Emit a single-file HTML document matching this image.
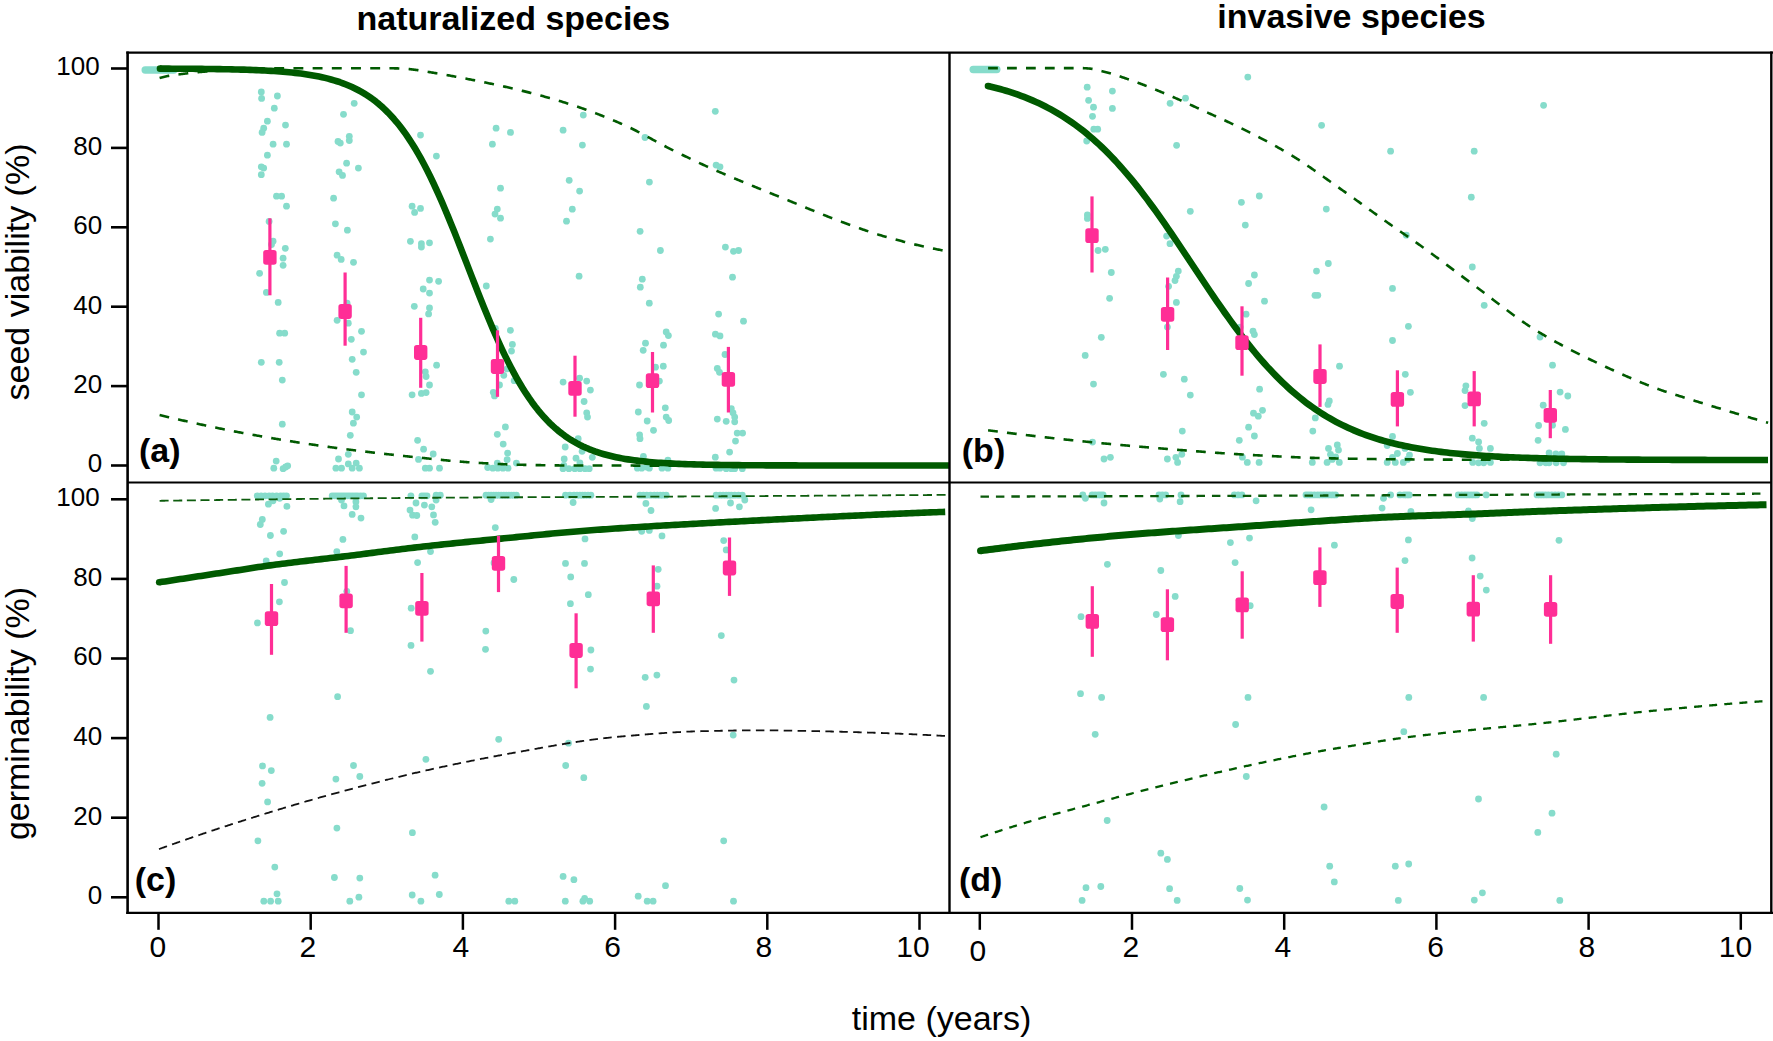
<!DOCTYPE html>
<html lang="en"><head><meta charset="utf-8"><title>Seed viability and germinability over time</title>
<style>
html,body{margin:0;padding:0;background:#fff;}
body{width:1773px;height:1041px;overflow:hidden;}
svg{display:block;}
text{font-family:"Liberation Sans",sans-serif;fill:#000;}
.tk{font-size:26px;}
.tx{font-size:30px;}
.ax{font-size:34px;}
.ti{font-size:34px;font-weight:bold;}
.pl{font-size:34px;font-weight:bold;}
</style></head><body>
<svg width="1773" height="1041" viewBox="0 0 1773 1041">
<rect width="1773" height="1041" fill="#fff"/>
<defs>
<clipPath id="ca"><rect x="127.6" y="52.6" width="821.9" height="429.8"/></clipPath>
<clipPath id="cb"><rect x="949.5" y="52.6" width="821.8" height="429.8"/></clipPath>
<clipPath id="cc"><rect x="127.6" y="482.4" width="821.9" height="430.4"/></clipPath>
<clipPath id="cd"><rect x="949.5" y="482.4" width="821.8" height="430.4"/></clipPath>
</defs>

<g fill="#86dccb">
<rect x="141.5" y="66.3" width="36" height="7.4" rx="3.7"/>
<rect x="969.5" y="65.8" width="31" height="7.4" rx="3.7"/>
<circle cx="261.3" cy="92.0" r="3.4"/>
<circle cx="261.6" cy="98.4" r="3.4"/>
<circle cx="277.4" cy="96.0" r="3.4"/>
<circle cx="274.3" cy="108.2" r="3.4"/>
<circle cx="267.4" cy="121.2" r="3.4"/>
<circle cx="285.5" cy="125.1" r="3.4"/>
<circle cx="263.7" cy="128.2" r="3.4"/>
<circle cx="262.1" cy="132.4" r="3.4"/>
<circle cx="273.1" cy="144.2" r="3.4"/>
<circle cx="286.5" cy="144.2" r="3.4"/>
<circle cx="267.4" cy="155.2" r="3.4"/>
<circle cx="261.3" cy="166.8" r="3.4"/>
<circle cx="263.7" cy="168.1" r="3.4"/>
<circle cx="261.3" cy="174.7" r="3.4"/>
<circle cx="276.5" cy="196.2" r="3.4"/>
<circle cx="281.6" cy="196.2" r="3.4"/>
<circle cx="286.5" cy="206.2" r="3.4"/>
<circle cx="269.1" cy="221.4" r="3.4"/>
<circle cx="354.2" cy="103.3" r="3.4"/>
<circle cx="343.5" cy="114.3" r="3.4"/>
<circle cx="349.3" cy="136.3" r="3.4"/>
<circle cx="349.3" cy="140.5" r="3.4"/>
<circle cx="338.0" cy="141.4" r="3.4"/>
<circle cx="340.3" cy="143.1" r="3.4"/>
<circle cx="346.6" cy="163.2" r="3.4"/>
<circle cx="358.4" cy="168.1" r="3.4"/>
<circle cx="339.1" cy="171.8" r="3.4"/>
<circle cx="342.5" cy="175.4" r="3.4"/>
<circle cx="333.6" cy="198.2" r="3.4"/>
<circle cx="335.4" cy="223.8" r="3.4"/>
<circle cx="420.5" cy="135.1" r="3.4"/>
<circle cx="412.1" cy="206.2" r="3.4"/>
<circle cx="420.5" cy="208.4" r="3.4"/>
<circle cx="414.6" cy="212.4" r="3.4"/>
<circle cx="273.1" cy="241.2" r="3.4"/>
<circle cx="271.5" cy="244.5" r="3.4"/>
<circle cx="285.3" cy="248.3" r="3.4"/>
<circle cx="283.1" cy="258.2" r="3.4"/>
<circle cx="283.1" cy="265.3" r="3.4"/>
<circle cx="259.6" cy="273.3" r="3.4"/>
<circle cx="266.4" cy="292.4" r="3.4"/>
<circle cx="278.2" cy="302.4" r="3.4"/>
<circle cx="279.6" cy="333.2" r="3.4"/>
<circle cx="284.7" cy="333.2" r="3.4"/>
<circle cx="261.3" cy="362.3" r="3.4"/>
<circle cx="279.2" cy="362.3" r="3.4"/>
<circle cx="282.3" cy="380.1" r="3.4"/>
<circle cx="347.4" cy="230.2" r="3.4"/>
<circle cx="337.1" cy="255.2" r="3.4"/>
<circle cx="341.2" cy="259.4" r="3.4"/>
<circle cx="353.5" cy="262.3" r="3.4"/>
<circle cx="347.1" cy="303.2" r="3.4"/>
<circle cx="337.1" cy="320.3" r="3.4"/>
<circle cx="348.3" cy="323.2" r="3.4"/>
<circle cx="361.5" cy="331.3" r="3.4"/>
<circle cx="351.3" cy="339.3" r="3.4"/>
<circle cx="363.5" cy="352.1" r="3.4"/>
<circle cx="352.2" cy="359.3" r="3.4"/>
<circle cx="356.2" cy="372.3" r="3.4"/>
<circle cx="361.5" cy="394.8" r="3.4"/>
<circle cx="410.4" cy="241.3" r="3.4"/>
<circle cx="421.4" cy="243.7" r="3.4"/>
<circle cx="421.4" cy="247.1" r="3.4"/>
<circle cx="429.5" cy="242.8" r="3.4"/>
<circle cx="423.2" cy="289.0" r="3.4"/>
<circle cx="429.5" cy="280.1" r="3.4"/>
<circle cx="429.5" cy="293.1" r="3.4"/>
<circle cx="414.3" cy="306.3" r="3.4"/>
<circle cx="429.5" cy="308.0" r="3.4"/>
<circle cx="428.6" cy="313.9" r="3.4"/>
<circle cx="425.3" cy="371.8" r="3.4"/>
<circle cx="426.1" cy="376.5" r="3.4"/>
<circle cx="429.5" cy="385.0" r="3.4"/>
<circle cx="412.1" cy="394.8" r="3.4"/>
<circle cx="421.4" cy="393.4" r="3.4"/>
<circle cx="426.1" cy="392.6" r="3.4"/>
<circle cx="282.3" cy="424.2" r="3.4"/>
<circle cx="276.2" cy="461.1" r="3.4"/>
<circle cx="273.8" cy="468.2" r="3.4"/>
<circle cx="283.1" cy="468.7" r="3.4"/>
<circle cx="285.7" cy="467.0" r="3.4"/>
<circle cx="287.7" cy="465.8" r="3.4"/>
<circle cx="352.2" cy="412.0" r="3.4"/>
<circle cx="356.7" cy="417.1" r="3.4"/>
<circle cx="353.4" cy="423.2" r="3.4"/>
<circle cx="350.3" cy="435.3" r="3.4"/>
<circle cx="348.3" cy="454.3" r="3.4"/>
<circle cx="338.5" cy="459.0" r="3.4"/>
<circle cx="348.3" cy="463.9" r="3.4"/>
<circle cx="356.2" cy="463.1" r="3.4"/>
<circle cx="335.9" cy="468.2" r="3.4"/>
<circle cx="341.5" cy="468.2" r="3.4"/>
<circle cx="352.2" cy="468.2" r="3.4"/>
<circle cx="359.4" cy="468.2" r="3.4"/>
<circle cx="417.6" cy="440.3" r="3.4"/>
<circle cx="423.6" cy="449.2" r="3.4"/>
<circle cx="418.5" cy="459.4" r="3.4"/>
<circle cx="425.3" cy="468.2" r="3.4"/>
<circle cx="429.5" cy="468.2" r="3.4"/>
<circle cx="257.2" cy="495.8" r="3.4"/>
<circle cx="261.1" cy="495.8" r="3.4"/>
<circle cx="265.0" cy="495.8" r="3.4"/>
<circle cx="269.1" cy="495.8" r="3.4"/>
<circle cx="272.5" cy="495.8" r="3.4"/>
<circle cx="280.6" cy="495.8" r="3.4"/>
<circle cx="286.5" cy="495.8" r="3.4"/>
<circle cx="279.7" cy="498.3" r="3.4"/>
<circle cx="268.4" cy="504.2" r="3.4"/>
<circle cx="273.0" cy="500.8" r="3.4"/>
<circle cx="286.9" cy="506.4" r="3.4"/>
<circle cx="262.3" cy="519.4" r="3.4"/>
<circle cx="260.3" cy="524.5" r="3.4"/>
<circle cx="283.6" cy="531.3" r="3.4"/>
<circle cx="270.4" cy="535.5" r="3.4"/>
<circle cx="279.7" cy="553.8" r="3.4"/>
<circle cx="266.2" cy="560.9" r="3.4"/>
<circle cx="332.2" cy="495.8" r="3.4"/>
<circle cx="337.3" cy="495.8" r="3.4"/>
<circle cx="342.4" cy="495.8" r="3.4"/>
<circle cx="347.4" cy="495.8" r="3.4"/>
<circle cx="352.5" cy="495.8" r="3.4"/>
<circle cx="357.6" cy="495.8" r="3.4"/>
<circle cx="363.5" cy="495.8" r="3.4"/>
<circle cx="341.5" cy="500.0" r="3.4"/>
<circle cx="344.0" cy="505.9" r="3.4"/>
<circle cx="355.9" cy="501.7" r="3.4"/>
<circle cx="355.9" cy="506.8" r="3.4"/>
<circle cx="352.2" cy="514.4" r="3.4"/>
<circle cx="361.0" cy="518.1" r="3.4"/>
<circle cx="342.9" cy="539.4" r="3.4"/>
<circle cx="336.8" cy="551.6" r="3.4"/>
<circle cx="410.9" cy="495.8" r="3.4"/>
<circle cx="421.9" cy="495.8" r="3.4"/>
<circle cx="427.0" cy="495.8" r="3.4"/>
<circle cx="416.0" cy="503.0" r="3.4"/>
<circle cx="424.4" cy="505.1" r="3.4"/>
<circle cx="410.0" cy="510.1" r="3.4"/>
<circle cx="412.6" cy="515.2" r="3.4"/>
<circle cx="416.8" cy="515.5" r="3.4"/>
<circle cx="414.8" cy="536.9" r="3.4"/>
<circle cx="417.6" cy="562.6" r="3.4"/>
<circle cx="436.4" cy="156.1" r="3.4"/>
<circle cx="496.1" cy="128.2" r="3.4"/>
<circle cx="510.5" cy="132.4" r="3.4"/>
<circle cx="492.4" cy="144.2" r="3.4"/>
<circle cx="500.5" cy="188.2" r="3.4"/>
<circle cx="497.3" cy="209.1" r="3.4"/>
<circle cx="495.0" cy="214.1" r="3.4"/>
<circle cx="500.5" cy="218.2" r="3.4"/>
<circle cx="583.3" cy="115.1" r="3.4"/>
<circle cx="563.1" cy="130.2" r="3.4"/>
<circle cx="582.4" cy="145.1" r="3.4"/>
<circle cx="569.2" cy="180.3" r="3.4"/>
<circle cx="579.6" cy="191.1" r="3.4"/>
<circle cx="572.3" cy="209.2" r="3.4"/>
<circle cx="566.5" cy="221.2" r="3.4"/>
<circle cx="645.0" cy="137.5" r="3.4"/>
<circle cx="649.4" cy="182.1" r="3.4"/>
<circle cx="715.3" cy="111.3" r="3.4"/>
<circle cx="716.1" cy="165.1" r="3.4"/>
<circle cx="720.0" cy="166.8" r="3.4"/>
<circle cx="438.6" cy="281.3" r="3.4"/>
<circle cx="436.6" cy="365.2" r="3.4"/>
<circle cx="490.4" cy="239.1" r="3.4"/>
<circle cx="486.3" cy="286.0" r="3.4"/>
<circle cx="495.3" cy="328.3" r="3.4"/>
<circle cx="510.4" cy="330.3" r="3.4"/>
<circle cx="512.4" cy="344.4" r="3.4"/>
<circle cx="511.5" cy="351.1" r="3.4"/>
<circle cx="507.1" cy="368.9" r="3.4"/>
<circle cx="503.8" cy="375.3" r="3.4"/>
<circle cx="514.2" cy="380.7" r="3.4"/>
<circle cx="499.5" cy="385.0" r="3.4"/>
<circle cx="493.3" cy="392.3" r="3.4"/>
<circle cx="579.1" cy="276.2" r="3.4"/>
<circle cx="579.6" cy="378.2" r="3.4"/>
<circle cx="586.7" cy="381.1" r="3.4"/>
<circle cx="563.1" cy="382.1" r="3.4"/>
<circle cx="590.4" cy="390.1" r="3.4"/>
<circle cx="640.1" cy="231.3" r="3.4"/>
<circle cx="660.4" cy="250.5" r="3.4"/>
<circle cx="642.3" cy="279.2" r="3.4"/>
<circle cx="640.3" cy="287.2" r="3.4"/>
<circle cx="649.3" cy="303.2" r="3.4"/>
<circle cx="666.2" cy="332.0" r="3.4"/>
<circle cx="668.4" cy="335.6" r="3.4"/>
<circle cx="645.5" cy="343.2" r="3.4"/>
<circle cx="663.5" cy="345.2" r="3.4"/>
<circle cx="643.2" cy="350.3" r="3.4"/>
<circle cx="663.3" cy="366.2" r="3.4"/>
<circle cx="655.5" cy="367.2" r="3.4"/>
<circle cx="659.4" cy="381.1" r="3.4"/>
<circle cx="639.5" cy="385.0" r="3.4"/>
<circle cx="718.6" cy="314.1" r="3.4"/>
<circle cx="715.4" cy="334.2" r="3.4"/>
<circle cx="720.0" cy="335.9" r="3.4"/>
<circle cx="717.3" cy="368.4" r="3.4"/>
<circle cx="719.5" cy="372.3" r="3.4"/>
<circle cx="433.2" cy="454.0" r="3.4"/>
<circle cx="439.5" cy="468.2" r="3.4"/>
<circle cx="494.5" cy="395.9" r="3.4"/>
<circle cx="505.4" cy="426.9" r="3.4"/>
<circle cx="497.3" cy="434.3" r="3.4"/>
<circle cx="503.2" cy="444.1" r="3.4"/>
<circle cx="507.6" cy="453.1" r="3.4"/>
<circle cx="507.1" cy="459.7" r="3.4"/>
<circle cx="497.3" cy="463.1" r="3.4"/>
<circle cx="516.4" cy="463.1" r="3.4"/>
<circle cx="487.7" cy="467.5" r="3.4"/>
<circle cx="492.8" cy="468.2" r="3.4"/>
<circle cx="497.8" cy="468.2" r="3.4"/>
<circle cx="502.9" cy="468.2" r="3.4"/>
<circle cx="508.0" cy="468.2" r="3.4"/>
<circle cx="584.1" cy="401.5" r="3.4"/>
<circle cx="586.7" cy="412.8" r="3.4"/>
<circle cx="587.5" cy="417.1" r="3.4"/>
<circle cx="578.2" cy="438.7" r="3.4"/>
<circle cx="565.2" cy="447.0" r="3.4"/>
<circle cx="582.1" cy="451.3" r="3.4"/>
<circle cx="564.2" cy="458.9" r="3.4"/>
<circle cx="576.0" cy="458.2" r="3.4"/>
<circle cx="592.3" cy="457.3" r="3.4"/>
<circle cx="579.9" cy="462.8" r="3.4"/>
<circle cx="563.8" cy="465.3" r="3.4"/>
<circle cx="563.0" cy="468.7" r="3.4"/>
<circle cx="568.9" cy="468.7" r="3.4"/>
<circle cx="574.8" cy="468.7" r="3.4"/>
<circle cx="579.9" cy="468.7" r="3.4"/>
<circle cx="585.0" cy="468.7" r="3.4"/>
<circle cx="589.2" cy="468.7" r="3.4"/>
<circle cx="638.3" cy="412.0" r="3.4"/>
<circle cx="665.3" cy="407.8" r="3.4"/>
<circle cx="666.2" cy="417.1" r="3.4"/>
<circle cx="668.7" cy="420.5" r="3.4"/>
<circle cx="647.2" cy="421.0" r="3.4"/>
<circle cx="653.5" cy="430.3" r="3.4"/>
<circle cx="639.6" cy="434.8" r="3.4"/>
<circle cx="640.0" cy="438.7" r="3.4"/>
<circle cx="643.4" cy="456.3" r="3.4"/>
<circle cx="667.9" cy="460.2" r="3.4"/>
<circle cx="637.4" cy="468.2" r="3.4"/>
<circle cx="641.7" cy="468.2" r="3.4"/>
<circle cx="646.7" cy="467.0" r="3.4"/>
<circle cx="649.3" cy="468.2" r="3.4"/>
<circle cx="662.0" cy="468.2" r="3.4"/>
<circle cx="667.9" cy="468.2" r="3.4"/>
<circle cx="717.3" cy="419.1" r="3.4"/>
<circle cx="715.3" cy="457.2" r="3.4"/>
<circle cx="716.1" cy="468.2" r="3.4"/>
<circle cx="720.0" cy="468.2" r="3.4"/>
<circle cx="436.1" cy="495.2" r="3.4"/>
<circle cx="440.3" cy="495.2" r="3.4"/>
<circle cx="436.1" cy="500.0" r="3.4"/>
<circle cx="431.8" cy="506.8" r="3.4"/>
<circle cx="433.5" cy="514.9" r="3.4"/>
<circle cx="435.2" cy="522.3" r="3.4"/>
<circle cx="430.5" cy="551.6" r="3.4"/>
<circle cx="486.0" cy="495.2" r="3.4"/>
<circle cx="491.1" cy="495.2" r="3.4"/>
<circle cx="496.1" cy="495.2" r="3.4"/>
<circle cx="501.2" cy="495.2" r="3.4"/>
<circle cx="506.3" cy="495.2" r="3.4"/>
<circle cx="511.4" cy="495.2" r="3.4"/>
<circle cx="516.4" cy="495.2" r="3.4"/>
<circle cx="491.1" cy="499.6" r="3.4"/>
<circle cx="495.3" cy="527.6" r="3.4"/>
<circle cx="565.5" cy="495.2" r="3.4"/>
<circle cx="574.0" cy="495.2" r="3.4"/>
<circle cx="579.9" cy="495.2" r="3.4"/>
<circle cx="585.0" cy="495.2" r="3.4"/>
<circle cx="590.9" cy="495.2" r="3.4"/>
<circle cx="573.1" cy="502.5" r="3.4"/>
<circle cx="585.0" cy="538.9" r="3.4"/>
<circle cx="565.5" cy="563.4" r="3.4"/>
<circle cx="584.5" cy="563.4" r="3.4"/>
<circle cx="640.0" cy="495.2" r="3.4"/>
<circle cx="646.7" cy="495.2" r="3.4"/>
<circle cx="654.3" cy="495.2" r="3.4"/>
<circle cx="660.3" cy="495.2" r="3.4"/>
<circle cx="666.2" cy="495.2" r="3.4"/>
<circle cx="645.9" cy="503.4" r="3.4"/>
<circle cx="651.0" cy="510.5" r="3.4"/>
<circle cx="641.7" cy="531.3" r="3.4"/>
<circle cx="649.3" cy="530.4" r="3.4"/>
<circle cx="662.0" cy="535.9" r="3.4"/>
<circle cx="716.1" cy="495.2" r="3.4"/>
<circle cx="720.0" cy="495.2" r="3.4"/>
<circle cx="715.6" cy="508.4" r="3.4"/>
<circle cx="725.4" cy="247.1" r="3.4"/>
<circle cx="733.5" cy="251.3" r="3.4"/>
<circle cx="738.6" cy="250.5" r="3.4"/>
<circle cx="732.5" cy="277.2" r="3.4"/>
<circle cx="743.5" cy="321.2" r="3.4"/>
<circle cx="725.0" cy="354.5" r="3.4"/>
<circle cx="731.3" cy="408.6" r="3.4"/>
<circle cx="733.0" cy="412.8" r="3.4"/>
<circle cx="734.7" cy="417.1" r="3.4"/>
<circle cx="726.2" cy="421.3" r="3.4"/>
<circle cx="734.7" cy="421.8" r="3.4"/>
<circle cx="737.2" cy="433.1" r="3.4"/>
<circle cx="742.6" cy="433.1" r="3.4"/>
<circle cx="735.5" cy="441.1" r="3.4"/>
<circle cx="729.6" cy="452.1" r="3.4"/>
<circle cx="726.2" cy="468.7" r="3.4"/>
<circle cx="731.3" cy="468.7" r="3.4"/>
<circle cx="734.7" cy="468.7" r="3.4"/>
<circle cx="742.3" cy="468.7" r="3.4"/>
<circle cx="726.2" cy="495.2" r="3.4"/>
<circle cx="731.3" cy="495.2" r="3.4"/>
<circle cx="734.7" cy="495.2" r="3.4"/>
<circle cx="742.3" cy="495.2" r="3.4"/>
<circle cx="744.8" cy="500.0" r="3.4"/>
<circle cx="730.5" cy="503.0" r="3.4"/>
<circle cx="739.4" cy="506.8" r="3.4"/>
<circle cx="723.7" cy="540.6" r="3.4"/>
<circle cx="726.2" cy="549.9" r="3.4"/>
<circle cx="1087.2" cy="87.2" r="3.4"/>
<circle cx="1112.4" cy="91.1" r="3.4"/>
<circle cx="1088.6" cy="100.3" r="3.4"/>
<circle cx="1093.5" cy="107.2" r="3.4"/>
<circle cx="1112.4" cy="108.4" r="3.4"/>
<circle cx="1092.5" cy="116.3" r="3.4"/>
<circle cx="1093.8" cy="129.2" r="3.4"/>
<circle cx="1097.7" cy="129.2" r="3.4"/>
<circle cx="1086.7" cy="141.0" r="3.4"/>
<circle cx="1087.4" cy="215.0" r="3.4"/>
<circle cx="1087.4" cy="218.4" r="3.4"/>
<circle cx="1185.5" cy="98.2" r="3.4"/>
<circle cx="1170.1" cy="103.3" r="3.4"/>
<circle cx="1176.6" cy="145.3" r="3.4"/>
<circle cx="1190.3" cy="211.3" r="3.4"/>
<circle cx="1247.8" cy="77.1" r="3.4"/>
<circle cx="1241.4" cy="202.3" r="3.4"/>
<circle cx="1245.3" cy="225.1" r="3.4"/>
<circle cx="1098.1" cy="250.5" r="3.4"/>
<circle cx="1105.3" cy="249.3" r="3.4"/>
<circle cx="1111.3" cy="272.5" r="3.4"/>
<circle cx="1109.6" cy="298.3" r="3.4"/>
<circle cx="1101.3" cy="337.3" r="3.4"/>
<circle cx="1085.2" cy="355.4" r="3.4"/>
<circle cx="1093.5" cy="384.1" r="3.4"/>
<circle cx="1166.6" cy="236.1" r="3.4"/>
<circle cx="1170.0" cy="243.7" r="3.4"/>
<circle cx="1178.3" cy="271.1" r="3.4"/>
<circle cx="1176.4" cy="276.3" r="3.4"/>
<circle cx="1175.0" cy="280.6" r="3.4"/>
<circle cx="1168.6" cy="286.3" r="3.4"/>
<circle cx="1176.4" cy="302.4" r="3.4"/>
<circle cx="1167.4" cy="327.1" r="3.4"/>
<circle cx="1163.4" cy="374.3" r="3.4"/>
<circle cx="1184.3" cy="379.2" r="3.4"/>
<circle cx="1190.3" cy="395.1" r="3.4"/>
<circle cx="1248.6" cy="283.5" r="3.4"/>
<circle cx="1246.1" cy="314.2" r="3.4"/>
<circle cx="1240.2" cy="327.1" r="3.4"/>
<circle cx="1092.5" cy="442.1" r="3.4"/>
<circle cx="1104.0" cy="459.0" r="3.4"/>
<circle cx="1110.4" cy="457.3" r="3.4"/>
<circle cx="1182.3" cy="431.1" r="3.4"/>
<circle cx="1181.8" cy="454.3" r="3.4"/>
<circle cx="1175.9" cy="457.3" r="3.4"/>
<circle cx="1167.4" cy="459.0" r="3.4"/>
<circle cx="1177.6" cy="462.4" r="3.4"/>
<circle cx="1248.6" cy="427.2" r="3.4"/>
<circle cx="1239.3" cy="440.3" r="3.4"/>
<circle cx="1242.4" cy="457.2" r="3.4"/>
<circle cx="1247.3" cy="462.4" r="3.4"/>
<circle cx="1082.8" cy="494.9" r="3.4"/>
<circle cx="1092.1" cy="494.9" r="3.4"/>
<circle cx="1098.1" cy="494.9" r="3.4"/>
<circle cx="1103.1" cy="494.9" r="3.4"/>
<circle cx="1085.4" cy="498.3" r="3.4"/>
<circle cx="1104.0" cy="503.0" r="3.4"/>
<circle cx="1107.4" cy="564.3" r="3.4"/>
<circle cx="1159.0" cy="494.9" r="3.4"/>
<circle cx="1165.7" cy="494.9" r="3.4"/>
<circle cx="1181.0" cy="494.9" r="3.4"/>
<circle cx="1159.8" cy="499.1" r="3.4"/>
<circle cx="1180.1" cy="501.7" r="3.4"/>
<circle cx="1178.4" cy="535.5" r="3.4"/>
<circle cx="1234.3" cy="494.9" r="3.4"/>
<circle cx="1241.9" cy="494.9" r="3.4"/>
<circle cx="1230.4" cy="542.6" r="3.4"/>
<circle cx="1249.5" cy="538.1" r="3.4"/>
<circle cx="1235.1" cy="562.6" r="3.4"/>
<circle cx="1321.6" cy="125.3" r="3.4"/>
<circle cx="1390.6" cy="151.2" r="3.4"/>
<circle cx="1474.2" cy="151.2" r="3.4"/>
<circle cx="1259.3" cy="196.0" r="3.4"/>
<circle cx="1326.3" cy="209.1" r="3.4"/>
<circle cx="1471.3" cy="197.2" r="3.4"/>
<circle cx="1254.4" cy="275.0" r="3.4"/>
<circle cx="1264.5" cy="301.2" r="3.4"/>
<circle cx="1253.0" cy="331.2" r="3.4"/>
<circle cx="1254.4" cy="334.6" r="3.4"/>
<circle cx="1259.6" cy="389.2" r="3.4"/>
<circle cx="1328.3" cy="263.5" r="3.4"/>
<circle cx="1316.5" cy="271.1" r="3.4"/>
<circle cx="1315.0" cy="295.3" r="3.4"/>
<circle cx="1317.8" cy="295.3" r="3.4"/>
<circle cx="1339.5" cy="366.2" r="3.4"/>
<circle cx="1406.3" cy="235.2" r="3.4"/>
<circle cx="1392.5" cy="288.4" r="3.4"/>
<circle cx="1408.4" cy="326.3" r="3.4"/>
<circle cx="1392.5" cy="340.5" r="3.4"/>
<circle cx="1405.3" cy="374.3" r="3.4"/>
<circle cx="1410.4" cy="392.3" r="3.4"/>
<circle cx="1472.3" cy="267.0" r="3.4"/>
<circle cx="1484.2" cy="305.3" r="3.4"/>
<circle cx="1465.9" cy="385.8" r="3.4"/>
<circle cx="1465.0" cy="390.6" r="3.4"/>
<circle cx="1540.0" cy="337.1" r="3.4"/>
<circle cx="1262.5" cy="410.3" r="3.4"/>
<circle cx="1253.5" cy="413.2" r="3.4"/>
<circle cx="1258.3" cy="416.2" r="3.4"/>
<circle cx="1254.4" cy="436.0" r="3.4"/>
<circle cx="1259.1" cy="462.4" r="3.4"/>
<circle cx="1329.3" cy="401.0" r="3.4"/>
<circle cx="1328.0" cy="404.4" r="3.4"/>
<circle cx="1315.3" cy="417.9" r="3.4"/>
<circle cx="1312.8" cy="431.1" r="3.4"/>
<circle cx="1337.3" cy="445.0" r="3.4"/>
<circle cx="1328.5" cy="448.4" r="3.4"/>
<circle cx="1338.5" cy="450.1" r="3.4"/>
<circle cx="1330.5" cy="454.3" r="3.4"/>
<circle cx="1335.6" cy="456.8" r="3.4"/>
<circle cx="1332.2" cy="459.4" r="3.4"/>
<circle cx="1312.3" cy="462.4" r="3.4"/>
<circle cx="1327.1" cy="462.4" r="3.4"/>
<circle cx="1339.3" cy="462.4" r="3.4"/>
<circle cx="1392.5" cy="436.5" r="3.4"/>
<circle cx="1387.2" cy="445.5" r="3.4"/>
<circle cx="1405.0" cy="448.4" r="3.4"/>
<circle cx="1397.4" cy="453.5" r="3.4"/>
<circle cx="1409.5" cy="455.1" r="3.4"/>
<circle cx="1392.5" cy="457.3" r="3.4"/>
<circle cx="1407.5" cy="459.4" r="3.4"/>
<circle cx="1387.2" cy="462.4" r="3.4"/>
<circle cx="1395.3" cy="462.4" r="3.4"/>
<circle cx="1403.3" cy="462.4" r="3.4"/>
<circle cx="1465.0" cy="405.6" r="3.4"/>
<circle cx="1484.2" cy="423.3" r="3.4"/>
<circle cx="1472.3" cy="438.2" r="3.4"/>
<circle cx="1478.6" cy="441.9" r="3.4"/>
<circle cx="1479.4" cy="448.4" r="3.4"/>
<circle cx="1490.4" cy="448.4" r="3.4"/>
<circle cx="1472.7" cy="462.4" r="3.4"/>
<circle cx="1478.6" cy="462.8" r="3.4"/>
<circle cx="1483.7" cy="462.8" r="3.4"/>
<circle cx="1490.4" cy="462.4" r="3.4"/>
<circle cx="1538.6" cy="425.5" r="3.4"/>
<circle cx="1538.1" cy="440.3" r="3.4"/>
<circle cx="1540.0" cy="462.8" r="3.4"/>
<circle cx="1256.1" cy="500.8" r="3.4"/>
<circle cx="1306.0" cy="494.9" r="3.4"/>
<circle cx="1311.1" cy="494.9" r="3.4"/>
<circle cx="1317.8" cy="494.9" r="3.4"/>
<circle cx="1323.8" cy="494.9" r="3.4"/>
<circle cx="1329.7" cy="494.9" r="3.4"/>
<circle cx="1335.6" cy="494.9" r="3.4"/>
<circle cx="1311.1" cy="509.8" r="3.4"/>
<circle cx="1390.6" cy="494.9" r="3.4"/>
<circle cx="1399.9" cy="494.9" r="3.4"/>
<circle cx="1404.1" cy="494.9" r="3.4"/>
<circle cx="1409.2" cy="494.9" r="3.4"/>
<circle cx="1383.5" cy="498.3" r="3.4"/>
<circle cx="1382.1" cy="508.1" r="3.4"/>
<circle cx="1410.9" cy="511.5" r="3.4"/>
<circle cx="1458.3" cy="494.9" r="3.4"/>
<circle cx="1465.0" cy="494.9" r="3.4"/>
<circle cx="1471.0" cy="494.9" r="3.4"/>
<circle cx="1476.9" cy="494.9" r="3.4"/>
<circle cx="1486.2" cy="494.9" r="3.4"/>
<circle cx="1468.4" cy="511.0" r="3.4"/>
<circle cx="1472.3" cy="518.6" r="3.4"/>
<circle cx="1537.0" cy="494.9" r="3.4"/>
<circle cx="1334.4" cy="545.2" r="3.4"/>
<circle cx="1408.4" cy="539.9" r="3.4"/>
<circle cx="1405.0" cy="560.6" r="3.4"/>
<circle cx="1472.1" cy="558.0" r="3.4"/>
<circle cx="1543.6" cy="105.3" r="3.4"/>
<circle cx="1552.5" cy="365.2" r="3.4"/>
<circle cx="1560.1" cy="392.1" r="3.4"/>
<circle cx="1567.8" cy="396.0" r="3.4"/>
<circle cx="1543.2" cy="405.2" r="3.4"/>
<circle cx="1552.5" cy="425.2" r="3.4"/>
<circle cx="1565.4" cy="429.4" r="3.4"/>
<circle cx="1549.1" cy="452.9" r="3.4"/>
<circle cx="1555.9" cy="454.0" r="3.4"/>
<circle cx="1561.8" cy="454.0" r="3.4"/>
<circle cx="1545.8" cy="462.8" r="3.4"/>
<circle cx="1549.1" cy="462.8" r="3.4"/>
<circle cx="1556.2" cy="462.8" r="3.4"/>
<circle cx="1563.5" cy="462.8" r="3.4"/>
<circle cx="1542.4" cy="494.9" r="3.4"/>
<circle cx="1548.3" cy="494.9" r="3.4"/>
<circle cx="1555.1" cy="494.9" r="3.4"/>
<circle cx="1561.8" cy="494.9" r="3.4"/>
<circle cx="1559.0" cy="540.3" r="3.4"/>
<circle cx="284.5" cy="582.5" r="3.4"/>
<circle cx="279.4" cy="601.8" r="3.4"/>
<circle cx="257.4" cy="622.9" r="3.4"/>
<circle cx="270.1" cy="717.4" r="3.4"/>
<circle cx="346.8" cy="591.3" r="3.4"/>
<circle cx="350.5" cy="630.7" r="3.4"/>
<circle cx="337.6" cy="696.7" r="3.4"/>
<circle cx="411.2" cy="608.2" r="3.4"/>
<circle cx="411.0" cy="645.4" r="3.4"/>
<circle cx="430.5" cy="671.3" r="3.4"/>
<circle cx="513.8" cy="579.5" r="3.4"/>
<circle cx="485.8" cy="631.1" r="3.4"/>
<circle cx="485.5" cy="649.3" r="3.4"/>
<circle cx="494.0" cy="563.0" r="3.4"/>
<circle cx="262.5" cy="765.9" r="3.4"/>
<circle cx="271.3" cy="770.6" r="3.4"/>
<circle cx="262.1" cy="783.3" r="3.4"/>
<circle cx="267.6" cy="801.9" r="3.4"/>
<circle cx="257.9" cy="840.8" r="3.4"/>
<circle cx="274.8" cy="867.1" r="3.4"/>
<circle cx="277.0" cy="893.8" r="3.4"/>
<circle cx="263.8" cy="901.2" r="3.4"/>
<circle cx="270.6" cy="901.2" r="3.4"/>
<circle cx="278.2" cy="901.2" r="3.4"/>
<circle cx="353.5" cy="765.5" r="3.4"/>
<circle cx="335.9" cy="779.1" r="3.4"/>
<circle cx="359.8" cy="776.5" r="3.4"/>
<circle cx="336.9" cy="828.1" r="3.4"/>
<circle cx="334.4" cy="877.5" r="3.4"/>
<circle cx="359.8" cy="878.1" r="3.4"/>
<circle cx="358.9" cy="897.2" r="3.4"/>
<circle cx="349.8" cy="901.2" r="3.4"/>
<circle cx="425.9" cy="759.3" r="3.4"/>
<circle cx="412.4" cy="832.7" r="3.4"/>
<circle cx="435.1" cy="875.2" r="3.4"/>
<circle cx="412.2" cy="895.0" r="3.4"/>
<circle cx="439.3" cy="894.5" r="3.4"/>
<circle cx="420.9" cy="901.2" r="3.4"/>
<circle cx="498.7" cy="739.3" r="3.4"/>
<circle cx="508.8" cy="901.2" r="3.4"/>
<circle cx="514.8" cy="901.2" r="3.4"/>
<circle cx="570.7" cy="576.9" r="3.4"/>
<circle cx="588.3" cy="594.7" r="3.4"/>
<circle cx="570.4" cy="603.7" r="3.4"/>
<circle cx="590.9" cy="650.0" r="3.4"/>
<circle cx="590.5" cy="669.1" r="3.4"/>
<circle cx="658.2" cy="569.3" r="3.4"/>
<circle cx="657.0" cy="586.2" r="3.4"/>
<circle cx="645.2" cy="677.3" r="3.4"/>
<circle cx="656.9" cy="675.1" r="3.4"/>
<circle cx="646.4" cy="706.4" r="3.4"/>
<circle cx="721.3" cy="635.6" r="3.4"/>
<circle cx="734.0" cy="680.1" r="3.4"/>
<circle cx="733.2" cy="735.1" r="3.4"/>
<circle cx="568.5" cy="743.2" r="3.4"/>
<circle cx="565.7" cy="765.5" r="3.4"/>
<circle cx="583.8" cy="777.7" r="3.4"/>
<circle cx="563.1" cy="876.4" r="3.4"/>
<circle cx="573.9" cy="879.7" r="3.4"/>
<circle cx="565.3" cy="901.2" r="3.4"/>
<circle cx="584.6" cy="898.4" r="3.4"/>
<circle cx="582.9" cy="901.2" r="3.4"/>
<circle cx="589.7" cy="901.2" r="3.4"/>
<circle cx="638.2" cy="896.2" r="3.4"/>
<circle cx="647.2" cy="901.2" r="3.4"/>
<circle cx="653.1" cy="901.2" r="3.4"/>
<circle cx="665.5" cy="885.7" r="3.4"/>
<circle cx="723.7" cy="840.8" r="3.4"/>
<circle cx="733.5" cy="901.2" r="3.4"/>
<circle cx="1081.0" cy="616.7" r="3.4"/>
<circle cx="1080.5" cy="693.7" r="3.4"/>
<circle cx="1101.6" cy="697.4" r="3.4"/>
<circle cx="1095.2" cy="734.3" r="3.4"/>
<circle cx="1160.8" cy="570.5" r="3.4"/>
<circle cx="1175.2" cy="596.4" r="3.4"/>
<circle cx="1156.3" cy="614.5" r="3.4"/>
<circle cx="1250.2" cy="605.7" r="3.4"/>
<circle cx="1248.0" cy="697.4" r="3.4"/>
<circle cx="1235.6" cy="724.5" r="3.4"/>
<circle cx="1107.2" cy="820.5" r="3.4"/>
<circle cx="1086.0" cy="887.7" r="3.4"/>
<circle cx="1100.8" cy="886.5" r="3.4"/>
<circle cx="1082.1" cy="900.4" r="3.4"/>
<circle cx="1160.8" cy="853.2" r="3.4"/>
<circle cx="1167.4" cy="859.4" r="3.4"/>
<circle cx="1169.6" cy="888.7" r="3.4"/>
<circle cx="1177.2" cy="900.4" r="3.4"/>
<circle cx="1246.3" cy="776.5" r="3.4"/>
<circle cx="1239.8" cy="888.5" r="3.4"/>
<circle cx="1247.5" cy="900.1" r="3.4"/>
<circle cx="1324.1" cy="807.0" r="3.4"/>
<circle cx="1329.7" cy="866.2" r="3.4"/>
<circle cx="1334.3" cy="881.9" r="3.4"/>
<circle cx="1480.2" cy="576.1" r="3.4"/>
<circle cx="1486.3" cy="590.1" r="3.4"/>
<circle cx="1408.8" cy="697.4" r="3.4"/>
<circle cx="1483.6" cy="697.4" r="3.4"/>
<circle cx="1403.8" cy="731.7" r="3.4"/>
<circle cx="1395.3" cy="866.2" r="3.4"/>
<circle cx="1408.7" cy="864.0" r="3.4"/>
<circle cx="1398.3" cy="900.4" r="3.4"/>
<circle cx="1478.5" cy="799.0" r="3.4"/>
<circle cx="1482.4" cy="892.8" r="3.4"/>
<circle cx="1474.3" cy="900.1" r="3.4"/>
<circle cx="1556.2" cy="754.2" r="3.4"/>
<circle cx="1552.0" cy="813.2" r="3.4"/>
<circle cx="1537.8" cy="832.4" r="3.4"/>
<circle cx="1559.8" cy="900.4" r="3.4"/>
<circle cx="276.6" cy="495.8" r="3.4"/>
<circle cx="283.6" cy="495.8" r="3.4"/>
<circle cx="334.8" cy="495.8" r="3.4"/>
<circle cx="339.9" cy="495.8" r="3.4"/>
<circle cx="344.9" cy="495.8" r="3.4"/>
<circle cx="349.9" cy="495.8" r="3.4"/>
<circle cx="355.1" cy="495.8" r="3.4"/>
<circle cx="360.6" cy="495.8" r="3.4"/>
<circle cx="424.4" cy="495.8" r="3.4"/>
<circle cx="488.6" cy="495.2" r="3.4"/>
<circle cx="493.6" cy="495.2" r="3.4"/>
<circle cx="498.6" cy="495.2" r="3.4"/>
<circle cx="503.8" cy="495.2" r="3.4"/>
<circle cx="508.9" cy="495.2" r="3.4"/>
<circle cx="513.9" cy="495.2" r="3.4"/>
<circle cx="569.8" cy="495.2" r="3.4"/>
<circle cx="577.0" cy="495.2" r="3.4"/>
<circle cx="582.5" cy="495.2" r="3.4"/>
<circle cx="588.0" cy="495.2" r="3.4"/>
<circle cx="643.4" cy="495.2" r="3.4"/>
<circle cx="650.5" cy="495.2" r="3.4"/>
<circle cx="657.3" cy="495.2" r="3.4"/>
<circle cx="663.2" cy="495.2" r="3.4"/>
<circle cx="723.1" cy="495.2" r="3.4"/>
<circle cx="728.8" cy="495.2" r="3.4"/>
<circle cx="738.5" cy="495.2" r="3.4"/>
<circle cx="1095.1" cy="494.9" r="3.4"/>
<circle cx="1100.6" cy="494.9" r="3.4"/>
<circle cx="1162.3" cy="494.9" r="3.4"/>
<circle cx="1238.1" cy="494.9" r="3.4"/>
<circle cx="1308.5" cy="494.9" r="3.4"/>
<circle cx="1314.4" cy="494.9" r="3.4"/>
<circle cx="1320.8" cy="494.9" r="3.4"/>
<circle cx="1326.8" cy="494.9" r="3.4"/>
<circle cx="1332.7" cy="494.9" r="3.4"/>
<circle cx="1406.7" cy="494.9" r="3.4"/>
<circle cx="1461.7" cy="494.9" r="3.4"/>
<circle cx="1468.0" cy="494.9" r="3.4"/>
<circle cx="1474.0" cy="494.9" r="3.4"/>
<circle cx="1539.7" cy="494.9" r="3.4"/>
<circle cx="1545.3" cy="494.9" r="3.4"/>
<circle cx="1551.7" cy="494.9" r="3.4"/>
<circle cx="1558.4" cy="494.9" r="3.4"/>
</g>
<path d="M159.6,78.00 L160.6,77.73 L161.6,77.46 L162.6,77.20 L163.6,76.95 L164.6,76.71 L165.6,76.49 L166.6,76.27 L167.6,76.07 L168.6,75.89 L169.6,75.72 L170.6,75.55 L171.6,75.40 L172.6,75.24 L173.6,75.10 L174.6,74.96 L175.6,74.82 L176.6,74.69 L177.6,74.56 L178.6,74.43 L179.6,74.30 L180.6,74.18 L181.6,74.05 L182.6,73.92 L183.6,73.80 L184.6,73.68 L185.6,73.55 L186.6,73.43 L187.6,73.31 L188.6,73.19 L189.6,73.07 L190.6,72.95 L191.6,72.84 L192.6,72.73 L193.6,72.62 L194.6,72.51 L195.6,72.41 L196.6,72.31 L197.6,72.22 L198.6,72.12 L199.6,72.03 L200.6,71.95 L201.6,71.87 L202.6,71.78 L203.6,71.70 L204.6,71.62 L205.6,71.54 L206.6,71.47 L207.6,71.39 L208.6,71.32 L209.6,71.24 L210.6,71.17 L211.6,71.10 L212.6,71.03 L213.6,70.96 L214.6,70.90 L215.6,70.83 L216.6,70.77 L217.6,70.70 L218.6,70.64 L219.6,70.58 L220.6,70.52 L221.6,70.46 L222.6,70.40 L223.6,70.34 L224.6,70.29 L225.6,70.23 L226.6,70.18 L227.6,70.12 L228.6,70.07 L229.6,70.02 L230.6,69.97 L231.6,69.92 L232.6,69.87 L233.6,69.82 L234.6,69.77 L235.6,69.72 L236.6,69.67 L237.6,69.62 L238.6,69.58 L239.6,69.53 L240.6,69.48 L241.6,69.43 L242.6,69.39 L243.6,69.34 L244.6,69.30 L245.6,69.25 L246.6,69.21 L247.6,69.17 L248.6,69.13 L249.6,69.08 L250.6,69.04 L251.6,69.01 L252.6,68.97 L253.6,68.93 L254.6,68.90 L255.6,68.86 L256.6,68.83 L257.6,68.80 L258.6,68.76 L259.6,68.74 L260.6,68.71 L261.6,68.68 L262.6,68.65 L263.6,68.63 L264.6,68.61 L265.6,68.59 L266.6,68.57 L267.6,68.54 L268.6,68.52 L269.6,68.50 L270.6,68.48 L271.6,68.46 L272.6,68.44 L273.6,68.42 L274.6,68.40 L275.6,68.39 L276.6,68.37 L277.6,68.36 L278.6,68.34 L279.6,68.33 L280.6,68.32 L281.6,68.31 L282.6,68.31 L283.6,68.30 L284.6,68.30 L285.6,68.30 L286.6,68.30 L287.6,68.30 L288.6,68.30 L289.6,68.30 L290.6,68.30 L291.6,68.30 L292.6,68.30 L293.6,68.30 L294.6,68.30 L295.6,68.30 L296.6,68.30 L297.6,68.30 L298.6,68.30 L299.6,68.30 L300.6,68.30 L301.6,68.30 L302.6,68.30 L303.6,68.30 L304.6,68.30 L305.6,68.30 L306.6,68.30 L307.6,68.30 L308.6,68.30 L309.6,68.30 L310.6,68.30 L311.6,68.30 L312.6,68.30 L313.6,68.30 L314.6,68.30 L315.6,68.30 L316.6,68.30 L317.6,68.30 L318.6,68.30 L319.6,68.30 L320.6,68.30 L321.6,68.30 L322.6,68.30 L323.6,68.30 L324.6,68.30 L325.6,68.30 L326.6,68.30 L327.6,68.30 L328.6,68.30 L329.6,68.30 L330.6,68.30 L331.6,68.30 L332.6,68.30 L333.6,68.30 L334.6,68.30 L335.6,68.30 L336.6,68.30 L337.6,68.30 L338.6,68.30 L339.6,68.30 L340.6,68.30 L341.6,68.30 L342.6,68.30 L343.6,68.30 L344.6,68.30 L345.6,68.30 L346.6,68.30 L347.6,68.30 L348.6,68.30 L349.6,68.30 L350.6,68.30 L351.6,68.30 L352.6,68.30 L353.6,68.30 L354.6,68.30 L355.6,68.30 L356.6,68.30 L357.6,68.30 L358.6,68.30 L359.6,68.30 L360.6,68.30 L361.6,68.30 L362.6,68.30 L363.6,68.30 L364.6,68.30 L365.6,68.30 L366.6,68.30 L367.6,68.30 L368.6,68.30 L369.6,68.30 L370.6,68.30 L371.6,68.30 L372.6,68.30 L373.6,68.30 L374.6,68.30 L375.6,68.30 L376.6,68.30 L377.6,68.30 L378.6,68.30 L379.6,68.30 L380.6,68.30 L381.6,68.30 L382.6,68.30 L383.6,68.30 L384.6,68.30 L385.6,68.30 L386.6,68.30 L387.6,68.30 L388.6,68.30 L389.6,68.30 L390.6,68.30 L391.6,68.30 L392.6,68.30 L393.6,68.31 L394.6,68.33 L395.6,68.35 L396.6,68.38 L397.6,68.41 L398.6,68.45 L399.6,68.49 L400.6,68.53 L401.6,68.58 L402.6,68.63 L403.6,68.68 L404.6,68.73 L405.6,68.80 L406.6,68.87 L407.6,68.96 L408.6,69.06 L409.6,69.16 L410.6,69.27 L411.6,69.39 L412.6,69.51 L413.6,69.63 L414.6,69.75 L415.6,69.87 L416.6,70.01 L417.6,70.14 L418.6,70.29 L419.6,70.44 L420.6,70.60 L421.6,70.76 L422.6,70.93 L423.6,71.09 L424.6,71.26 L425.6,71.43 L426.6,71.60 L427.6,71.77 L428.6,71.93 L429.6,72.10 L430.6,72.27 L431.6,72.43 L432.6,72.60 L433.6,72.77 L434.6,72.94 L435.6,73.11 L436.6,73.29 L437.6,73.46 L438.6,73.63 L439.6,73.81 L440.6,73.98 L441.6,74.16 L442.6,74.33 L443.6,74.51 L444.6,74.69 L445.6,74.86 L446.6,75.04 L447.6,75.22 L448.6,75.40 L449.6,75.59 L450.6,75.77 L451.6,75.95 L452.6,76.13 L453.6,76.32 L454.6,76.50 L455.6,76.69 L456.6,76.87 L457.6,77.06 L458.6,77.25 L459.6,77.44 L460.6,77.63 L461.6,77.82 L462.6,78.01 L463.6,78.20 L464.6,78.39 L465.6,78.58 L466.6,78.78 L467.6,78.97 L468.6,79.17 L469.6,79.36 L470.6,79.56 L471.6,79.76 L472.6,79.96 L473.6,80.15 L474.6,80.35 L475.6,80.55 L476.6,80.75 L477.6,80.95 L478.6,81.15 L479.6,81.35 L480.6,81.56 L481.6,81.76 L482.6,81.96 L483.6,82.17 L484.6,82.37 L485.6,82.58 L486.6,82.78 L487.6,82.99 L488.6,83.20 L489.6,83.40 L490.6,83.61 L491.6,83.82 L492.6,84.04 L493.6,84.25 L494.6,84.46 L495.6,84.67 L496.6,84.89 L497.6,85.10 L498.6,85.32 L499.6,85.54 L500.6,85.76 L501.6,85.98 L502.6,86.20 L503.6,86.42 L504.6,86.64 L505.6,86.87 L506.6,87.09 L507.6,87.32 L508.6,87.55 L509.6,87.77 L510.6,88.00 L511.6,88.24 L512.6,88.47 L513.6,88.70 L514.6,88.94 L515.6,89.18 L516.6,89.41 L517.6,89.65 L518.6,89.89 L519.6,90.14 L520.6,90.38 L521.6,90.62 L522.6,90.87 L523.6,91.12 L524.6,91.37 L525.6,91.62 L526.6,91.87 L527.6,92.12 L528.6,92.38 L529.6,92.63 L530.6,92.89 L531.6,93.15 L532.6,93.41 L533.6,93.67 L534.6,93.93 L535.6,94.20 L536.6,94.46 L537.6,94.73 L538.6,95.00 L539.6,95.27 L540.6,95.54 L541.6,95.81 L542.6,96.09 L543.6,96.37 L544.6,96.64 L545.6,96.92 L546.6,97.20 L547.6,97.49 L548.6,97.77 L549.6,98.06 L550.6,98.34 L551.6,98.63 L552.6,98.92 L553.6,99.21 L554.6,99.51 L555.6,99.80 L556.6,100.10 L557.6,100.40 L558.6,100.70 L559.6,101.00 L560.6,101.31 L561.6,101.61 L562.6,101.92 L563.6,102.23 L564.6,102.54 L565.6,102.86 L566.6,103.17 L567.6,103.49 L568.6,103.81 L569.6,104.13 L570.6,104.45 L571.6,104.77 L572.6,105.10 L573.6,105.43 L574.6,105.76 L575.6,106.09 L576.6,106.43 L577.6,106.76 L578.6,107.10 L579.6,107.45 L580.6,107.79 L581.6,108.14 L582.6,108.49 L583.6,108.84 L584.6,109.19 L585.6,109.55 L586.6,109.91 L587.6,110.27 L588.6,110.63 L589.6,111.00 L590.6,111.37 L591.6,111.74 L592.6,112.11 L593.6,112.48 L594.6,112.86 L595.6,113.24 L596.6,113.62 L597.6,114.01 L598.6,114.39 L599.6,114.78 L600.6,115.17 L601.6,115.57 L602.6,115.96 L603.6,116.36 L604.6,116.76 L605.6,117.16 L606.6,117.56 L607.6,117.97 L608.6,118.38 L609.6,118.79 L610.6,119.20 L611.6,119.62 L612.6,120.03 L613.6,120.45 L614.6,120.87 L615.6,121.30 L616.6,121.72 L617.6,122.15 L618.6,122.58 L619.6,123.01 L620.6,123.45 L621.6,123.89 L622.6,124.32 L623.6,124.77 L624.6,125.21 L625.6,125.67 L626.6,126.13 L627.6,126.60 L628.6,127.07 L629.6,127.55 L630.6,128.03 L631.6,128.52 L632.6,129.01 L633.6,129.51 L634.6,130.01 L635.6,130.52 L636.6,131.03 L637.6,131.54 L638.6,132.06 L639.6,132.58 L640.6,133.10 L641.6,133.63 L642.6,134.16 L643.6,134.69 L644.6,135.22 L645.6,135.76 L646.6,136.30 L647.6,136.84 L648.6,137.38 L649.6,137.92 L650.6,138.46 L651.6,139.00 L652.6,139.54 L653.6,140.09 L654.6,140.63 L655.6,141.17 L656.6,141.71 L657.6,142.25 L658.6,142.79 L659.6,143.33 L660.6,143.87 L661.6,144.40 L662.6,144.93 L663.6,145.46 L664.6,145.99 L665.6,146.52 L666.6,147.04 L667.6,147.56 L668.6,148.08 L669.6,148.59 L670.6,149.10 L671.6,149.60 L672.6,150.11 L673.6,150.60 L674.6,151.09 L675.6,151.59 L676.6,152.08 L677.6,152.57 L678.6,153.06 L679.6,153.55 L680.6,154.04 L681.6,154.52 L682.6,155.01 L683.6,155.50 L684.6,155.98 L685.6,156.47 L686.6,156.95 L687.6,157.43 L688.6,157.91 L689.6,158.39 L690.6,158.87 L691.6,159.35 L692.6,159.82 L693.6,160.30 L694.6,160.77 L695.6,161.24 L696.6,161.71 L697.6,162.18 L698.6,162.65 L699.6,163.11 L700.6,163.58 L701.6,164.04 L702.6,164.50 L703.6,164.96 L704.6,165.41 L705.6,165.87 L706.6,166.32 L707.6,166.77 L708.6,167.22 L709.6,167.67 L710.6,168.11 L711.6,168.56 L712.6,169.00 L713.6,169.44 L714.6,169.88 L715.6,170.32 L716.6,170.76 L717.6,171.20 L718.6,171.63 L719.6,172.07 L720.6,172.50 L721.6,172.93 L722.6,173.36 L723.6,173.79 L724.6,174.22 L725.6,174.65 L726.6,175.08 L727.6,175.50 L728.6,175.93 L729.6,176.35 L730.6,176.78 L731.6,177.20 L732.6,177.62 L733.6,178.04 L734.6,178.46 L735.6,178.88 L736.6,179.30 L737.6,179.72 L738.6,180.13 L739.6,180.55 L740.6,180.96 L741.6,181.38 L742.6,181.79 L743.6,182.21 L744.6,182.62 L745.6,183.03 L746.6,183.44 L747.6,183.85 L748.6,184.27 L749.6,184.68 L750.6,185.09 L751.6,185.49 L752.6,185.90 L753.6,186.31 L754.6,186.72 L755.6,187.13 L756.6,187.54 L757.6,187.94 L758.6,188.35 L759.6,188.76 L760.6,189.16 L761.6,189.57 L762.6,189.97 L763.6,190.38 L764.6,190.79 L765.6,191.19 L766.6,191.60 L767.6,192.00 L768.6,192.41 L769.6,192.81 L770.6,193.22 L771.6,193.62 L772.6,194.03 L773.6,194.43 L774.6,194.84 L775.6,195.24 L776.6,195.65 L777.6,196.05 L778.6,196.46 L779.6,196.87 L780.6,197.27 L781.6,197.68 L782.6,198.09 L783.6,198.49 L784.6,198.90 L785.6,199.31 L786.6,199.72 L787.6,200.13 L788.6,200.53 L789.6,200.94 L790.6,201.36 L791.6,201.77 L792.6,202.18 L793.6,202.59 L794.6,203.00 L795.6,203.41 L796.6,203.83 L797.6,204.24 L798.6,204.65 L799.6,205.06 L800.6,205.48 L801.6,205.89 L802.6,206.30 L803.6,206.71 L804.6,207.13 L805.6,207.54 L806.6,207.95 L807.6,208.36 L808.6,208.77 L809.6,209.18 L810.6,209.59 L811.6,210.00 L812.6,210.41 L813.6,210.82 L814.6,211.23 L815.6,211.64 L816.6,212.04 L817.6,212.45 L818.6,212.85 L819.6,213.26 L820.6,213.66 L821.6,214.06 L822.6,214.47 L823.6,214.87 L824.6,215.27 L825.6,215.66 L826.6,216.06 L827.6,216.46 L828.6,216.85 L829.6,217.25 L830.6,217.64 L831.6,218.03 L832.6,218.42 L833.6,218.81 L834.6,219.19 L835.6,219.58 L836.6,219.96 L837.6,220.34 L838.6,220.72 L839.6,221.10 L840.6,221.48 L841.6,221.85 L842.6,222.22 L843.6,222.59 L844.6,222.96 L845.6,223.33 L846.6,223.69 L847.6,224.06 L848.6,224.42 L849.6,224.78 L850.6,225.14 L851.6,225.50 L852.6,225.86 L853.6,226.21 L854.6,226.57 L855.6,226.93 L856.6,227.29 L857.6,227.64 L858.6,228.00 L859.6,228.35 L860.6,228.70 L861.6,229.05 L862.6,229.40 L863.6,229.75 L864.6,230.09 L865.6,230.44 L866.6,230.78 L867.6,231.12 L868.6,231.45 L869.6,231.79 L870.6,232.12 L871.6,232.45 L872.6,232.78 L873.6,233.11 L874.6,233.43 L875.6,233.75 L876.6,234.06 L877.6,234.38 L878.6,234.69 L879.6,234.99 L880.6,235.30 L881.6,235.60 L882.6,235.89 L883.6,236.19 L884.6,236.47 L885.6,236.76 L886.6,237.04 L887.6,237.32 L888.6,237.60 L889.6,237.88 L890.6,238.15 L891.6,238.43 L892.6,238.70 L893.6,238.98 L894.6,239.25 L895.6,239.52 L896.6,239.79 L897.6,240.06 L898.6,240.32 L899.6,240.59 L900.6,240.85 L901.6,241.11 L902.6,241.38 L903.6,241.64 L904.6,241.89 L905.6,242.15 L906.6,242.41 L907.6,242.66 L908.6,242.91 L909.6,243.16 L910.6,243.41 L911.6,243.66 L912.6,243.91 L913.6,244.15 L914.6,244.39 L915.6,244.63 L916.6,244.87 L917.6,245.11 L918.6,245.34 L919.6,245.58 L920.6,245.81 L921.6,246.04 L922.6,246.27 L923.6,246.49 L924.6,246.72 L925.6,246.94 L926.6,247.16 L927.6,247.38 L928.6,247.59 L929.6,247.80 L930.6,248.02 L931.6,248.22 L932.6,248.43 L933.6,248.64 L934.6,248.84 L935.6,249.04 L936.6,249.24 L937.6,249.43 L938.6,249.62 L939.6,249.82 L940.6,250.00 L941.6,250.19 L942.6,250.37" fill="none" stroke="#005a00" stroke-width="2.6" stroke-dasharray="9.905 9.298" stroke-dashoffset="0" clip-path="url(#ca)"/>
<path d="M159.6,415.00 L160.6,415.24 L161.6,415.48 L162.6,415.72 L163.6,415.96 L164.6,416.20 L165.6,416.44 L166.6,416.68 L167.6,416.92 L168.6,417.15 L169.6,417.39 L170.6,417.63 L171.6,417.86 L172.6,418.10 L173.6,418.33 L174.6,418.56 L175.6,418.80 L176.6,419.03 L177.6,419.26 L178.6,419.49 L179.6,419.72 L180.6,419.95 L181.6,420.18 L182.6,420.41 L183.6,420.64 L184.6,420.87 L185.6,421.09 L186.6,421.32 L187.6,421.55 L188.6,421.77 L189.6,422.00 L190.6,422.22 L191.6,422.44 L192.6,422.67 L193.6,422.89 L194.6,423.11 L195.6,423.33 L196.6,423.55 L197.6,423.77 L198.6,423.99 L199.6,424.21 L200.6,424.42 L201.6,424.64 L202.6,424.86 L203.6,425.07 L204.6,425.29 L205.6,425.50 L206.6,425.71 L207.6,425.93 L208.6,426.14 L209.6,426.35 L210.6,426.56 L211.6,426.77 L212.6,426.98 L213.6,427.19 L214.6,427.40 L215.6,427.60 L216.6,427.81 L217.6,428.02 L218.6,428.22 L219.6,428.43 L220.6,428.63 L221.6,428.83 L222.6,429.04 L223.6,429.24 L224.6,429.44 L225.6,429.64 L226.6,429.84 L227.6,430.04 L228.6,430.23 L229.6,430.43 L230.6,430.63 L231.6,430.82 L232.6,431.02 L233.6,431.21 L234.6,431.41 L235.6,431.60 L236.6,431.79 L237.6,431.98 L238.6,432.17 L239.6,432.36 L240.6,432.55 L241.6,432.74 L242.6,432.93 L243.6,433.11 L244.6,433.30 L245.6,433.49 L246.6,433.67 L247.6,433.85 L248.6,434.04 L249.6,434.22 L250.6,434.40 L251.6,434.58 L252.6,434.76 L253.6,434.94 L254.6,435.12 L255.6,435.30 L256.6,435.48 L257.6,435.66 L258.6,435.84 L259.6,436.01 L260.6,436.19 L261.6,436.37 L262.6,436.54 L263.6,436.72 L264.6,436.89 L265.6,437.06 L266.6,437.24 L267.6,437.41 L268.6,437.58 L269.6,437.76 L270.6,437.93 L271.6,438.10 L272.6,438.27 L273.6,438.44 L274.6,438.61 L275.6,438.77 L276.6,438.94 L277.6,439.11 L278.6,439.28 L279.6,439.44 L280.6,439.61 L281.6,439.78 L282.6,439.94 L283.6,440.10 L284.6,440.27 L285.6,440.43 L286.6,440.59 L287.6,440.76 L288.6,440.92 L289.6,441.08 L290.6,441.24 L291.6,441.40 L292.6,441.56 L293.6,441.72 L294.6,441.87 L295.6,442.03 L296.6,442.19 L297.6,442.34 L298.6,442.50 L299.6,442.66 L300.6,442.81 L301.6,442.96 L302.6,443.12 L303.6,443.27 L304.6,443.42 L305.6,443.57 L306.6,443.73 L307.6,443.88 L308.6,444.03 L309.6,444.18 L310.6,444.32 L311.6,444.47 L312.6,444.62 L313.6,444.77 L314.6,444.91 L315.6,445.06 L316.6,445.20 L317.6,445.35 L318.6,445.49 L319.6,445.64 L320.6,445.78 L321.6,445.92 L322.6,446.06 L323.6,446.20 L324.6,446.34 L325.6,446.48 L326.6,446.62 L327.6,446.76 L328.6,446.90 L329.6,447.04 L330.6,447.17 L331.6,447.31 L332.6,447.45 L333.6,447.58 L334.6,447.72 L335.6,447.85 L336.6,447.98 L337.6,448.12 L338.6,448.25 L339.6,448.38 L340.6,448.51 L341.6,448.64 L342.6,448.77 L343.6,448.90 L344.6,449.03 L345.6,449.16 L346.6,449.29 L347.6,449.42 L348.6,449.55 L349.6,449.68 L350.6,449.80 L351.6,449.93 L352.6,450.06 L353.6,450.18 L354.6,450.31 L355.6,450.43 L356.6,450.56 L357.6,450.68 L358.6,450.80 L359.6,450.93 L360.6,451.05 L361.6,451.17 L362.6,451.29 L363.6,451.42 L364.6,451.54 L365.6,451.66 L366.6,451.78 L367.6,451.90 L368.6,452.02 L369.6,452.14 L370.6,452.26 L371.6,452.37 L372.6,452.49 L373.6,452.61 L374.6,452.73 L375.6,452.84 L376.6,452.96 L377.6,453.08 L378.6,453.19 L379.6,453.31 L380.6,453.42 L381.6,453.54 L382.6,453.65 L383.6,453.77 L384.6,453.88 L385.6,453.99 L386.6,454.11 L387.6,454.22 L388.6,454.33 L389.6,454.44 L390.6,454.55 L391.6,454.66 L392.6,454.78 L393.6,454.89 L394.6,455.00 L395.6,455.11 L396.6,455.22 L397.6,455.33 L398.6,455.43 L399.6,455.54 L400.6,455.65 L401.6,455.76 L402.6,455.87 L403.6,455.97 L404.6,456.08 L405.6,456.19 L406.6,456.29 L407.6,456.40 L408.6,456.51 L409.6,456.61 L410.6,456.72 L411.6,456.82 L412.6,456.93 L413.6,457.03 L414.6,457.13 L415.6,457.24 L416.6,457.34 L417.6,457.45 L418.6,457.55 L419.6,457.65 L420.6,457.75 L421.6,457.86 L422.6,457.96 L423.6,458.06 L424.6,458.16 L425.6,458.26 L426.6,458.37 L427.6,458.47 L428.6,458.57 L429.6,458.67 L430.6,458.78 L431.6,458.88 L432.6,458.98 L433.6,459.09 L434.6,459.19 L435.6,459.29 L436.6,459.39 L437.6,459.50 L438.6,459.60 L439.6,459.70 L440.6,459.80 L441.6,459.90 L442.6,460.00 L443.6,460.10 L444.6,460.20 L445.6,460.30 L446.6,460.40 L447.6,460.50 L448.6,460.59 L449.6,460.69 L450.6,460.78 L451.6,460.87 L452.6,460.97 L453.6,461.06 L454.6,461.15 L455.6,461.24 L456.6,461.32 L457.6,461.41 L458.6,461.50 L459.6,461.58 L460.6,461.66 L461.6,461.74 L462.6,461.82 L463.6,461.90 L464.6,461.97 L465.6,462.05 L466.6,462.12 L467.6,462.19 L468.6,462.26 L469.6,462.32 L470.6,462.39 L471.6,462.45 L472.6,462.51 L473.6,462.57 L474.6,462.64 L475.6,462.70 L476.6,462.76 L477.6,462.82 L478.6,462.88 L479.6,462.94 L480.6,463.00 L481.6,463.06 L482.6,463.12 L483.6,463.18 L484.6,463.24 L485.6,463.29 L486.6,463.35 L487.6,463.41 L488.6,463.46 L489.6,463.52 L490.6,463.57 L491.6,463.63 L492.6,463.68 L493.6,463.73 L494.6,463.78 L495.6,463.83 L496.6,463.88 L497.6,463.93 L498.6,463.98 L499.6,464.03 L500.6,464.08 L501.6,464.12 L502.6,464.17 L503.6,464.21 L504.6,464.25 L505.6,464.29 L506.6,464.34 L507.6,464.37 L508.6,464.41 L509.6,464.45 L510.6,464.49 L511.6,464.52 L512.6,464.56 L513.6,464.59 L514.6,464.62 L515.6,464.65 L516.6,464.68 L517.6,464.71 L518.6,464.73 L519.6,464.76 L520.6,464.78 L521.6,464.80 L522.6,464.82 L523.6,464.84 L524.6,464.87 L525.6,464.89 L526.6,464.91 L527.6,464.93 L528.6,464.95 L529.6,464.97 L530.6,464.99 L531.6,465.01 L532.6,465.03 L533.6,465.05 L534.6,465.07 L535.6,465.08 L536.6,465.10 L537.6,465.12 L538.6,465.14 L539.6,465.16 L540.6,465.17 L541.6,465.19 L542.6,465.21 L543.6,465.22 L544.6,465.24 L545.6,465.26 L546.6,465.27 L547.6,465.29 L548.6,465.30 L549.6,465.31 L550.6,465.33 L551.6,465.34 L552.6,465.35 L553.6,465.37 L554.6,465.38 L555.6,465.39 L556.6,465.40 L557.6,465.41 L558.6,465.42 L559.6,465.43 L560.6,465.44 L561.6,465.45 L562.6,465.45 L563.6,465.46 L564.6,465.47 L565.6,465.47 L566.6,465.48 L567.6,465.48 L568.6,465.49 L569.6,465.49 L570.6,465.50 L571.6,465.50 L572.6,465.50 L573.6,465.50 L574.6,465.50 L575.6,465.51 L576.6,465.51 L577.6,465.51 L578.6,465.51 L579.6,465.51 L580.6,465.51 L581.6,465.52 L582.6,465.52 L583.6,465.52 L584.6,465.52 L585.6,465.52 L586.6,465.52 L587.6,465.52 L588.6,465.53 L589.6,465.53 L590.6,465.53 L591.6,465.53 L592.6,465.53 L593.6,465.53 L594.6,465.53 L595.6,465.54 L596.6,465.54 L597.6,465.54 L598.6,465.54 L599.6,465.54 L600.6,465.54 L601.6,465.54 L602.6,465.54 L603.6,465.55 L604.6,465.55 L605.6,465.55 L606.6,465.55 L607.6,465.55 L608.6,465.55 L609.6,465.55 L610.6,465.55 L611.6,465.55 L612.6,465.56 L613.6,465.56 L614.6,465.56 L615.6,465.56 L616.6,465.56 L617.6,465.56 L618.6,465.56 L619.6,465.56 L620.6,465.56 L621.6,465.56 L622.6,465.57 L623.6,465.57 L624.6,465.57 L625.6,465.57 L626.6,465.57 L627.6,465.57 L628.6,465.57 L629.6,465.57 L630.6,465.57 L631.6,465.57 L632.6,465.57 L633.6,465.58 L634.6,465.58 L635.6,465.58 L636.6,465.58 L637.6,465.58 L638.6,465.58 L639.6,465.58 L640.6,465.58 L641.6,465.58 L642.6,465.58 L643.6,465.58 L644.6,465.58 L645.6,465.58 L646.6,465.58 L647.6,465.58 L648.6,465.59 L649.6,465.59 L650.6,465.59 L651.6,465.59 L652.6,465.59 L653.6,465.59 L654.6,465.59 L655.6,465.59 L656.6,465.59 L657.6,465.59 L658.6,465.59 L659.6,465.59 L660.6,465.59 L661.6,465.59 L662.6,465.59 L663.6,465.59 L664.6,465.59 L665.6,465.59 L666.6,465.59 L667.6,465.59 L668.6,465.59 L669.6,465.60 L670.6,465.60 L671.6,465.60 L672.6,465.60 L673.6,465.60 L674.6,465.60 L675.6,465.60 L676.6,465.60 L677.6,465.60 L678.6,465.60 L679.6,465.60 L680.6,465.60 L681.6,465.60 L682.6,465.60 L683.6,465.60 L684.6,465.60 L685.6,465.60 L686.6,465.60 L687.6,465.60 L688.6,465.60 L689.6,465.60 L690.6,465.60 L691.6,465.60 L692.6,465.60 L693.6,465.60 L694.6,465.60 L695.6,465.60 L696.6,465.60 L697.6,465.60 L698.6,465.60 L699.6,465.60 L700.6,465.60 L701.6,465.60 L702.6,465.60 L703.6,465.60 L704.6,465.60 L705.6,465.60 L706.6,465.60 L707.6,465.60 L708.6,465.60 L709.6,465.60 L710.6,465.60 L711.6,465.60 L712.6,465.60 L713.6,465.60 L714.6,465.60 L715.6,465.60 L716.6,465.60 L717.6,465.60 L718.6,465.60 L719.6,465.60 L720.6,465.60 L721.6,465.60 L722.6,465.60 L723.6,465.60 L724.6,465.60 L725.6,465.60 L726.6,465.60 L727.6,465.60 L728.6,465.60 L729.6,465.60 L730.6,465.60 L731.6,465.60 L732.6,465.60 L733.6,465.60 L734.6,465.60 L735.6,465.60 L736.6,465.60 L737.6,465.60 L738.6,465.60 L739.6,465.60 L740.6,465.60 L741.6,465.60 L742.6,465.60 L743.6,465.60 L744.6,465.60 L745.6,465.60 L746.6,465.60 L747.6,465.60 L748.6,465.60 L749.6,465.60 L750.6,465.60 L751.6,465.60 L752.6,465.60 L753.6,465.60 L754.6,465.60 L755.6,465.60 L756.6,465.60 L757.6,465.60 L758.6,465.60 L759.6,465.60 L760.6,465.60 L761.6,465.60 L762.6,465.60 L763.6,465.60 L764.6,465.60 L765.6,465.60 L766.6,465.60 L767.6,465.60 L768.6,465.60 L769.6,465.60 L770.6,465.60 L771.6,465.60 L772.6,465.60 L773.6,465.60 L774.6,465.60 L775.6,465.60 L776.6,465.60 L777.6,465.60 L778.6,465.60 L779.6,465.60 L780.6,465.60 L781.6,465.60 L782.6,465.60 L783.6,465.60 L784.6,465.60 L785.6,465.60 L786.6,465.60 L787.6,465.60 L788.6,465.60 L789.6,465.60 L790.6,465.60 L791.6,465.60 L792.6,465.60 L793.6,465.60 L794.6,465.60 L795.6,465.60 L796.6,465.60 L797.6,465.60 L798.6,465.60 L799.6,465.60 L800.6,465.60 L801.6,465.60 L802.6,465.60 L803.6,465.60 L804.6,465.60 L805.6,465.60 L806.6,465.60 L807.6,465.60 L808.6,465.60 L809.6,465.60 L810.6,465.60 L811.6,465.60 L812.6,465.60 L813.6,465.60 L814.6,465.60 L815.6,465.60 L816.6,465.60 L817.6,465.60 L818.6,465.60 L819.6,465.60 L820.6,465.60 L821.6,465.60 L822.6,465.60 L823.6,465.60 L824.6,465.60 L825.6,465.60 L826.6,465.60 L827.6,465.60 L828.6,465.60 L829.6,465.60 L830.6,465.60 L831.6,465.60 L832.6,465.60 L833.6,465.60 L834.6,465.60 L835.6,465.60 L836.6,465.60 L837.6,465.60 L838.6,465.60 L839.6,465.60 L840.6,465.60 L841.6,465.60 L842.6,465.60 L843.6,465.60 L844.6,465.60 L845.6,465.60 L846.6,465.60 L847.6,465.60 L848.6,465.60 L849.6,465.60 L850.6,465.60 L851.6,465.60 L852.6,465.60 L853.6,465.60 L854.6,465.60 L855.6,465.60 L856.6,465.60 L857.6,465.60 L858.6,465.60 L859.6,465.60 L860.6,465.60 L861.6,465.60 L862.6,465.60 L863.6,465.60 L864.6,465.60 L865.6,465.60 L866.6,465.60 L867.6,465.60 L868.6,465.60 L869.6,465.60 L870.6,465.60 L871.6,465.60 L872.6,465.60 L873.6,465.60 L874.6,465.60 L875.6,465.60 L876.6,465.60 L877.6,465.60 L878.6,465.60 L879.6,465.60 L880.6,465.60 L881.6,465.60 L882.6,465.60 L883.6,465.60 L884.6,465.60 L885.6,465.60 L886.6,465.60 L887.6,465.60 L888.6,465.60 L889.6,465.60 L890.6,465.60 L891.6,465.60 L892.6,465.60 L893.6,465.60 L894.6,465.60 L895.6,465.60 L896.6,465.60 L897.6,465.60 L898.6,465.60 L899.6,465.60 L900.6,465.60 L901.6,465.60 L902.6,465.60 L903.6,465.60 L904.6,465.60 L905.6,465.60 L906.6,465.60 L907.6,465.60 L908.6,465.60 L909.6,465.60 L910.6,465.60 L911.6,465.60 L912.6,465.60 L913.6,465.60 L914.6,465.60 L915.6,465.60 L916.6,465.60 L917.6,465.60 L918.6,465.60 L919.6,465.60 L920.6,465.60 L921.6,465.60 L922.6,465.60 L923.6,465.60 L924.6,465.60 L925.6,465.60 L926.6,465.60 L927.6,465.60 L928.6,465.60 L929.6,465.60 L930.6,465.60 L931.6,465.60 L932.6,465.60 L933.6,465.60 L934.6,465.60 L935.6,465.60 L936.6,465.60 L937.6,465.60 L938.6,465.60 L939.6,465.60 L940.6,465.60 L941.6,465.60 L942.6,465.60 L943.6,465.60 L944.6,465.60 L945.6,465.60" fill="none" stroke="#005a00" stroke-width="2.6" stroke-dasharray="9.8 9.2" stroke-dashoffset="0" clip-path="url(#ca)"/>
<path d="M988.1,68.10 L989.1,68.10 L990.1,68.10 L991.1,68.10 L992.1,68.10 L993.1,68.10 L994.1,68.10 L995.1,68.10 L996.1,68.10 L997.1,68.10 L998.1,68.10 L999.1,68.10 L1000.1,68.10 L1001.1,68.10 L1002.1,68.10 L1003.1,68.10 L1004.1,68.10 L1005.1,68.10 L1006.1,68.10 L1007.1,68.10 L1008.1,68.10 L1009.1,68.10 L1010.1,68.10 L1011.1,68.10 L1012.1,68.10 L1013.1,68.10 L1014.1,68.10 L1015.1,68.10 L1016.1,68.10 L1017.1,68.10 L1018.1,68.10 L1019.1,68.10 L1020.1,68.10 L1021.1,68.10 L1022.1,68.10 L1023.1,68.10 L1024.1,68.10 L1025.1,68.10 L1026.1,68.10 L1027.1,68.10 L1028.1,68.10 L1029.1,68.10 L1030.1,68.10 L1031.1,68.10 L1032.1,68.10 L1033.1,68.10 L1034.1,68.10 L1035.1,68.10 L1036.1,68.10 L1037.1,68.10 L1038.1,68.10 L1039.1,68.10 L1040.1,68.10 L1041.1,68.10 L1042.1,68.10 L1043.1,68.10 L1044.1,68.10 L1045.1,68.10 L1046.1,68.10 L1047.1,68.10 L1048.1,68.10 L1049.1,68.10 L1050.1,68.10 L1051.1,68.10 L1052.1,68.10 L1053.1,68.10 L1054.1,68.10 L1055.1,68.10 L1056.1,68.10 L1057.1,68.10 L1058.1,68.10 L1059.1,68.10 L1060.1,68.10 L1061.1,68.10 L1062.1,68.10 L1063.1,68.10 L1064.1,68.10 L1065.1,68.10 L1066.1,68.10 L1067.1,68.10 L1068.1,68.10 L1069.1,68.10 L1070.1,68.10 L1071.1,68.10 L1072.1,68.10 L1073.1,68.10 L1074.1,68.10 L1075.1,68.10 L1076.1,68.10 L1077.1,68.10 L1078.1,68.10 L1079.1,68.10 L1080.1,68.10 L1081.1,68.11 L1082.1,68.13 L1083.1,68.16 L1084.1,68.20 L1085.1,68.26 L1086.1,68.32 L1087.1,68.38 L1088.1,68.45 L1089.1,68.53 L1090.1,68.61 L1091.1,68.71 L1092.1,68.84 L1093.1,69.00 L1094.1,69.19 L1095.1,69.40 L1096.1,69.63 L1097.1,69.87 L1098.1,70.12 L1099.1,70.38 L1100.1,70.64 L1101.1,70.90 L1102.1,71.15 L1103.1,71.40 L1104.1,71.66 L1105.1,71.92 L1106.1,72.19 L1107.1,72.46 L1108.1,72.74 L1109.1,73.03 L1110.1,73.32 L1111.1,73.62 L1112.1,73.92 L1113.1,74.22 L1114.1,74.54 L1115.1,74.85 L1116.1,75.17 L1117.1,75.49 L1118.1,75.82 L1119.1,76.15 L1120.1,76.49 L1121.1,76.82 L1122.1,77.16 L1123.1,77.50 L1124.1,77.85 L1125.1,78.20 L1126.1,78.54 L1127.1,78.90 L1128.1,79.25 L1129.1,79.60 L1130.1,79.96 L1131.1,80.31 L1132.1,80.67 L1133.1,81.03 L1134.1,81.38 L1135.1,81.74 L1136.1,82.10 L1137.1,82.46 L1138.1,82.82 L1139.1,83.19 L1140.1,83.56 L1141.1,83.93 L1142.1,84.31 L1143.1,84.69 L1144.1,85.07 L1145.1,85.46 L1146.1,85.85 L1147.1,86.24 L1148.1,86.63 L1149.1,87.03 L1150.1,87.43 L1151.1,87.83 L1152.1,88.23 L1153.1,88.64 L1154.1,89.05 L1155.1,89.46 L1156.1,89.87 L1157.1,90.28 L1158.1,90.69 L1159.1,91.11 L1160.1,91.53 L1161.1,91.94 L1162.1,92.36 L1163.1,92.78 L1164.1,93.20 L1165.1,93.63 L1166.1,94.05 L1167.1,94.47 L1168.1,94.89 L1169.1,95.32 L1170.1,95.74 L1171.1,96.17 L1172.1,96.60 L1173.1,97.03 L1174.1,97.46 L1175.1,97.89 L1176.1,98.33 L1177.1,98.77 L1178.1,99.21 L1179.1,99.66 L1180.1,100.10 L1181.1,100.55 L1182.1,101.00 L1183.1,101.44 L1184.1,101.90 L1185.1,102.35 L1186.1,102.80 L1187.1,103.25 L1188.1,103.71 L1189.1,104.17 L1190.1,104.62 L1191.1,105.08 L1192.1,105.54 L1193.1,106.00 L1194.1,106.45 L1195.1,106.91 L1196.1,107.37 L1197.1,107.83 L1198.1,108.29 L1199.1,108.75 L1200.1,109.21 L1201.1,109.67 L1202.1,110.12 L1203.1,110.58 L1204.1,111.04 L1205.1,111.49 L1206.1,111.95 L1207.1,112.40 L1208.1,112.85 L1209.1,113.31 L1210.1,113.76 L1211.1,114.21 L1212.1,114.66 L1213.1,115.11 L1214.1,115.57 L1215.1,116.02 L1216.1,116.47 L1217.1,116.92 L1218.1,117.37 L1219.1,117.83 L1220.1,118.28 L1221.1,118.74 L1222.1,119.19 L1223.1,119.65 L1224.1,120.11 L1225.1,120.56 L1226.1,121.02 L1227.1,121.49 L1228.1,121.95 L1229.1,122.41 L1230.1,122.88 L1231.1,123.35 L1232.1,123.82 L1233.1,124.29 L1234.1,124.76 L1235.1,125.24 L1236.1,125.72 L1237.1,126.20 L1238.1,126.69 L1239.1,127.17 L1240.1,127.66 L1241.1,128.15 L1242.1,128.65 L1243.1,129.15 L1244.1,129.65 L1245.1,130.14 L1246.1,130.64 L1247.1,131.15 L1248.1,131.65 L1249.1,132.15 L1250.1,132.66 L1251.1,133.16 L1252.1,133.67 L1253.1,134.18 L1254.1,134.69 L1255.1,135.20 L1256.1,135.71 L1257.1,136.23 L1258.1,136.75 L1259.1,137.26 L1260.1,137.78 L1261.1,138.31 L1262.1,138.83 L1263.1,139.36 L1264.1,139.88 L1265.1,140.41 L1266.1,140.94 L1267.1,141.48 L1268.1,142.01 L1269.1,142.55 L1270.1,143.09 L1271.1,143.64 L1272.1,144.18 L1273.1,144.73 L1274.1,145.28 L1275.1,145.83 L1276.1,146.39 L1277.1,146.95 L1278.1,147.51 L1279.1,148.07 L1280.1,148.64 L1281.1,149.21 L1282.1,149.78 L1283.1,150.36 L1284.1,150.94 L1285.1,151.52 L1286.1,152.11 L1287.1,152.69 L1288.1,153.29 L1289.1,153.88 L1290.1,154.48 L1291.1,155.08 L1292.1,155.69 L1293.1,156.30 L1294.1,156.92 L1295.1,157.54 L1296.1,158.17 L1297.1,158.81 L1298.1,159.44 L1299.1,160.09 L1300.1,160.74 L1301.1,161.39 L1302.1,162.04 L1303.1,162.70 L1304.1,163.37 L1305.1,164.04 L1306.1,164.71 L1307.1,165.38 L1308.1,166.06 L1309.1,166.75 L1310.1,167.43 L1311.1,168.12 L1312.1,168.81 L1313.1,169.50 L1314.1,170.20 L1315.1,170.90 L1316.1,171.59 L1317.1,172.30 L1318.1,173.00 L1319.1,173.71 L1320.1,174.41 L1321.1,175.12 L1322.1,175.83 L1323.1,176.54 L1324.1,177.25 L1325.1,177.96 L1326.1,178.67 L1327.1,179.39 L1328.1,180.10 L1329.1,180.81 L1330.1,181.53 L1331.1,182.24 L1332.1,182.95 L1333.1,183.66 L1334.1,184.37 L1335.1,185.08 L1336.1,185.79 L1337.1,186.50 L1338.1,187.21 L1339.1,187.91 L1340.1,188.62 L1341.1,189.32 L1342.1,190.02 L1343.1,190.72 L1344.1,191.43 L1345.1,192.13 L1346.1,192.84 L1347.1,193.55 L1348.1,194.26 L1349.1,194.97 L1350.1,195.68 L1351.1,196.40 L1352.1,197.11 L1353.1,197.83 L1354.1,198.54 L1355.1,199.26 L1356.1,199.98 L1357.1,200.70 L1358.1,201.42 L1359.1,202.14 L1360.1,202.86 L1361.1,203.58 L1362.1,204.30 L1363.1,205.03 L1364.1,205.75 L1365.1,206.47 L1366.1,207.19 L1367.1,207.92 L1368.1,208.64 L1369.1,209.36 L1370.1,210.08 L1371.1,210.80 L1372.1,211.52 L1373.1,212.24 L1374.1,212.96 L1375.1,213.68 L1376.1,214.40 L1377.1,215.12 L1378.1,215.84 L1379.1,216.55 L1380.1,217.27 L1381.1,217.98 L1382.1,218.69 L1383.1,219.41 L1384.1,220.12 L1385.1,220.83 L1386.1,221.53 L1387.1,222.24 L1388.1,222.94 L1389.1,223.65 L1390.1,224.35 L1391.1,225.05 L1392.1,225.75 L1393.1,226.45 L1394.1,227.14 L1395.1,227.84 L1396.1,228.54 L1397.1,229.23 L1398.1,229.93 L1399.1,230.62 L1400.1,231.32 L1401.1,232.01 L1402.1,232.71 L1403.1,233.40 L1404.1,234.10 L1405.1,234.79 L1406.1,235.49 L1407.1,236.18 L1408.1,236.88 L1409.1,237.58 L1410.1,238.27 L1411.1,238.97 L1412.1,239.67 L1413.1,240.37 L1414.1,241.07 L1415.1,241.77 L1416.1,242.48 L1417.1,243.18 L1418.1,243.89 L1419.1,244.60 L1420.1,245.31 L1421.1,246.02 L1422.1,246.73 L1423.1,247.44 L1424.1,248.16 L1425.1,248.88 L1426.1,249.60 L1427.1,250.32 L1428.1,251.05 L1429.1,251.78 L1430.1,252.50 L1431.1,253.24 L1432.1,253.97 L1433.1,254.70 L1434.1,255.44 L1435.1,256.18 L1436.1,256.92 L1437.1,257.66 L1438.1,258.40 L1439.1,259.14 L1440.1,259.89 L1441.1,260.63 L1442.1,261.38 L1443.1,262.13 L1444.1,262.88 L1445.1,263.62 L1446.1,264.37 L1447.1,265.13 L1448.1,265.88 L1449.1,266.63 L1450.1,267.38 L1451.1,268.13 L1452.1,268.88 L1453.1,269.64 L1454.1,270.39 L1455.1,271.14 L1456.1,271.90 L1457.1,272.65 L1458.1,273.40 L1459.1,274.15 L1460.1,274.90 L1461.1,275.65 L1462.1,276.40 L1463.1,277.15 L1464.1,277.90 L1465.1,278.65 L1466.1,279.40 L1467.1,280.15 L1468.1,280.89 L1469.1,281.64 L1470.1,282.38 L1471.1,283.12 L1472.1,283.86 L1473.1,284.60 L1474.1,285.34 L1475.1,286.07 L1476.1,286.81 L1477.1,287.55 L1478.1,288.29 L1479.1,289.04 L1480.1,289.79 L1481.1,290.54 L1482.1,291.29 L1483.1,292.05 L1484.1,292.80 L1485.1,293.56 L1486.1,294.32 L1487.1,295.08 L1488.1,295.84 L1489.1,296.61 L1490.1,297.37 L1491.1,298.13 L1492.1,298.90 L1493.1,299.66 L1494.1,300.43 L1495.1,301.20 L1496.1,301.96 L1497.1,302.72 L1498.1,303.49 L1499.1,304.25 L1500.1,305.01 L1501.1,305.78 L1502.1,306.54 L1503.1,307.30 L1504.1,308.05 L1505.1,308.81 L1506.1,309.56 L1507.1,310.31 L1508.1,311.06 L1509.1,311.81 L1510.1,312.55 L1511.1,313.30 L1512.1,314.03 L1513.1,314.77 L1514.1,315.50 L1515.1,316.23 L1516.1,316.96 L1517.1,317.68 L1518.1,318.40 L1519.1,319.11 L1520.1,319.82 L1521.1,320.52 L1522.1,321.22 L1523.1,321.92 L1524.1,322.61 L1525.1,323.30 L1526.1,323.98 L1527.1,324.65 L1528.1,325.32 L1529.1,325.98 L1530.1,326.64 L1531.1,327.29 L1532.1,327.94 L1533.1,328.58 L1534.1,329.21 L1535.1,329.83 L1536.1,330.45 L1537.1,331.06 L1538.1,331.67 L1539.1,332.27 L1540.1,332.87 L1541.1,333.47 L1542.1,334.06 L1543.1,334.65 L1544.1,335.24 L1545.1,335.82 L1546.1,336.40 L1547.1,336.98 L1548.1,337.55 L1549.1,338.13 L1550.1,338.69 L1551.1,339.26 L1552.1,339.82 L1553.1,340.39 L1554.1,340.94 L1555.1,341.50 L1556.1,342.05 L1557.1,342.60 L1558.1,343.15 L1559.1,343.69 L1560.1,344.24 L1561.1,344.77 L1562.1,345.31 L1563.1,345.85 L1564.1,346.38 L1565.1,346.91 L1566.1,347.44 L1567.1,347.96 L1568.1,348.49 L1569.1,349.01 L1570.1,349.53 L1571.1,350.04 L1572.1,350.56 L1573.1,351.07 L1574.1,351.58 L1575.1,352.09 L1576.1,352.59 L1577.1,353.10 L1578.1,353.60 L1579.1,354.10 L1580.1,354.60 L1581.1,355.10 L1582.1,355.59 L1583.1,356.09 L1584.1,356.58 L1585.1,357.07 L1586.1,357.56 L1587.1,358.04 L1588.1,358.53 L1589.1,359.01 L1590.1,359.50 L1591.1,359.98 L1592.1,360.46 L1593.1,360.93 L1594.1,361.41 L1595.1,361.89 L1596.1,362.36 L1597.1,362.83 L1598.1,363.30 L1599.1,363.78 L1600.1,364.24 L1601.1,364.71 L1602.1,365.18 L1603.1,365.65 L1604.1,366.11 L1605.1,366.57 L1606.1,367.04 L1607.1,367.50 L1608.1,367.96 L1609.1,368.42 L1610.1,368.88 L1611.1,369.34 L1612.1,369.80 L1613.1,370.25 L1614.1,370.71 L1615.1,371.16 L1616.1,371.62 L1617.1,372.07 L1618.1,372.52 L1619.1,372.97 L1620.1,373.42 L1621.1,373.86 L1622.1,374.31 L1623.1,374.75 L1624.1,375.19 L1625.1,375.63 L1626.1,376.07 L1627.1,376.51 L1628.1,376.94 L1629.1,377.38 L1630.1,377.81 L1631.1,378.24 L1632.1,378.67 L1633.1,379.09 L1634.1,379.52 L1635.1,379.94 L1636.1,380.36 L1637.1,380.78 L1638.1,381.20 L1639.1,381.61 L1640.1,382.02 L1641.1,382.43 L1642.1,382.84 L1643.1,383.25 L1644.1,383.65 L1645.1,384.05 L1646.1,384.45 L1647.1,384.84 L1648.1,385.24 L1649.1,385.63 L1650.1,386.02 L1651.1,386.40 L1652.1,386.79 L1653.1,387.17 L1654.1,387.54 L1655.1,387.92 L1656.1,388.29 L1657.1,388.66 L1658.1,389.03 L1659.1,389.39 L1660.1,389.75 L1661.1,390.11 L1662.1,390.46 L1663.1,390.80 L1664.1,391.15 L1665.1,391.48 L1666.1,391.81 L1667.1,392.14 L1668.1,392.46 L1669.1,392.78 L1670.1,393.10 L1671.1,393.41 L1672.1,393.73 L1673.1,394.04 L1674.1,394.35 L1675.1,394.66 L1676.1,394.97 L1677.1,395.28 L1678.1,395.59 L1679.1,395.91 L1680.1,396.22 L1681.1,396.53 L1682.1,396.85 L1683.1,397.16 L1684.1,397.47 L1685.1,397.79 L1686.1,398.10 L1687.1,398.41 L1688.1,398.73 L1689.1,399.04 L1690.1,399.35 L1691.1,399.66 L1692.1,399.98 L1693.1,400.29 L1694.1,400.60 L1695.1,400.91 L1696.1,401.22 L1697.1,401.53 L1698.1,401.84 L1699.1,402.15 L1700.1,402.46 L1701.1,402.77 L1702.1,403.08 L1703.1,403.39 L1704.1,403.70 L1705.1,404.01 L1706.1,404.32 L1707.1,404.63 L1708.1,404.94 L1709.1,405.24 L1710.1,405.55 L1711.1,405.86 L1712.1,406.17 L1713.1,406.47 L1714.1,406.78 L1715.1,407.08 L1716.1,407.39 L1717.1,407.70 L1718.1,408.00 L1719.1,408.31 L1720.1,408.61 L1721.1,408.92 L1722.1,409.22 L1723.1,409.52 L1724.1,409.83 L1725.1,410.13 L1726.1,410.43 L1727.1,410.73 L1728.1,411.04 L1729.1,411.34 L1730.1,411.64 L1731.1,411.94 L1732.1,412.24 L1733.1,412.54 L1734.1,412.84 L1735.1,413.14 L1736.1,413.44 L1737.1,413.74 L1738.1,414.04 L1739.1,414.34 L1740.1,414.63 L1741.1,414.93 L1742.1,415.23 L1743.1,415.52 L1744.1,415.82 L1745.1,416.12 L1746.1,416.41 L1747.1,416.71 L1748.1,417.00 L1749.1,417.30 L1750.1,417.59 L1751.1,417.88 L1752.1,418.18 L1753.1,418.47 L1754.1,418.76 L1755.1,419.05 L1756.1,419.34 L1757.1,419.63 L1758.1,419.92 L1759.1,420.21 L1760.1,420.50 L1761.1,420.79 L1762.1,421.08 L1763.1,421.37 L1764.1,421.66 L1765.1,421.94 L1766.1,422.23 L1767.1,422.51 L1768.1,422.80" fill="none" stroke="#005a00" stroke-width="2.6" stroke-dasharray="9.770 9.171" stroke-dashoffset="0" clip-path="url(#cb)"/>
<path d="M988.1,430.30 L989.1,430.43 L990.1,430.56 L991.1,430.69 L992.1,430.82 L993.1,430.95 L994.1,431.08 L995.1,431.20 L996.1,431.33 L997.1,431.46 L998.1,431.59 L999.1,431.72 L1000.1,431.84 L1001.1,431.97 L1002.1,432.10 L1003.1,432.22 L1004.1,432.35 L1005.1,432.47 L1006.1,432.60 L1007.1,432.72 L1008.1,432.85 L1009.1,432.97 L1010.1,433.10 L1011.1,433.22 L1012.1,433.35 L1013.1,433.47 L1014.1,433.59 L1015.1,433.72 L1016.1,433.84 L1017.1,433.96 L1018.1,434.08 L1019.1,434.20 L1020.1,434.33 L1021.1,434.45 L1022.1,434.57 L1023.1,434.69 L1024.1,434.81 L1025.1,434.93 L1026.1,435.05 L1027.1,435.17 L1028.1,435.29 L1029.1,435.41 L1030.1,435.52 L1031.1,435.64 L1032.1,435.76 L1033.1,435.88 L1034.1,436.00 L1035.1,436.11 L1036.1,436.23 L1037.1,436.35 L1038.1,436.46 L1039.1,436.58 L1040.1,436.69 L1041.1,436.81 L1042.1,436.92 L1043.1,437.04 L1044.1,437.15 L1045.1,437.27 L1046.1,437.38 L1047.1,437.49 L1048.1,437.61 L1049.1,437.72 L1050.1,437.83 L1051.1,437.94 L1052.1,438.06 L1053.1,438.17 L1054.1,438.28 L1055.1,438.39 L1056.1,438.50 L1057.1,438.61 L1058.1,438.72 L1059.1,438.83 L1060.1,438.94 L1061.1,439.05 L1062.1,439.16 L1063.1,439.27 L1064.1,439.37 L1065.1,439.48 L1066.1,439.59 L1067.1,439.70 L1068.1,439.80 L1069.1,439.91 L1070.1,440.02 L1071.1,440.12 L1072.1,440.23 L1073.1,440.33 L1074.1,440.44 L1075.1,440.54 L1076.1,440.65 L1077.1,440.75 L1078.1,440.85 L1079.1,440.96 L1080.1,441.06 L1081.1,441.16 L1082.1,441.26 L1083.1,441.37 L1084.1,441.47 L1085.1,441.57 L1086.1,441.67 L1087.1,441.77 L1088.1,441.87 L1089.1,441.97 L1090.1,442.07 L1091.1,442.17 L1092.1,442.27 L1093.1,442.37 L1094.1,442.47 L1095.1,442.57 L1096.1,442.66 L1097.1,442.76 L1098.1,442.86 L1099.1,442.96 L1100.1,443.05 L1101.1,443.15 L1102.1,443.25 L1103.1,443.34 L1104.1,443.44 L1105.1,443.53 L1106.1,443.63 L1107.1,443.73 L1108.1,443.82 L1109.1,443.91 L1110.1,444.01 L1111.1,444.10 L1112.1,444.20 L1113.1,444.29 L1114.1,444.38 L1115.1,444.48 L1116.1,444.57 L1117.1,444.66 L1118.1,444.75 L1119.1,444.85 L1120.1,444.94 L1121.1,445.03 L1122.1,445.12 L1123.1,445.21 L1124.1,445.30 L1125.1,445.39 L1126.1,445.48 L1127.1,445.57 L1128.1,445.66 L1129.1,445.75 L1130.1,445.84 L1131.1,445.93 L1132.1,446.02 L1133.1,446.11 L1134.1,446.19 L1135.1,446.28 L1136.1,446.37 L1137.1,446.46 L1138.1,446.54 L1139.1,446.63 L1140.1,446.72 L1141.1,446.80 L1142.1,446.89 L1143.1,446.98 L1144.1,447.06 L1145.1,447.15 L1146.1,447.23 L1147.1,447.32 L1148.1,447.40 L1149.1,447.49 L1150.1,447.57 L1151.1,447.65 L1152.1,447.74 L1153.1,447.82 L1154.1,447.91 L1155.1,447.99 L1156.1,448.07 L1157.1,448.15 L1158.1,448.24 L1159.1,448.32 L1160.1,448.40 L1161.1,448.48 L1162.1,448.56 L1163.1,448.64 L1164.1,448.73 L1165.1,448.81 L1166.1,448.89 L1167.1,448.97 L1168.1,449.05 L1169.1,449.13 L1170.1,449.21 L1171.1,449.29 L1172.1,449.37 L1173.1,449.45 L1174.1,449.53 L1175.1,449.61 L1176.1,449.69 L1177.1,449.77 L1178.1,449.85 L1179.1,449.93 L1180.1,450.00 L1181.1,450.08 L1182.1,450.16 L1183.1,450.24 L1184.1,450.32 L1185.1,450.40 L1186.1,450.48 L1187.1,450.56 L1188.1,450.64 L1189.1,450.72 L1190.1,450.80 L1191.1,450.87 L1192.1,450.95 L1193.1,451.03 L1194.1,451.11 L1195.1,451.19 L1196.1,451.26 L1197.1,451.34 L1198.1,451.42 L1199.1,451.50 L1200.1,451.57 L1201.1,451.65 L1202.1,451.72 L1203.1,451.80 L1204.1,451.88 L1205.1,451.95 L1206.1,452.03 L1207.1,452.10 L1208.1,452.18 L1209.1,452.25 L1210.1,452.32 L1211.1,452.40 L1212.1,452.47 L1213.1,452.54 L1214.1,452.62 L1215.1,452.69 L1216.1,452.76 L1217.1,452.83 L1218.1,452.90 L1219.1,452.97 L1220.1,453.04 L1221.1,453.11 L1222.1,453.18 L1223.1,453.25 L1224.1,453.32 L1225.1,453.39 L1226.1,453.45 L1227.1,453.52 L1228.1,453.59 L1229.1,453.65 L1230.1,453.72 L1231.1,453.79 L1232.1,453.85 L1233.1,453.91 L1234.1,453.98 L1235.1,454.04 L1236.1,454.10 L1237.1,454.16 L1238.1,454.23 L1239.1,454.29 L1240.1,454.35 L1241.1,454.41 L1242.1,454.47 L1243.1,454.52 L1244.1,454.58 L1245.1,454.64 L1246.1,454.69 L1247.1,454.75 L1248.1,454.81 L1249.1,454.86 L1250.1,454.92 L1251.1,454.97 L1252.1,455.03 L1253.1,455.08 L1254.1,455.13 L1255.1,455.19 L1256.1,455.24 L1257.1,455.30 L1258.1,455.35 L1259.1,455.41 L1260.1,455.46 L1261.1,455.52 L1262.1,455.57 L1263.1,455.63 L1264.1,455.68 L1265.1,455.73 L1266.1,455.79 L1267.1,455.84 L1268.1,455.89 L1269.1,455.95 L1270.1,456.00 L1271.1,456.05 L1272.1,456.11 L1273.1,456.16 L1274.1,456.21 L1275.1,456.26 L1276.1,456.31 L1277.1,456.36 L1278.1,456.41 L1279.1,456.47 L1280.1,456.52 L1281.1,456.56 L1282.1,456.61 L1283.1,456.66 L1284.1,456.71 L1285.1,456.76 L1286.1,456.81 L1287.1,456.86 L1288.1,456.90 L1289.1,456.95 L1290.1,456.99 L1291.1,457.04 L1292.1,457.08 L1293.1,457.13 L1294.1,457.17 L1295.1,457.22 L1296.1,457.26 L1297.1,457.30 L1298.1,457.34 L1299.1,457.38 L1300.1,457.43 L1301.1,457.47 L1302.1,457.50 L1303.1,457.54 L1304.1,457.58 L1305.1,457.62 L1306.1,457.66 L1307.1,457.69 L1308.1,457.73 L1309.1,457.76 L1310.1,457.80 L1311.1,457.83 L1312.1,457.86 L1313.1,457.89 L1314.1,457.92 L1315.1,457.95 L1316.1,457.98 L1317.1,458.01 L1318.1,458.04 L1319.1,458.07 L1320.1,458.09 L1321.1,458.12 L1322.1,458.14 L1323.1,458.17 L1324.1,458.19 L1325.1,458.21 L1326.1,458.23 L1327.1,458.25 L1328.1,458.27 L1329.1,458.30 L1330.1,458.32 L1331.1,458.34 L1332.1,458.36 L1333.1,458.38 L1334.1,458.40 L1335.1,458.42 L1336.1,458.44 L1337.1,458.46 L1338.1,458.48 L1339.1,458.50 L1340.1,458.51 L1341.1,458.53 L1342.1,458.55 L1343.1,458.57 L1344.1,458.59 L1345.1,458.61 L1346.1,458.62 L1347.1,458.64 L1348.1,458.66 L1349.1,458.68 L1350.1,458.69 L1351.1,458.71 L1352.1,458.73 L1353.1,458.75 L1354.1,458.76 L1355.1,458.78 L1356.1,458.79 L1357.1,458.81 L1358.1,458.83 L1359.1,458.84 L1360.1,458.86 L1361.1,458.87 L1362.1,458.89 L1363.1,458.90 L1364.1,458.92 L1365.1,458.93 L1366.1,458.95 L1367.1,458.96 L1368.1,458.97 L1369.1,458.99 L1370.1,459.00 L1371.1,459.02 L1372.1,459.03 L1373.1,459.04 L1374.1,459.06 L1375.1,459.07 L1376.1,459.08 L1377.1,459.09 L1378.1,459.11 L1379.1,459.12 L1380.1,459.13 L1381.1,459.14 L1382.1,459.15 L1383.1,459.16 L1384.1,459.18 L1385.1,459.19 L1386.1,459.20 L1387.1,459.21 L1388.1,459.22 L1389.1,459.23 L1390.1,459.24 L1391.1,459.25 L1392.1,459.26 L1393.1,459.27 L1394.1,459.28 L1395.1,459.29 L1396.1,459.30 L1397.1,459.31 L1398.1,459.31 L1399.1,459.32 L1400.1,459.33 L1401.1,459.34 L1402.1,459.35 L1403.1,459.36 L1404.1,459.36 L1405.1,459.37 L1406.1,459.38 L1407.1,459.39 L1408.1,459.39 L1409.1,459.40 L1410.1,459.41 L1411.1,459.41 L1412.1,459.42 L1413.1,459.43 L1414.1,459.43 L1415.1,459.44 L1416.1,459.45 L1417.1,459.45 L1418.1,459.46 L1419.1,459.47 L1420.1,459.47 L1421.1,459.48 L1422.1,459.48 L1423.1,459.49 L1424.1,459.50 L1425.1,459.50 L1426.1,459.51 L1427.1,459.52 L1428.1,459.52 L1429.1,459.53 L1430.1,459.53 L1431.1,459.54 L1432.1,459.55 L1433.1,459.55 L1434.1,459.56 L1435.1,459.56 L1436.1,459.57 L1437.1,459.58 L1438.1,459.58 L1439.1,459.59 L1440.1,459.59 L1441.1,459.60 L1442.1,459.60 L1443.1,459.61 L1444.1,459.61 L1445.1,459.62 L1446.1,459.63 L1447.1,459.63 L1448.1,459.64 L1449.1,459.64 L1450.1,459.65 L1451.1,459.65 L1452.1,459.66 L1453.1,459.66 L1454.1,459.67 L1455.1,459.67 L1456.1,459.67 L1457.1,459.68 L1458.1,459.68 L1459.1,459.69 L1460.1,459.69 L1461.1,459.70 L1462.1,459.70 L1463.1,459.71 L1464.1,459.71 L1465.1,459.71 L1466.1,459.72 L1467.1,459.72 L1468.1,459.73 L1469.1,459.73 L1470.1,459.73 L1471.1,459.74 L1472.1,459.74 L1473.1,459.74 L1474.1,459.75 L1475.1,459.75 L1476.1,459.75 L1477.1,459.76 L1478.1,459.76 L1479.1,459.76 L1480.1,459.76 L1481.1,459.77 L1482.1,459.77 L1483.1,459.77 L1484.1,459.77 L1485.1,459.78 L1486.1,459.78 L1487.1,459.78 L1488.1,459.78 L1489.1,459.79 L1490.1,459.79 L1491.1,459.79 L1492.1,459.79 L1493.1,459.79 L1494.1,459.79 L1495.1,459.79 L1496.1,459.80 L1497.1,459.80 L1498.1,459.80 L1499.1,459.80 L1500.1,459.80 L1501.1,459.80 L1502.1,459.80 L1503.1,459.80 L1504.1,459.80 L1505.1,459.80 L1506.1,459.80 L1507.1,459.81 L1508.1,459.81 L1509.1,459.81 L1510.1,459.81 L1511.1,459.81 L1512.1,459.81 L1513.1,459.81 L1514.1,459.81 L1515.1,459.81 L1516.1,459.81 L1517.1,459.81 L1518.1,459.81 L1519.1,459.81 L1520.1,459.82 L1521.1,459.82 L1522.1,459.82 L1523.1,459.82 L1524.1,459.82 L1525.1,459.82 L1526.1,459.82 L1527.1,459.82 L1528.1,459.82 L1529.1,459.82 L1530.1,459.82 L1531.1,459.82 L1532.1,459.82 L1533.1,459.82 L1534.1,459.83 L1535.1,459.83 L1536.1,459.83 L1537.1,459.83 L1538.1,459.83 L1539.1,459.83 L1540.1,459.83 L1541.1,459.83 L1542.1,459.83 L1543.1,459.83 L1544.1,459.83 L1545.1,459.83 L1546.1,459.83 L1547.1,459.83 L1548.1,459.83 L1549.1,459.84 L1550.1,459.84 L1551.1,459.84 L1552.1,459.84 L1553.1,459.84 L1554.1,459.84 L1555.1,459.84 L1556.1,459.84 L1557.1,459.84 L1558.1,459.84 L1559.1,459.84 L1560.1,459.84 L1561.1,459.84 L1562.1,459.84 L1563.1,459.84 L1564.1,459.84 L1565.1,459.84 L1566.1,459.85 L1567.1,459.85 L1568.1,459.85 L1569.1,459.85 L1570.1,459.85 L1571.1,459.85 L1572.1,459.85 L1573.1,459.85 L1574.1,459.85 L1575.1,459.85 L1576.1,459.85 L1577.1,459.85 L1578.1,459.85 L1579.1,459.85 L1580.1,459.85 L1581.1,459.85 L1582.1,459.85 L1583.1,459.85 L1584.1,459.86 L1585.1,459.86 L1586.1,459.86 L1587.1,459.86 L1588.1,459.86 L1589.1,459.86 L1590.1,459.86 L1591.1,459.86 L1592.1,459.86 L1593.1,459.86 L1594.1,459.86 L1595.1,459.86 L1596.1,459.86 L1597.1,459.86 L1598.1,459.86 L1599.1,459.86 L1600.1,459.86 L1601.1,459.86 L1602.1,459.86 L1603.1,459.86 L1604.1,459.86 L1605.1,459.87 L1606.1,459.87 L1607.1,459.87 L1608.1,459.87 L1609.1,459.87 L1610.1,459.87 L1611.1,459.87 L1612.1,459.87 L1613.1,459.87 L1614.1,459.87 L1615.1,459.87 L1616.1,459.87 L1617.1,459.87 L1618.1,459.87 L1619.1,459.87 L1620.1,459.87 L1621.1,459.87 L1622.1,459.87 L1623.1,459.87 L1624.1,459.87 L1625.1,459.87 L1626.1,459.87 L1627.1,459.87 L1628.1,459.87 L1629.1,459.87 L1630.1,459.88 L1631.1,459.88 L1632.1,459.88 L1633.1,459.88 L1634.1,459.88 L1635.1,459.88 L1636.1,459.88 L1637.1,459.88 L1638.1,459.88 L1639.1,459.88 L1640.1,459.88 L1641.1,459.88 L1642.1,459.88 L1643.1,459.88 L1644.1,459.88 L1645.1,459.88 L1646.1,459.88 L1647.1,459.88 L1648.1,459.88 L1649.1,459.88 L1650.1,459.88 L1651.1,459.88 L1652.1,459.88 L1653.1,459.88 L1654.1,459.88 L1655.1,459.88 L1656.1,459.88 L1657.1,459.88 L1658.1,459.88 L1659.1,459.88 L1660.1,459.89 L1661.1,459.89 L1662.1,459.89 L1663.1,459.89 L1664.1,459.89 L1665.1,459.89 L1666.1,459.89 L1667.1,459.89 L1668.1,459.89 L1669.1,459.89 L1670.1,459.89 L1671.1,459.89 L1672.1,459.89 L1673.1,459.89 L1674.1,459.89 L1675.1,459.89 L1676.1,459.89 L1677.1,459.89 L1678.1,459.89 L1679.1,459.89 L1680.1,459.89 L1681.1,459.89 L1682.1,459.89 L1683.1,459.89 L1684.1,459.89 L1685.1,459.89 L1686.1,459.89 L1687.1,459.89 L1688.1,459.89 L1689.1,459.89 L1690.1,459.89 L1691.1,459.89 L1692.1,459.89 L1693.1,459.89 L1694.1,459.89 L1695.1,459.89 L1696.1,459.89 L1697.1,459.89 L1698.1,459.89 L1699.1,459.89 L1700.1,459.89 L1701.1,459.89 L1702.1,459.89 L1703.1,459.89 L1704.1,459.89 L1705.1,459.90 L1706.1,459.90 L1707.1,459.90 L1708.1,459.90 L1709.1,459.90 L1710.1,459.90 L1711.1,459.90 L1712.1,459.90 L1713.1,459.90 L1714.1,459.90 L1715.1,459.90 L1716.1,459.90 L1717.1,459.90 L1718.1,459.90 L1719.1,459.90 L1720.1,459.90 L1721.1,459.90 L1722.1,459.90 L1723.1,459.90 L1724.1,459.90 L1725.1,459.90 L1726.1,459.90 L1727.1,459.90 L1728.1,459.90 L1729.1,459.90 L1730.1,459.90 L1731.1,459.90 L1732.1,459.90 L1733.1,459.90 L1734.1,459.90 L1735.1,459.90 L1736.1,459.90 L1737.1,459.90 L1738.1,459.90 L1739.1,459.90 L1740.1,459.90 L1741.1,459.90 L1742.1,459.90 L1743.1,459.90 L1744.1,459.90 L1745.1,459.90 L1746.1,459.90 L1747.1,459.90 L1748.1,459.90 L1749.1,459.90 L1750.1,459.90 L1751.1,459.90 L1752.1,459.90 L1753.1,459.90 L1754.1,459.90 L1755.1,459.90 L1756.1,459.90 L1757.1,459.90 L1758.1,459.90 L1759.1,459.90 L1760.1,459.90 L1761.1,459.90 L1762.1,459.90 L1763.1,459.90 L1764.1,459.90 L1765.1,459.90 L1766.1,459.90 L1767.1,459.90" fill="none" stroke="#005a00" stroke-width="2.6" stroke-dasharray="9.8 9.2" stroke-dashoffset="0" clip-path="url(#cb)"/>
<path d="M159.6,500.80 L160.6,500.79 L161.6,500.77 L162.6,500.76 L163.6,500.74 L164.6,500.73 L165.6,500.72 L166.6,500.70 L167.6,500.69 L168.6,500.67 L169.6,500.66 L170.6,500.65 L171.6,500.63 L172.6,500.62 L173.6,500.60 L174.6,500.59 L175.6,500.58 L176.6,500.56 L177.6,500.55 L178.6,500.54 L179.6,500.52 L180.6,500.51 L181.6,500.49 L182.6,500.48 L183.6,500.47 L184.6,500.45 L185.6,500.44 L186.6,500.43 L187.6,500.41 L188.6,500.40 L189.6,500.38 L190.6,500.37 L191.6,500.36 L192.6,500.34 L193.6,500.33 L194.6,500.32 L195.6,500.30 L196.6,500.29 L197.6,500.28 L198.6,500.26 L199.6,500.25 L200.6,500.23 L201.6,500.22 L202.6,500.21 L203.6,500.19 L204.6,500.18 L205.6,500.17 L206.6,500.15 L207.6,500.14 L208.6,500.13 L209.6,500.11 L210.6,500.10 L211.6,500.09 L212.6,500.07 L213.6,500.06 L214.6,500.05 L215.6,500.03 L216.6,500.02 L217.6,500.01 L218.6,500.00 L219.6,499.98 L220.6,499.97 L221.6,499.96 L222.6,499.94 L223.6,499.93 L224.6,499.92 L225.6,499.90 L226.6,499.89 L227.6,499.88 L228.6,499.86 L229.6,499.85 L230.6,499.84 L231.6,499.83 L232.6,499.81 L233.6,499.80 L234.6,499.79 L235.6,499.77 L236.6,499.76 L237.6,499.75 L238.6,499.74 L239.6,499.72 L240.6,499.71 L241.6,499.70 L242.6,499.69 L243.6,499.67 L244.6,499.66 L245.6,499.65 L246.6,499.63 L247.6,499.62 L248.6,499.61 L249.6,499.60 L250.6,499.58 L251.6,499.57 L252.6,499.56 L253.6,499.55 L254.6,499.53 L255.6,499.52 L256.6,499.51 L257.6,499.50 L258.6,499.49 L259.6,499.47 L260.6,499.46 L261.6,499.45 L262.6,499.44 L263.6,499.42 L264.6,499.41 L265.6,499.40 L266.6,499.39 L267.6,499.38 L268.6,499.36 L269.6,499.35 L270.6,499.34 L271.6,499.33 L272.6,499.31 L273.6,499.30 L274.6,499.29 L275.6,499.28 L276.6,499.27 L277.6,499.26 L278.6,499.24 L279.6,499.23 L280.6,499.22 L281.6,499.21 L282.6,499.20 L283.6,499.18 L284.6,499.17 L285.6,499.16 L286.6,499.15 L287.6,499.14 L288.6,499.13 L289.6,499.11 L290.6,499.10 L291.6,499.09 L292.6,499.08 L293.6,499.07 L294.6,499.06 L295.6,499.05 L296.6,499.03 L297.6,499.02 L298.6,499.01 L299.6,499.00 L300.6,498.99 L301.6,498.98 L302.6,498.97 L303.6,498.95 L304.6,498.94 L305.6,498.93 L306.6,498.92 L307.6,498.91 L308.6,498.90 L309.6,498.89 L310.6,498.88 L311.6,498.87 L312.6,498.85 L313.6,498.84 L314.6,498.83 L315.6,498.82 L316.6,498.81 L317.6,498.80 L318.6,498.79 L319.6,498.78 L320.6,498.77 L321.6,498.76 L322.6,498.75 L323.6,498.74 L324.6,498.73 L325.6,498.71 L326.6,498.70 L327.6,498.69 L328.6,498.68 L329.6,498.67 L330.6,498.66 L331.6,498.65 L332.6,498.64 L333.6,498.63 L334.6,498.62 L335.6,498.61 L336.6,498.60 L337.6,498.59 L338.6,498.58 L339.6,498.57 L340.6,498.56 L341.6,498.55 L342.6,498.54 L343.6,498.53 L344.6,498.52 L345.6,498.51 L346.6,498.50 L347.6,498.49 L348.6,498.48 L349.6,498.47 L350.6,498.46 L351.6,498.45 L352.6,498.44 L353.6,498.43 L354.6,498.42 L355.6,498.41 L356.6,498.40 L357.6,498.39 L358.6,498.38 L359.6,498.37 L360.6,498.36 L361.6,498.35 L362.6,498.34 L363.6,498.33 L364.6,498.32 L365.6,498.31 L366.6,498.31 L367.6,498.30 L368.6,498.29 L369.6,498.28 L370.6,498.27 L371.6,498.26 L372.6,498.25 L373.6,498.24 L374.6,498.23 L375.6,498.22 L376.6,498.21 L377.6,498.20 L378.6,498.20 L379.6,498.19 L380.6,498.18 L381.6,498.17 L382.6,498.16 L383.6,498.15 L384.6,498.14 L385.6,498.13 L386.6,498.13 L387.6,498.12 L388.6,498.11 L389.6,498.10 L390.6,498.09 L391.6,498.08 L392.6,498.07 L393.6,498.07 L394.6,498.06 L395.6,498.05 L396.6,498.04 L397.6,498.03 L398.6,498.02 L399.6,498.02 L400.6,498.01 L401.6,498.00 L402.6,497.99 L403.6,497.98 L404.6,497.98 L405.6,497.97 L406.6,497.96 L407.6,497.95 L408.6,497.94 L409.6,497.94 L410.6,497.93 L411.6,497.92 L412.6,497.91 L413.6,497.90 L414.6,497.90 L415.6,497.89 L416.6,497.88 L417.6,497.87 L418.6,497.87 L419.6,497.86 L420.6,497.85 L421.6,497.84 L422.6,497.84 L423.6,497.83 L424.6,497.82 L425.6,497.82 L426.6,497.81 L427.6,497.80 L428.6,497.79 L429.6,497.79 L430.6,497.78 L431.6,497.77 L432.6,497.77 L433.6,497.76 L434.6,497.75 L435.6,497.75 L436.6,497.74 L437.6,497.73 L438.6,497.72 L439.6,497.72 L440.6,497.71 L441.6,497.70 L442.6,497.70 L443.6,497.69 L444.6,497.68 L445.6,497.68 L446.6,497.67 L447.6,497.66 L448.6,497.66 L449.6,497.65 L450.6,497.65 L451.6,497.64 L452.6,497.63 L453.6,497.63 L454.6,497.62 L455.6,497.61 L456.6,497.61 L457.6,497.60 L458.6,497.59 L459.6,497.59 L460.6,497.58 L461.6,497.58 L462.6,497.57 L463.6,497.56 L464.6,497.56 L465.6,497.55 L466.6,497.54 L467.6,497.54 L468.6,497.53 L469.6,497.53 L470.6,497.52 L471.6,497.51 L472.6,497.51 L473.6,497.50 L474.6,497.50 L475.6,497.49 L476.6,497.48 L477.6,497.48 L478.6,497.47 L479.6,497.47 L480.6,497.46 L481.6,497.46 L482.6,497.45 L483.6,497.44 L484.6,497.44 L485.6,497.43 L486.6,497.43 L487.6,497.42 L488.6,497.42 L489.6,497.41 L490.6,497.40 L491.6,497.40 L492.6,497.39 L493.6,497.39 L494.6,497.38 L495.6,497.38 L496.6,497.37 L497.6,497.37 L498.6,497.36 L499.6,497.36 L500.6,497.35 L501.6,497.34 L502.6,497.34 L503.6,497.33 L504.6,497.33 L505.6,497.32 L506.6,497.32 L507.6,497.31 L508.6,497.31 L509.6,497.30 L510.6,497.30 L511.6,497.29 L512.6,497.29 L513.6,497.28 L514.6,497.28 L515.6,497.27 L516.6,497.27 L517.6,497.26 L518.6,497.26 L519.6,497.25 L520.6,497.24 L521.6,497.24 L522.6,497.23 L523.6,497.23 L524.6,497.22 L525.6,497.22 L526.6,497.21 L527.6,497.21 L528.6,497.20 L529.6,497.20 L530.6,497.19 L531.6,497.19 L532.6,497.18 L533.6,497.18 L534.6,497.17 L535.6,497.17 L536.6,497.17 L537.6,497.16 L538.6,497.16 L539.6,497.15 L540.6,497.15 L541.6,497.14 L542.6,497.14 L543.6,497.13 L544.6,497.13 L545.6,497.12 L546.6,497.12 L547.6,497.11 L548.6,497.11 L549.6,497.10 L550.6,497.10 L551.6,497.09 L552.6,497.09 L553.6,497.08 L554.6,497.08 L555.6,497.07 L556.6,497.07 L557.6,497.06 L558.6,497.06 L559.6,497.06 L560.6,497.05 L561.6,497.05 L562.6,497.04 L563.6,497.04 L564.6,497.03 L565.6,497.03 L566.6,497.02 L567.6,497.02 L568.6,497.01 L569.6,497.01 L570.6,497.00 L571.6,497.00 L572.6,497.00 L573.6,496.99 L574.6,496.99 L575.6,496.98 L576.6,496.98 L577.6,496.97 L578.6,496.97 L579.6,496.96 L580.6,496.96 L581.6,496.95 L582.6,496.95 L583.6,496.94 L584.6,496.94 L585.6,496.94 L586.6,496.93 L587.6,496.93 L588.6,496.92 L589.6,496.92 L590.6,496.91 L591.6,496.91 L592.6,496.90 L593.6,496.90 L594.6,496.90 L595.6,496.89 L596.6,496.89 L597.6,496.88 L598.6,496.88 L599.6,496.87 L600.6,496.87 L601.6,496.86 L602.6,496.86 L603.6,496.85 L604.6,496.85 L605.6,496.85 L606.6,496.84 L607.6,496.84 L608.6,496.83 L609.6,496.83 L610.6,496.82 L611.6,496.82 L612.6,496.81 L613.6,496.81 L614.6,496.80 L615.6,496.80 L616.6,496.80 L617.6,496.79 L618.6,496.79 L619.6,496.78 L620.6,496.78 L621.6,496.77 L622.6,496.77 L623.6,496.76 L624.6,496.76 L625.6,496.75 L626.6,496.75 L627.6,496.75 L628.6,496.74 L629.6,496.74 L630.6,496.73 L631.6,496.73 L632.6,496.72 L633.6,496.72 L634.6,496.71 L635.6,496.71 L636.6,496.70 L637.6,496.70 L638.6,496.70 L639.6,496.69 L640.6,496.69 L641.6,496.68 L642.6,496.68 L643.6,496.67 L644.6,496.67 L645.6,496.66 L646.6,496.66 L647.6,496.65 L648.6,496.65 L649.6,496.64 L650.6,496.64 L651.6,496.63 L652.6,496.63 L653.6,496.62 L654.6,496.62 L655.6,496.62 L656.6,496.61 L657.6,496.61 L658.6,496.60 L659.6,496.60 L660.6,496.59 L661.6,496.59 L662.6,496.58 L663.6,496.58 L664.6,496.57 L665.6,496.57 L666.6,496.56 L667.6,496.56 L668.6,496.55 L669.6,496.55 L670.6,496.54 L671.6,496.54 L672.6,496.53 L673.6,496.53 L674.6,496.52 L675.6,496.52 L676.6,496.51 L677.6,496.51 L678.6,496.50 L679.6,496.50 L680.6,496.49 L681.6,496.49 L682.6,496.48 L683.6,496.48 L684.6,496.47 L685.6,496.47 L686.6,496.46 L687.6,496.46 L688.6,496.45 L689.6,496.45 L690.6,496.44 L691.6,496.44 L692.6,496.43 L693.6,496.43 L694.6,496.42 L695.6,496.42 L696.6,496.41 L697.6,496.41 L698.6,496.40 L699.6,496.40 L700.6,496.39 L701.6,496.38 L702.6,496.38 L703.6,496.37 L704.6,496.37 L705.6,496.36 L706.6,496.36 L707.6,496.35 L708.6,496.35 L709.6,496.34 L710.6,496.34 L711.6,496.33 L712.6,496.32 L713.6,496.32 L714.6,496.31 L715.6,496.31 L716.6,496.30 L717.6,496.30 L718.6,496.29 L719.6,496.29 L720.6,496.28 L721.6,496.27 L722.6,496.27 L723.6,496.26 L724.6,496.26 L725.6,496.25 L726.6,496.25 L727.6,496.24 L728.6,496.23 L729.6,496.23 L730.6,496.22 L731.6,496.22 L732.6,496.21 L733.6,496.21 L734.6,496.20 L735.6,496.19 L736.6,496.19 L737.6,496.18 L738.6,496.18 L739.6,496.17 L740.6,496.17 L741.6,496.16 L742.6,496.15 L743.6,496.15 L744.6,496.14 L745.6,496.14 L746.6,496.13 L747.6,496.13 L748.6,496.12 L749.6,496.11 L750.6,496.11 L751.6,496.10 L752.6,496.10 L753.6,496.09 L754.6,496.09 L755.6,496.08 L756.6,496.07 L757.6,496.07 L758.6,496.06 L759.6,496.06 L760.6,496.05 L761.6,496.04 L762.6,496.04 L763.6,496.03 L764.6,496.03 L765.6,496.02 L766.6,496.02 L767.6,496.01 L768.6,496.00 L769.6,496.00 L770.6,495.99 L771.6,495.99 L772.6,495.98 L773.6,495.97 L774.6,495.97 L775.6,495.96 L776.6,495.96 L777.6,495.95 L778.6,495.94 L779.6,495.94 L780.6,495.93 L781.6,495.93 L782.6,495.92 L783.6,495.91 L784.6,495.91 L785.6,495.90 L786.6,495.90 L787.6,495.89 L788.6,495.89 L789.6,495.88 L790.6,495.87 L791.6,495.87 L792.6,495.86 L793.6,495.86 L794.6,495.85 L795.6,495.84 L796.6,495.84 L797.6,495.83 L798.6,495.83 L799.6,495.82 L800.6,495.81 L801.6,495.81 L802.6,495.80 L803.6,495.80 L804.6,495.79 L805.6,495.78 L806.6,495.78 L807.6,495.77 L808.6,495.77 L809.6,495.76 L810.6,495.75 L811.6,495.75 L812.6,495.74 L813.6,495.74 L814.6,495.73 L815.6,495.72 L816.6,495.72 L817.6,495.71 L818.6,495.70 L819.6,495.70 L820.6,495.69 L821.6,495.69 L822.6,495.68 L823.6,495.67 L824.6,495.67 L825.6,495.66 L826.6,495.66 L827.6,495.65 L828.6,495.64 L829.6,495.64 L830.6,495.63 L831.6,495.63 L832.6,495.62 L833.6,495.61 L834.6,495.61 L835.6,495.60 L836.6,495.59 L837.6,495.59 L838.6,495.58 L839.6,495.58 L840.6,495.57 L841.6,495.56 L842.6,495.56 L843.6,495.55 L844.6,495.55 L845.6,495.54 L846.6,495.53 L847.6,495.53 L848.6,495.52 L849.6,495.51 L850.6,495.51 L851.6,495.50 L852.6,495.50 L853.6,495.49 L854.6,495.48 L855.6,495.48 L856.6,495.47 L857.6,495.46 L858.6,495.46 L859.6,495.45 L860.6,495.45 L861.6,495.44 L862.6,495.43 L863.6,495.43 L864.6,495.42 L865.6,495.41 L866.6,495.41 L867.6,495.40 L868.6,495.40 L869.6,495.39 L870.6,495.38 L871.6,495.38 L872.6,495.37 L873.6,495.36 L874.6,495.36 L875.6,495.35 L876.6,495.35 L877.6,495.34 L878.6,495.33 L879.6,495.33 L880.6,495.32 L881.6,495.31 L882.6,495.31 L883.6,495.30 L884.6,495.30 L885.6,495.29 L886.6,495.28 L887.6,495.28 L888.6,495.27 L889.6,495.26 L890.6,495.26 L891.6,495.25 L892.6,495.24 L893.6,495.24 L894.6,495.23 L895.6,495.23 L896.6,495.22 L897.6,495.21 L898.6,495.21 L899.6,495.20 L900.6,495.19 L901.6,495.19 L902.6,495.18 L903.6,495.17 L904.6,495.17 L905.6,495.16 L906.6,495.16 L907.6,495.15 L908.6,495.14 L909.6,495.14 L910.6,495.13 L911.6,495.12 L912.6,495.12 L913.6,495.11 L914.6,495.10 L915.6,495.10 L916.6,495.09 L917.6,495.09 L918.6,495.08 L919.6,495.07 L920.6,495.07 L921.6,495.06 L922.6,495.05 L923.6,495.05 L924.6,495.04 L925.6,495.03 L926.6,495.03 L927.6,495.02 L928.6,495.01 L929.6,495.01 L930.6,495.00 L931.6,494.99 L932.6,494.99 L933.6,494.98 L934.6,494.98 L935.6,494.97 L936.6,494.96 L937.6,494.96 L938.6,494.95 L939.6,494.94 L940.6,494.94 L941.6,494.93 L942.6,494.92 L943.6,494.92 L944.6,494.91 L945.6,494.90" fill="none" stroke="#0d5c0d" stroke-width="1.8" stroke-dasharray="9.021 4.611" stroke-dashoffset="0" clip-path="url(#cc)"/>
<path d="M159.0,849.10 L160.0,848.74 L161.0,848.38 L162.0,848.02 L163.0,847.67 L164.0,847.31 L165.0,846.95 L166.0,846.59 L167.0,846.24 L168.0,845.88 L169.0,845.53 L170.0,845.17 L171.0,844.82 L172.0,844.46 L173.0,844.11 L174.0,843.75 L175.0,843.40 L176.0,843.05 L177.0,842.70 L178.0,842.34 L179.0,841.99 L180.0,841.64 L181.0,841.29 L182.0,840.94 L183.0,840.59 L184.0,840.24 L185.0,839.90 L186.0,839.55 L187.0,839.20 L188.0,838.85 L189.0,838.51 L190.0,838.16 L191.0,837.82 L192.0,837.47 L193.0,837.13 L194.0,836.78 L195.0,836.44 L196.0,836.10 L197.0,835.75 L198.0,835.41 L199.0,835.07 L200.0,834.73 L201.0,834.39 L202.0,834.05 L203.0,833.71 L204.0,833.38 L205.0,833.04 L206.0,832.70 L207.0,832.36 L208.0,832.03 L209.0,831.69 L210.0,831.36 L211.0,831.02 L212.0,830.69 L213.0,830.36 L214.0,830.03 L215.0,829.69 L216.0,829.36 L217.0,829.03 L218.0,828.70 L219.0,828.38 L220.0,828.05 L221.0,827.72 L222.0,827.39 L223.0,827.07 L224.0,826.74 L225.0,826.41 L226.0,826.09 L227.0,825.77 L228.0,825.44 L229.0,825.12 L230.0,824.80 L231.0,824.48 L232.0,824.16 L233.0,823.84 L234.0,823.52 L235.0,823.20 L236.0,822.88 L237.0,822.56 L238.0,822.24 L239.0,821.92 L240.0,821.60 L241.0,821.28 L242.0,820.97 L243.0,820.65 L244.0,820.33 L245.0,820.01 L246.0,819.70 L247.0,819.38 L248.0,819.07 L249.0,818.75 L250.0,818.44 L251.0,818.12 L252.0,817.81 L253.0,817.49 L254.0,817.18 L255.0,816.87 L256.0,816.55 L257.0,816.24 L258.0,815.93 L259.0,815.62 L260.0,815.31 L261.0,814.99 L262.0,814.68 L263.0,814.37 L264.0,814.06 L265.0,813.75 L266.0,813.45 L267.0,813.14 L268.0,812.83 L269.0,812.52 L270.0,812.21 L271.0,811.91 L272.0,811.60 L273.0,811.29 L274.0,810.99 L275.0,810.68 L276.0,810.38 L277.0,810.08 L278.0,809.77 L279.0,809.47 L280.0,809.17 L281.0,808.86 L282.0,808.56 L283.0,808.26 L284.0,807.96 L285.0,807.66 L286.0,807.36 L287.0,807.06 L288.0,806.76 L289.0,806.46 L290.0,806.16 L291.0,805.87 L292.0,805.57 L293.0,805.27 L294.0,804.98 L295.0,804.68 L296.0,804.39 L297.0,804.09 L298.0,803.80 L299.0,803.51 L300.0,803.21 L301.0,802.92 L302.0,802.63 L303.0,802.34 L304.0,802.05 L305.0,801.76 L306.0,801.47 L307.0,801.18 L308.0,800.89 L309.0,800.61 L310.0,800.32 L311.0,800.03 L312.0,799.75 L313.0,799.46 L314.0,799.18 L315.0,798.89 L316.0,798.61 L317.0,798.33 L318.0,798.05 L319.0,797.76 L320.0,797.48 L321.0,797.20 L322.0,796.92 L323.0,796.65 L324.0,796.37 L325.0,796.09 L326.0,795.81 L327.0,795.54 L328.0,795.26 L329.0,794.98 L330.0,794.71 L331.0,794.44 L332.0,794.16 L333.0,793.89 L334.0,793.62 L335.0,793.35 L336.0,793.07 L337.0,792.80 L338.0,792.53 L339.0,792.26 L340.0,791.99 L341.0,791.72 L342.0,791.45 L343.0,791.18 L344.0,790.91 L345.0,790.64 L346.0,790.38 L347.0,790.11 L348.0,789.84 L349.0,789.57 L350.0,789.31 L351.0,789.04 L352.0,788.77 L353.0,788.51 L354.0,788.24 L355.0,787.98 L356.0,787.71 L357.0,787.45 L358.0,787.19 L359.0,786.92 L360.0,786.66 L361.0,786.40 L362.0,786.14 L363.0,785.88 L364.0,785.62 L365.0,785.35 L366.0,785.09 L367.0,784.84 L368.0,784.58 L369.0,784.32 L370.0,784.06 L371.0,783.80 L372.0,783.54 L373.0,783.29 L374.0,783.03 L375.0,782.78 L376.0,782.52 L377.0,782.27 L378.0,782.01 L379.0,781.76 L380.0,781.50 L381.0,781.25 L382.0,781.00 L383.0,780.75 L384.0,780.50 L385.0,780.25 L386.0,779.99 L387.0,779.75 L388.0,779.50 L389.0,779.25 L390.0,779.00 L391.0,778.75 L392.0,778.50 L393.0,778.26 L394.0,778.01 L395.0,777.77 L396.0,777.52 L397.0,777.28 L398.0,777.03 L399.0,776.79 L400.0,776.55 L401.0,776.31 L402.0,776.07 L403.0,775.83 L404.0,775.59 L405.0,775.35 L406.0,775.11 L407.0,774.87 L408.0,774.63 L409.0,774.39 L410.0,774.16 L411.0,773.92 L412.0,773.69 L413.0,773.45 L414.0,773.22 L415.0,772.98 L416.0,772.75 L417.0,772.52 L418.0,772.29 L419.0,772.06 L420.0,771.83 L421.0,771.60 L422.0,771.37 L423.0,771.14 L424.0,770.91 L425.0,770.69 L426.0,770.46 L427.0,770.24 L428.0,770.01 L429.0,769.79 L430.0,769.57 L431.0,769.34 L432.0,769.12 L433.0,768.90 L434.0,768.68 L435.0,768.46 L436.0,768.24 L437.0,768.02 L438.0,767.80 L439.0,767.59 L440.0,767.37 L441.0,767.15 L442.0,766.94 L443.0,766.72 L444.0,766.51 L445.0,766.29 L446.0,766.08 L447.0,765.87 L448.0,765.65 L449.0,765.44 L450.0,765.23 L451.0,765.02 L452.0,764.81 L453.0,764.60 L454.0,764.39 L455.0,764.18 L456.0,763.97 L457.0,763.77 L458.0,763.56 L459.0,763.35 L460.0,763.15 L461.0,762.94 L462.0,762.73 L463.0,762.53 L464.0,762.33 L465.0,762.12 L466.0,761.92 L467.0,761.72 L468.0,761.52 L469.0,761.31 L470.0,761.11 L471.0,760.91 L472.0,760.71 L473.0,760.51 L474.0,760.32 L475.0,760.12 L476.0,759.92 L477.0,759.72 L478.0,759.53 L479.0,759.33 L480.0,759.13 L481.0,758.94 L482.0,758.74 L483.0,758.55 L484.0,758.36 L485.0,758.16 L486.0,757.97 L487.0,757.78 L488.0,757.59 L489.0,757.39 L490.0,757.20 L491.0,757.01 L492.0,756.82 L493.0,756.63 L494.0,756.44 L495.0,756.26 L496.0,756.07 L497.0,755.88 L498.0,755.69 L499.0,755.51 L500.0,755.32 L501.0,755.13 L502.0,754.95 L503.0,754.76 L504.0,754.58 L505.0,754.39 L506.0,754.21 L507.0,754.03 L508.0,753.85 L509.0,753.66 L510.0,753.48 L511.0,753.30 L512.0,753.12 L513.0,752.94 L514.0,752.76 L515.0,752.58 L516.0,752.40 L517.0,752.22 L518.0,752.04 L519.0,751.86 L520.0,751.68 L521.0,751.50 L522.0,751.32 L523.0,751.14 L524.0,750.96 L525.0,750.78 L526.0,750.60 L527.0,750.42 L528.0,750.24 L529.0,750.06 L530.0,749.88 L531.0,749.70 L532.0,749.52 L533.0,749.34 L534.0,749.15 L535.0,748.97 L536.0,748.79 L537.0,748.61 L538.0,748.43 L539.0,748.26 L540.0,748.08 L541.0,747.90 L542.0,747.72 L543.0,747.54 L544.0,747.36 L545.0,747.18 L546.0,747.01 L547.0,746.83 L548.0,746.65 L549.0,746.48 L550.0,746.30 L551.0,746.13 L552.0,745.95 L553.0,745.78 L554.0,745.61 L555.0,745.43 L556.0,745.26 L557.0,745.09 L558.0,744.92 L559.0,744.75 L560.0,744.58 L561.0,744.41 L562.0,744.24 L563.0,744.08 L564.0,743.91 L565.0,743.75 L566.0,743.58 L567.0,743.42 L568.0,743.26 L569.0,743.09 L570.0,742.93 L571.0,742.77 L572.0,742.62 L573.0,742.46 L574.0,742.30 L575.0,742.15 L576.0,741.99 L577.0,741.84 L578.0,741.69 L579.0,741.53 L580.0,741.38 L581.0,741.24 L582.0,741.09 L583.0,740.94 L584.0,740.80 L585.0,740.65 L586.0,740.51 L587.0,740.37 L588.0,740.23 L589.0,740.10 L590.0,739.96 L591.0,739.82 L592.0,739.69 L593.0,739.56 L594.0,739.43 L595.0,739.30 L596.0,739.17 L597.0,739.05 L598.0,738.92 L599.0,738.80 L600.0,738.68 L601.0,738.56 L602.0,738.44 L603.0,738.33 L604.0,738.21 L605.0,738.10 L606.0,737.99 L607.0,737.88 L608.0,737.77 L609.0,737.66 L610.0,737.56 L611.0,737.46 L612.0,737.36 L613.0,737.25 L614.0,737.16 L615.0,737.06 L616.0,736.96 L617.0,736.87 L618.0,736.77 L619.0,736.68 L620.0,736.59 L621.0,736.50 L622.0,736.41 L623.0,736.33 L624.0,736.24 L625.0,736.16 L626.0,736.07 L627.0,735.99 L628.0,735.91 L629.0,735.83 L630.0,735.75 L631.0,735.66 L632.0,735.58 L633.0,735.50 L634.0,735.42 L635.0,735.33 L636.0,735.25 L637.0,735.17 L638.0,735.08 L639.0,735.00 L640.0,734.92 L641.0,734.84 L642.0,734.75 L643.0,734.67 L644.0,734.59 L645.0,734.51 L646.0,734.43 L647.0,734.35 L648.0,734.26 L649.0,734.18 L650.0,734.10 L651.0,734.02 L652.0,733.95 L653.0,733.87 L654.0,733.79 L655.0,733.71 L656.0,733.63 L657.0,733.56 L658.0,733.48 L659.0,733.41 L660.0,733.33 L661.0,733.26 L662.0,733.18 L663.0,733.11 L664.0,733.04 L665.0,732.97 L666.0,732.90 L667.0,732.83 L668.0,732.76 L669.0,732.70 L670.0,732.63 L671.0,732.57 L672.0,732.50 L673.0,732.44 L674.0,732.38 L675.0,732.32 L676.0,732.26 L677.0,732.20 L678.0,732.14 L679.0,732.08 L680.0,732.03 L681.0,731.98 L682.0,731.92 L683.0,731.87 L684.0,731.83 L685.0,731.78 L686.0,731.73 L687.0,731.69 L688.0,731.64 L689.0,731.60 L690.0,731.56 L691.0,731.52 L692.0,731.49 L693.0,731.45 L694.0,731.42 L695.0,731.38 L696.0,731.35 L697.0,731.33 L698.0,731.30 L699.0,731.27 L700.0,731.25 L701.0,731.22 L702.0,731.20 L703.0,731.17 L704.0,731.15 L705.0,731.12 L706.0,731.10 L707.0,731.07 L708.0,731.05 L709.0,731.03 L710.0,731.00 L711.0,730.98 L712.0,730.96 L713.0,730.93 L714.0,730.91 L715.0,730.89 L716.0,730.86 L717.0,730.84 L718.0,730.82 L719.0,730.80 L720.0,730.78 L721.0,730.76 L722.0,730.74 L723.0,730.72 L724.0,730.70 L725.0,730.68 L726.0,730.66 L727.0,730.64 L728.0,730.62 L729.0,730.60 L730.0,730.58 L731.0,730.57 L732.0,730.55 L733.0,730.53 L734.0,730.52 L735.0,730.50 L736.0,730.49 L737.0,730.47 L738.0,730.46 L739.0,730.45 L740.0,730.43 L741.0,730.42 L742.0,730.41 L743.0,730.40 L744.0,730.39 L745.0,730.38 L746.0,730.37 L747.0,730.36 L748.0,730.35 L749.0,730.34 L750.0,730.34 L751.0,730.33 L752.0,730.32 L753.0,730.32 L754.0,730.31 L755.0,730.31 L756.0,730.31 L757.0,730.30 L758.0,730.30 L759.0,730.30 L760.0,730.30 L761.0,730.30 L762.0,730.30 L763.0,730.31 L764.0,730.31 L765.0,730.31 L766.0,730.32 L767.0,730.33 L768.0,730.34 L769.0,730.34 L770.0,730.35 L771.0,730.36 L772.0,730.38 L773.0,730.39 L774.0,730.40 L775.0,730.41 L776.0,730.43 L777.0,730.44 L778.0,730.46 L779.0,730.47 L780.0,730.49 L781.0,730.50 L782.0,730.52 L783.0,730.54 L784.0,730.56 L785.0,730.57 L786.0,730.59 L787.0,730.61 L788.0,730.63 L789.0,730.64 L790.0,730.66 L791.0,730.68 L792.0,730.70 L793.0,730.72 L794.0,730.73 L795.0,730.75 L796.0,730.77 L797.0,730.79 L798.0,730.80 L799.0,730.82 L800.0,730.84 L801.0,730.85 L802.0,730.87 L803.0,730.89 L804.0,730.91 L805.0,730.93 L806.0,730.95 L807.0,730.96 L808.0,730.98 L809.0,731.00 L810.0,731.02 L811.0,731.04 L812.0,731.06 L813.0,731.08 L814.0,731.10 L815.0,731.13 L816.0,731.15 L817.0,731.17 L818.0,731.19 L819.0,731.21 L820.0,731.23 L821.0,731.26 L822.0,731.28 L823.0,731.30 L824.0,731.32 L825.0,731.35 L826.0,731.37 L827.0,731.39 L828.0,731.42 L829.0,731.44 L830.0,731.47 L831.0,731.49 L832.0,731.52 L833.0,731.54 L834.0,731.57 L835.0,731.59 L836.0,731.62 L837.0,731.64 L838.0,731.67 L839.0,731.69 L840.0,731.72 L841.0,731.75 L842.0,731.77 L843.0,731.80 L844.0,731.83 L845.0,731.86 L846.0,731.88 L847.0,731.91 L848.0,731.94 L849.0,731.97 L850.0,731.99 L851.0,732.02 L852.0,732.05 L853.0,732.08 L854.0,732.11 L855.0,732.14 L856.0,732.17 L857.0,732.20 L858.0,732.23 L859.0,732.26 L860.0,732.29 L861.0,732.32 L862.0,732.35 L863.0,732.38 L864.0,732.41 L865.0,732.44 L866.0,732.47 L867.0,732.50 L868.0,732.54 L869.0,732.57 L870.0,732.60 L871.0,732.63 L872.0,732.66 L873.0,732.70 L874.0,732.73 L875.0,732.76 L876.0,732.80 L877.0,732.83 L878.0,732.87 L879.0,732.90 L880.0,732.94 L881.0,732.98 L882.0,733.01 L883.0,733.05 L884.0,733.09 L885.0,733.12 L886.0,733.16 L887.0,733.20 L888.0,733.24 L889.0,733.28 L890.0,733.32 L891.0,733.36 L892.0,733.40 L893.0,733.44 L894.0,733.48 L895.0,733.52 L896.0,733.56 L897.0,733.60 L898.0,733.65 L899.0,733.69 L900.0,733.73 L901.0,733.77 L902.0,733.82 L903.0,733.86 L904.0,733.91 L905.0,733.95 L906.0,734.00 L907.0,734.04 L908.0,734.09 L909.0,734.13 L910.0,734.18 L911.0,734.22 L912.0,734.27 L913.0,734.32 L914.0,734.36 L915.0,734.41 L916.0,734.46 L917.0,734.51 L918.0,734.56 L919.0,734.60 L920.0,734.65 L921.0,734.70 L922.0,734.75 L923.0,734.80 L924.0,734.85 L925.0,734.90 L926.0,734.95 L927.0,735.00 L928.0,735.05 L929.0,735.11 L930.0,735.16 L931.0,735.21 L932.0,735.26 L933.0,735.31 L934.0,735.36 L935.0,735.42 L936.0,735.47 L937.0,735.52 L938.0,735.58 L939.0,735.63 L940.0,735.68 L941.0,735.74 L942.0,735.79 L943.0,735.85 L944.0,735.90 L945.0,735.96" fill="none" stroke="#111" stroke-width="1.8" stroke-dasharray="8.501 5.400" stroke-dashoffset="0" clip-path="url(#cc)"/>
<path d="M980.5,496.60 L981.5,496.60 L982.5,496.60 L983.5,496.59 L984.5,496.59 L985.5,496.59 L986.5,496.59 L987.5,496.58 L988.5,496.58 L989.5,496.58 L990.5,496.58 L991.5,496.57 L992.5,496.57 L993.5,496.57 L994.5,496.57 L995.5,496.56 L996.5,496.56 L997.5,496.56 L998.5,496.56 L999.5,496.55 L1000.5,496.55 L1001.5,496.55 L1002.5,496.55 L1003.5,496.54 L1004.5,496.54 L1005.5,496.54 L1006.5,496.54 L1007.5,496.53 L1008.5,496.53 L1009.5,496.53 L1010.5,496.53 L1011.5,496.52 L1012.5,496.52 L1013.5,496.52 L1014.5,496.52 L1015.5,496.51 L1016.5,496.51 L1017.5,496.51 L1018.5,496.50 L1019.5,496.50 L1020.5,496.50 L1021.5,496.50 L1022.5,496.49 L1023.5,496.49 L1024.5,496.49 L1025.5,496.49 L1026.5,496.48 L1027.5,496.48 L1028.5,496.48 L1029.5,496.48 L1030.5,496.47 L1031.5,496.47 L1032.5,496.47 L1033.5,496.47 L1034.5,496.46 L1035.5,496.46 L1036.5,496.46 L1037.5,496.45 L1038.5,496.45 L1039.5,496.45 L1040.5,496.45 L1041.5,496.44 L1042.5,496.44 L1043.5,496.44 L1044.5,496.44 L1045.5,496.43 L1046.5,496.43 L1047.5,496.43 L1048.5,496.43 L1049.5,496.42 L1050.5,496.42 L1051.5,496.42 L1052.5,496.41 L1053.5,496.41 L1054.5,496.41 L1055.5,496.41 L1056.5,496.40 L1057.5,496.40 L1058.5,496.40 L1059.5,496.39 L1060.5,496.39 L1061.5,496.39 L1062.5,496.39 L1063.5,496.38 L1064.5,496.38 L1065.5,496.38 L1066.5,496.38 L1067.5,496.37 L1068.5,496.37 L1069.5,496.37 L1070.5,496.36 L1071.5,496.36 L1072.5,496.36 L1073.5,496.36 L1074.5,496.35 L1075.5,496.35 L1076.5,496.35 L1077.5,496.34 L1078.5,496.34 L1079.5,496.34 L1080.5,496.34 L1081.5,496.33 L1082.5,496.33 L1083.5,496.33 L1084.5,496.32 L1085.5,496.32 L1086.5,496.32 L1087.5,496.32 L1088.5,496.31 L1089.5,496.31 L1090.5,496.31 L1091.5,496.30 L1092.5,496.30 L1093.5,496.30 L1094.5,496.30 L1095.5,496.29 L1096.5,496.29 L1097.5,496.29 L1098.5,496.28 L1099.5,496.28 L1100.5,496.28 L1101.5,496.28 L1102.5,496.27 L1103.5,496.27 L1104.5,496.27 L1105.5,496.26 L1106.5,496.26 L1107.5,496.26 L1108.5,496.25 L1109.5,496.25 L1110.5,496.25 L1111.5,496.25 L1112.5,496.24 L1113.5,496.24 L1114.5,496.24 L1115.5,496.23 L1116.5,496.23 L1117.5,496.23 L1118.5,496.22 L1119.5,496.22 L1120.5,496.22 L1121.5,496.22 L1122.5,496.21 L1123.5,496.21 L1124.5,496.21 L1125.5,496.20 L1126.5,496.20 L1127.5,496.20 L1128.5,496.19 L1129.5,496.19 L1130.5,496.19 L1131.5,496.19 L1132.5,496.18 L1133.5,496.18 L1134.5,496.18 L1135.5,496.17 L1136.5,496.17 L1137.5,496.17 L1138.5,496.16 L1139.5,496.16 L1140.5,496.16 L1141.5,496.15 L1142.5,496.15 L1143.5,496.15 L1144.5,496.14 L1145.5,496.14 L1146.5,496.14 L1147.5,496.14 L1148.5,496.13 L1149.5,496.13 L1150.5,496.13 L1151.5,496.12 L1152.5,496.12 L1153.5,496.12 L1154.5,496.11 L1155.5,496.11 L1156.5,496.11 L1157.5,496.10 L1158.5,496.10 L1159.5,496.10 L1160.5,496.09 L1161.5,496.09 L1162.5,496.09 L1163.5,496.09 L1164.5,496.08 L1165.5,496.08 L1166.5,496.08 L1167.5,496.07 L1168.5,496.07 L1169.5,496.07 L1170.5,496.06 L1171.5,496.06 L1172.5,496.06 L1173.5,496.05 L1174.5,496.05 L1175.5,496.05 L1176.5,496.04 L1177.5,496.04 L1178.5,496.04 L1179.5,496.03 L1180.5,496.03 L1181.5,496.03 L1182.5,496.02 L1183.5,496.02 L1184.5,496.02 L1185.5,496.01 L1186.5,496.01 L1187.5,496.01 L1188.5,496.00 L1189.5,496.00 L1190.5,496.00 L1191.5,496.00 L1192.5,495.99 L1193.5,495.99 L1194.5,495.99 L1195.5,495.98 L1196.5,495.98 L1197.5,495.98 L1198.5,495.97 L1199.5,495.97 L1200.5,495.97 L1201.5,495.96 L1202.5,495.96 L1203.5,495.96 L1204.5,495.95 L1205.5,495.95 L1206.5,495.95 L1207.5,495.94 L1208.5,495.94 L1209.5,495.94 L1210.5,495.93 L1211.5,495.93 L1212.5,495.93 L1213.5,495.92 L1214.5,495.92 L1215.5,495.92 L1216.5,495.91 L1217.5,495.91 L1218.5,495.91 L1219.5,495.90 L1220.5,495.90 L1221.5,495.90 L1222.5,495.89 L1223.5,495.89 L1224.5,495.89 L1225.5,495.88 L1226.5,495.88 L1227.5,495.88 L1228.5,495.87 L1229.5,495.87 L1230.5,495.87 L1231.5,495.86 L1232.5,495.86 L1233.5,495.85 L1234.5,495.85 L1235.5,495.85 L1236.5,495.84 L1237.5,495.84 L1238.5,495.84 L1239.5,495.83 L1240.5,495.83 L1241.5,495.83 L1242.5,495.82 L1243.5,495.82 L1244.5,495.82 L1245.5,495.81 L1246.5,495.81 L1247.5,495.81 L1248.5,495.80 L1249.5,495.80 L1250.5,495.80 L1251.5,495.79 L1252.5,495.79 L1253.5,495.79 L1254.5,495.78 L1255.5,495.78 L1256.5,495.78 L1257.5,495.77 L1258.5,495.77 L1259.5,495.76 L1260.5,495.76 L1261.5,495.76 L1262.5,495.75 L1263.5,495.75 L1264.5,495.75 L1265.5,495.74 L1266.5,495.74 L1267.5,495.74 L1268.5,495.73 L1269.5,495.73 L1270.5,495.73 L1271.5,495.72 L1272.5,495.72 L1273.5,495.71 L1274.5,495.71 L1275.5,495.71 L1276.5,495.70 L1277.5,495.70 L1278.5,495.70 L1279.5,495.69 L1280.5,495.69 L1281.5,495.68 L1282.5,495.68 L1283.5,495.68 L1284.5,495.67 L1285.5,495.67 L1286.5,495.67 L1287.5,495.66 L1288.5,495.66 L1289.5,495.65 L1290.5,495.65 L1291.5,495.65 L1292.5,495.64 L1293.5,495.64 L1294.5,495.64 L1295.5,495.63 L1296.5,495.63 L1297.5,495.62 L1298.5,495.62 L1299.5,495.62 L1300.5,495.61 L1301.5,495.61 L1302.5,495.60 L1303.5,495.60 L1304.5,495.60 L1305.5,495.59 L1306.5,495.59 L1307.5,495.59 L1308.5,495.58 L1309.5,495.58 L1310.5,495.57 L1311.5,495.57 L1312.5,495.57 L1313.5,495.56 L1314.5,495.56 L1315.5,495.55 L1316.5,495.55 L1317.5,495.55 L1318.5,495.54 L1319.5,495.54 L1320.5,495.53 L1321.5,495.53 L1322.5,495.53 L1323.5,495.52 L1324.5,495.52 L1325.5,495.51 L1326.5,495.51 L1327.5,495.51 L1328.5,495.50 L1329.5,495.50 L1330.5,495.49 L1331.5,495.49 L1332.5,495.48 L1333.5,495.48 L1334.5,495.48 L1335.5,495.47 L1336.5,495.47 L1337.5,495.46 L1338.5,495.46 L1339.5,495.46 L1340.5,495.45 L1341.5,495.45 L1342.5,495.44 L1343.5,495.44 L1344.5,495.44 L1345.5,495.43 L1346.5,495.43 L1347.5,495.42 L1348.5,495.42 L1349.5,495.41 L1350.5,495.41 L1351.5,495.41 L1352.5,495.40 L1353.5,495.40 L1354.5,495.39 L1355.5,495.39 L1356.5,495.39 L1357.5,495.38 L1358.5,495.38 L1359.5,495.37 L1360.5,495.37 L1361.5,495.36 L1362.5,495.36 L1363.5,495.36 L1364.5,495.35 L1365.5,495.35 L1366.5,495.34 L1367.5,495.34 L1368.5,495.33 L1369.5,495.33 L1370.5,495.33 L1371.5,495.32 L1372.5,495.32 L1373.5,495.31 L1374.5,495.31 L1375.5,495.31 L1376.5,495.30 L1377.5,495.30 L1378.5,495.29 L1379.5,495.29 L1380.5,495.28 L1381.5,495.28 L1382.5,495.28 L1383.5,495.27 L1384.5,495.27 L1385.5,495.26 L1386.5,495.26 L1387.5,495.25 L1388.5,495.25 L1389.5,495.25 L1390.5,495.24 L1391.5,495.24 L1392.5,495.23 L1393.5,495.23 L1394.5,495.22 L1395.5,495.22 L1396.5,495.21 L1397.5,495.21 L1398.5,495.21 L1399.5,495.20 L1400.5,495.20 L1401.5,495.19 L1402.5,495.19 L1403.5,495.18 L1404.5,495.18 L1405.5,495.18 L1406.5,495.17 L1407.5,495.17 L1408.5,495.16 L1409.5,495.16 L1410.5,495.15 L1411.5,495.15 L1412.5,495.15 L1413.5,495.14 L1414.5,495.14 L1415.5,495.13 L1416.5,495.13 L1417.5,495.12 L1418.5,495.12 L1419.5,495.12 L1420.5,495.11 L1421.5,495.11 L1422.5,495.10 L1423.5,495.10 L1424.5,495.09 L1425.5,495.09 L1426.5,495.08 L1427.5,495.08 L1428.5,495.08 L1429.5,495.07 L1430.5,495.07 L1431.5,495.06 L1432.5,495.06 L1433.5,495.05 L1434.5,495.05 L1435.5,495.05 L1436.5,495.04 L1437.5,495.04 L1438.5,495.03 L1439.5,495.03 L1440.5,495.02 L1441.5,495.02 L1442.5,495.01 L1443.5,495.01 L1444.5,495.01 L1445.5,495.00 L1446.5,495.00 L1447.5,494.99 L1448.5,494.99 L1449.5,494.98 L1450.5,494.98 L1451.5,494.98 L1452.5,494.97 L1453.5,494.97 L1454.5,494.96 L1455.5,494.96 L1456.5,494.95 L1457.5,494.95 L1458.5,494.94 L1459.5,494.94 L1460.5,494.94 L1461.5,494.93 L1462.5,494.93 L1463.5,494.92 L1464.5,494.92 L1465.5,494.91 L1466.5,494.91 L1467.5,494.91 L1468.5,494.90 L1469.5,494.90 L1470.5,494.89 L1471.5,494.89 L1472.5,494.88 L1473.5,494.88 L1474.5,494.88 L1475.5,494.87 L1476.5,494.87 L1477.5,494.86 L1478.5,494.86 L1479.5,494.85 L1480.5,494.85 L1481.5,494.85 L1482.5,494.84 L1483.5,494.84 L1484.5,494.83 L1485.5,494.83 L1486.5,494.82 L1487.5,494.82 L1488.5,494.81 L1489.5,494.81 L1490.5,494.81 L1491.5,494.80 L1492.5,494.80 L1493.5,494.79 L1494.5,494.79 L1495.5,494.78 L1496.5,494.78 L1497.5,494.78 L1498.5,494.77 L1499.5,494.77 L1500.5,494.76 L1501.5,494.76 L1502.5,494.75 L1503.5,494.75 L1504.5,494.75 L1505.5,494.74 L1506.5,494.74 L1507.5,494.73 L1508.5,494.73 L1509.5,494.73 L1510.5,494.72 L1511.5,494.72 L1512.5,494.71 L1513.5,494.71 L1514.5,494.70 L1515.5,494.70 L1516.5,494.70 L1517.5,494.69 L1518.5,494.69 L1519.5,494.68 L1520.5,494.68 L1521.5,494.67 L1522.5,494.67 L1523.5,494.67 L1524.5,494.66 L1525.5,494.66 L1526.5,494.65 L1527.5,494.65 L1528.5,494.65 L1529.5,494.64 L1530.5,494.64 L1531.5,494.63 L1532.5,494.63 L1533.5,494.62 L1534.5,494.62 L1535.5,494.62 L1536.5,494.61 L1537.5,494.61 L1538.5,494.60 L1539.5,494.60 L1540.5,494.60 L1541.5,494.59 L1542.5,494.59 L1543.5,494.58 L1544.5,494.58 L1545.5,494.58 L1546.5,494.57 L1547.5,494.57 L1548.5,494.56 L1549.5,494.56 L1550.5,494.55 L1551.5,494.55 L1552.5,494.55 L1553.5,494.54 L1554.5,494.54 L1555.5,494.53 L1556.5,494.53 L1557.5,494.53 L1558.5,494.52 L1559.5,494.52 L1560.5,494.51 L1561.5,494.51 L1562.5,494.51 L1563.5,494.50 L1564.5,494.50 L1565.5,494.49 L1566.5,494.49 L1567.5,494.49 L1568.5,494.48 L1569.5,494.48 L1570.5,494.47 L1571.5,494.47 L1572.5,494.46 L1573.5,494.46 L1574.5,494.46 L1575.5,494.45 L1576.5,494.45 L1577.5,494.44 L1578.5,494.44 L1579.5,494.44 L1580.5,494.43 L1581.5,494.43 L1582.5,494.42 L1583.5,494.42 L1584.5,494.42 L1585.5,494.41 L1586.5,494.41 L1587.5,494.40 L1588.5,494.40 L1589.5,494.40 L1590.5,494.39 L1591.5,494.39 L1592.5,494.38 L1593.5,494.38 L1594.5,494.37 L1595.5,494.37 L1596.5,494.37 L1597.5,494.36 L1598.5,494.36 L1599.5,494.35 L1600.5,494.35 L1601.5,494.35 L1602.5,494.34 L1603.5,494.34 L1604.5,494.33 L1605.5,494.33 L1606.5,494.33 L1607.5,494.32 L1608.5,494.32 L1609.5,494.31 L1610.5,494.31 L1611.5,494.31 L1612.5,494.30 L1613.5,494.30 L1614.5,494.29 L1615.5,494.29 L1616.5,494.29 L1617.5,494.28 L1618.5,494.28 L1619.5,494.27 L1620.5,494.27 L1621.5,494.26 L1622.5,494.26 L1623.5,494.26 L1624.5,494.25 L1625.5,494.25 L1626.5,494.24 L1627.5,494.24 L1628.5,494.24 L1629.5,494.23 L1630.5,494.23 L1631.5,494.22 L1632.5,494.22 L1633.5,494.22 L1634.5,494.21 L1635.5,494.21 L1636.5,494.20 L1637.5,494.20 L1638.5,494.20 L1639.5,494.19 L1640.5,494.19 L1641.5,494.18 L1642.5,494.18 L1643.5,494.17 L1644.5,494.17 L1645.5,494.17 L1646.5,494.16 L1647.5,494.16 L1648.5,494.15 L1649.5,494.15 L1650.5,494.15 L1651.5,494.14 L1652.5,494.14 L1653.5,494.13 L1654.5,494.13 L1655.5,494.13 L1656.5,494.12 L1657.5,494.12 L1658.5,494.11 L1659.5,494.11 L1660.5,494.11 L1661.5,494.10 L1662.5,494.10 L1663.5,494.09 L1664.5,494.09 L1665.5,494.09 L1666.5,494.08 L1667.5,494.08 L1668.5,494.07 L1669.5,494.07 L1670.5,494.07 L1671.5,494.06 L1672.5,494.06 L1673.5,494.05 L1674.5,494.05 L1675.5,494.04 L1676.5,494.04 L1677.5,494.04 L1678.5,494.03 L1679.5,494.03 L1680.5,494.02 L1681.5,494.02 L1682.5,494.02 L1683.5,494.01 L1684.5,494.01 L1685.5,494.00 L1686.5,494.00 L1687.5,494.00 L1688.5,493.99 L1689.5,493.99 L1690.5,493.98 L1691.5,493.98 L1692.5,493.98 L1693.5,493.97 L1694.5,493.97 L1695.5,493.96 L1696.5,493.96 L1697.5,493.96 L1698.5,493.95 L1699.5,493.95 L1700.5,493.94 L1701.5,493.94 L1702.5,493.94 L1703.5,493.93 L1704.5,493.93 L1705.5,493.92 L1706.5,493.92 L1707.5,493.91 L1708.5,493.91 L1709.5,493.91 L1710.5,493.90 L1711.5,493.90 L1712.5,493.89 L1713.5,493.89 L1714.5,493.89 L1715.5,493.88 L1716.5,493.88 L1717.5,493.87 L1718.5,493.87 L1719.5,493.87 L1720.5,493.86 L1721.5,493.86 L1722.5,493.85 L1723.5,493.85 L1724.5,493.85 L1725.5,493.84 L1726.5,493.84 L1727.5,493.83 L1728.5,493.83 L1729.5,493.83 L1730.5,493.82 L1731.5,493.82 L1732.5,493.81 L1733.5,493.81 L1734.5,493.81 L1735.5,493.80 L1736.5,493.80 L1737.5,493.79 L1738.5,493.79 L1739.5,493.79 L1740.5,493.78 L1741.5,493.78 L1742.5,493.77 L1743.5,493.77 L1744.5,493.77 L1745.5,493.76 L1746.5,493.76 L1747.5,493.75 L1748.5,493.75 L1749.5,493.74 L1750.5,493.74 L1751.5,493.74 L1752.5,493.73 L1753.5,493.73 L1754.5,493.72 L1755.5,493.72 L1756.5,493.72 L1757.5,493.71 L1758.5,493.71 L1759.5,493.70 L1760.5,493.70" fill="none" stroke="#0a5a0a" stroke-width="2.3" stroke-dasharray="8.462 6.968" stroke-dashoffset="0" clip-path="url(#cd)"/>
<path d="M980.5,837.20 L981.5,836.86 L982.5,836.52 L983.5,836.18 L984.5,835.85 L985.5,835.51 L986.5,835.18 L987.5,834.84 L988.5,834.51 L989.5,834.18 L990.5,833.84 L991.5,833.51 L992.5,833.18 L993.5,832.85 L994.5,832.53 L995.5,832.20 L996.5,831.87 L997.5,831.55 L998.5,831.22 L999.5,830.90 L1000.5,830.58 L1001.5,830.25 L1002.5,829.93 L1003.5,829.61 L1004.5,829.29 L1005.5,828.97 L1006.5,828.66 L1007.5,828.34 L1008.5,828.02 L1009.5,827.71 L1010.5,827.39 L1011.5,827.08 L1012.5,826.76 L1013.5,826.45 L1014.5,826.14 L1015.5,825.83 L1016.5,825.52 L1017.5,825.21 L1018.5,824.90 L1019.5,824.59 L1020.5,824.28 L1021.5,823.97 L1022.5,823.67 L1023.5,823.36 L1024.5,823.06 L1025.5,822.75 L1026.5,822.45 L1027.5,822.15 L1028.5,821.85 L1029.5,821.54 L1030.5,821.24 L1031.5,820.94 L1032.5,820.64 L1033.5,820.34 L1034.5,820.05 L1035.5,819.75 L1036.5,819.45 L1037.5,819.15 L1038.5,818.86 L1039.5,818.56 L1040.5,818.27 L1041.5,817.97 L1042.5,817.68 L1043.5,817.39 L1044.5,817.10 L1045.5,816.80 L1046.5,816.51 L1047.5,816.22 L1048.5,815.93 L1049.5,815.64 L1050.5,815.35 L1051.5,815.06 L1052.5,814.78 L1053.5,814.49 L1054.5,814.20 L1055.5,813.91 L1056.5,813.63 L1057.5,813.35 L1058.5,813.06 L1059.5,812.78 L1060.5,812.51 L1061.5,812.23 L1062.5,811.96 L1063.5,811.68 L1064.5,811.41 L1065.5,811.14 L1066.5,810.87 L1067.5,810.60 L1068.5,810.33 L1069.5,810.07 L1070.5,809.80 L1071.5,809.53 L1072.5,809.27 L1073.5,809.00 L1074.5,808.73 L1075.5,808.47 L1076.5,808.20 L1077.5,807.93 L1078.5,807.67 L1079.5,807.40 L1080.5,807.13 L1081.5,806.86 L1082.5,806.60 L1083.5,806.33 L1084.5,806.06 L1085.5,805.79 L1086.5,805.52 L1087.5,805.25 L1088.5,804.98 L1089.5,804.71 L1090.5,804.44 L1091.5,804.17 L1092.5,803.91 L1093.5,803.64 L1094.5,803.37 L1095.5,803.10 L1096.5,802.83 L1097.5,802.56 L1098.5,802.29 L1099.5,802.02 L1100.5,801.75 L1101.5,801.48 L1102.5,801.22 L1103.5,800.95 L1104.5,800.68 L1105.5,800.41 L1106.5,800.14 L1107.5,799.87 L1108.5,799.61 L1109.5,799.34 L1110.5,799.07 L1111.5,798.80 L1112.5,798.54 L1113.5,798.27 L1114.5,798.00 L1115.5,797.74 L1116.5,797.47 L1117.5,797.20 L1118.5,796.94 L1119.5,796.67 L1120.5,796.41 L1121.5,796.14 L1122.5,795.88 L1123.5,795.61 L1124.5,795.35 L1125.5,795.09 L1126.5,794.82 L1127.5,794.56 L1128.5,794.30 L1129.5,794.04 L1130.5,793.78 L1131.5,793.52 L1132.5,793.25 L1133.5,792.99 L1134.5,792.73 L1135.5,792.48 L1136.5,792.22 L1137.5,791.96 L1138.5,791.70 L1139.5,791.44 L1140.5,791.19 L1141.5,790.93 L1142.5,790.67 L1143.5,790.42 L1144.5,790.16 L1145.5,789.91 L1146.5,789.66 L1147.5,789.40 L1148.5,789.15 L1149.5,788.90 L1150.5,788.65 L1151.5,788.40 L1152.5,788.15 L1153.5,787.90 L1154.5,787.65 L1155.5,787.40 L1156.5,787.15 L1157.5,786.90 L1158.5,786.65 L1159.5,786.41 L1160.5,786.16 L1161.5,785.91 L1162.5,785.66 L1163.5,785.41 L1164.5,785.17 L1165.5,784.92 L1166.5,784.67 L1167.5,784.43 L1168.5,784.18 L1169.5,783.93 L1170.5,783.69 L1171.5,783.44 L1172.5,783.20 L1173.5,782.95 L1174.5,782.70 L1175.5,782.46 L1176.5,782.22 L1177.5,781.97 L1178.5,781.73 L1179.5,781.48 L1180.5,781.24 L1181.5,781.00 L1182.5,780.75 L1183.5,780.51 L1184.5,780.27 L1185.5,780.03 L1186.5,779.78 L1187.5,779.54 L1188.5,779.30 L1189.5,779.06 L1190.5,778.82 L1191.5,778.58 L1192.5,778.34 L1193.5,778.10 L1194.5,777.86 L1195.5,777.62 L1196.5,777.39 L1197.5,777.15 L1198.5,776.91 L1199.5,776.67 L1200.5,776.44 L1201.5,776.20 L1202.5,775.96 L1203.5,775.73 L1204.5,775.49 L1205.5,775.26 L1206.5,775.02 L1207.5,774.79 L1208.5,774.55 L1209.5,774.32 L1210.5,774.09 L1211.5,773.85 L1212.5,773.62 L1213.5,773.39 L1214.5,773.16 L1215.5,772.93 L1216.5,772.69 L1217.5,772.46 L1218.5,772.23 L1219.5,772.01 L1220.5,771.78 L1221.5,771.55 L1222.5,771.32 L1223.5,771.09 L1224.5,770.86 L1225.5,770.64 L1226.5,770.41 L1227.5,770.19 L1228.5,769.96 L1229.5,769.74 L1230.5,769.51 L1231.5,769.29 L1232.5,769.06 L1233.5,768.84 L1234.5,768.62 L1235.5,768.40 L1236.5,768.17 L1237.5,767.95 L1238.5,767.73 L1239.5,767.51 L1240.5,767.29 L1241.5,767.08 L1242.5,766.86 L1243.5,766.64 L1244.5,766.42 L1245.5,766.20 L1246.5,765.99 L1247.5,765.77 L1248.5,765.56 L1249.5,765.34 L1250.5,765.13 L1251.5,764.91 L1252.5,764.70 L1253.5,764.48 L1254.5,764.27 L1255.5,764.05 L1256.5,763.84 L1257.5,763.63 L1258.5,763.41 L1259.5,763.20 L1260.5,762.99 L1261.5,762.78 L1262.5,762.57 L1263.5,762.36 L1264.5,762.15 L1265.5,761.94 L1266.5,761.73 L1267.5,761.52 L1268.5,761.31 L1269.5,761.10 L1270.5,760.89 L1271.5,760.68 L1272.5,760.48 L1273.5,760.27 L1274.5,760.06 L1275.5,759.86 L1276.5,759.65 L1277.5,759.45 L1278.5,759.24 L1279.5,759.04 L1280.5,758.83 L1281.5,758.63 L1282.5,758.43 L1283.5,758.23 L1284.5,758.02 L1285.5,757.82 L1286.5,757.62 L1287.5,757.42 L1288.5,757.22 L1289.5,757.02 L1290.5,756.82 L1291.5,756.62 L1292.5,756.43 L1293.5,756.23 L1294.5,756.03 L1295.5,755.84 L1296.5,755.64 L1297.5,755.44 L1298.5,755.25 L1299.5,755.06 L1300.5,754.86 L1301.5,754.67 L1302.5,754.48 L1303.5,754.28 L1304.5,754.09 L1305.5,753.90 L1306.5,753.71 L1307.5,753.52 L1308.5,753.33 L1309.5,753.14 L1310.5,752.96 L1311.5,752.77 L1312.5,752.58 L1313.5,752.40 L1314.5,752.21 L1315.5,752.02 L1316.5,751.84 L1317.5,751.66 L1318.5,751.47 L1319.5,751.29 L1320.5,751.11 L1321.5,750.93 L1322.5,750.75 L1323.5,750.57 L1324.5,750.39 L1325.5,750.22 L1326.5,750.04 L1327.5,749.87 L1328.5,749.70 L1329.5,749.52 L1330.5,749.35 L1331.5,749.18 L1332.5,749.01 L1333.5,748.84 L1334.5,748.67 L1335.5,748.51 L1336.5,748.34 L1337.5,748.17 L1338.5,748.01 L1339.5,747.84 L1340.5,747.67 L1341.5,747.51 L1342.5,747.35 L1343.5,747.18 L1344.5,747.02 L1345.5,746.85 L1346.5,746.69 L1347.5,746.53 L1348.5,746.36 L1349.5,746.20 L1350.5,746.04 L1351.5,745.87 L1352.5,745.71 L1353.5,745.54 L1354.5,745.38 L1355.5,745.22 L1356.5,745.05 L1357.5,744.89 L1358.5,744.72 L1359.5,744.56 L1360.5,744.39 L1361.5,744.23 L1362.5,744.06 L1363.5,743.90 L1364.5,743.73 L1365.5,743.57 L1366.5,743.40 L1367.5,743.24 L1368.5,743.08 L1369.5,742.91 L1370.5,742.75 L1371.5,742.59 L1372.5,742.42 L1373.5,742.26 L1374.5,742.10 L1375.5,741.94 L1376.5,741.78 L1377.5,741.62 L1378.5,741.46 L1379.5,741.30 L1380.5,741.14 L1381.5,740.98 L1382.5,740.83 L1383.5,740.67 L1384.5,740.51 L1385.5,740.36 L1386.5,740.20 L1387.5,740.05 L1388.5,739.90 L1389.5,739.75 L1390.5,739.60 L1391.5,739.45 L1392.5,739.30 L1393.5,739.15 L1394.5,739.01 L1395.5,738.86 L1396.5,738.72 L1397.5,738.58 L1398.5,738.43 L1399.5,738.29 L1400.5,738.16 L1401.5,738.02 L1402.5,737.88 L1403.5,737.75 L1404.5,737.61 L1405.5,737.48 L1406.5,737.35 L1407.5,737.22 L1408.5,737.09 L1409.5,736.96 L1410.5,736.83 L1411.5,736.71 L1412.5,736.58 L1413.5,736.45 L1414.5,736.33 L1415.5,736.20 L1416.5,736.08 L1417.5,735.96 L1418.5,735.84 L1419.5,735.71 L1420.5,735.59 L1421.5,735.47 L1422.5,735.35 L1423.5,735.24 L1424.5,735.12 L1425.5,735.00 L1426.5,734.88 L1427.5,734.77 L1428.5,734.65 L1429.5,734.54 L1430.5,734.42 L1431.5,734.31 L1432.5,734.19 L1433.5,734.08 L1434.5,733.97 L1435.5,733.85 L1436.5,733.74 L1437.5,733.63 L1438.5,733.52 L1439.5,733.41 L1440.5,733.30 L1441.5,733.19 L1442.5,733.08 L1443.5,732.97 L1444.5,732.86 L1445.5,732.75 L1446.5,732.64 L1447.5,732.54 L1448.5,732.43 L1449.5,732.32 L1450.5,732.21 L1451.5,732.11 L1452.5,732.00 L1453.5,731.89 L1454.5,731.79 L1455.5,731.68 L1456.5,731.57 L1457.5,731.47 L1458.5,731.36 L1459.5,731.25 L1460.5,731.15 L1461.5,731.04 L1462.5,730.94 L1463.5,730.83 L1464.5,730.73 L1465.5,730.62 L1466.5,730.52 L1467.5,730.41 L1468.5,730.31 L1469.5,730.21 L1470.5,730.11 L1471.5,730.00 L1472.5,729.90 L1473.5,729.80 L1474.5,729.70 L1475.5,729.60 L1476.5,729.51 L1477.5,729.41 L1478.5,729.31 L1479.5,729.21 L1480.5,729.11 L1481.5,729.02 L1482.5,728.92 L1483.5,728.82 L1484.5,728.73 L1485.5,728.63 L1486.5,728.54 L1487.5,728.44 L1488.5,728.35 L1489.5,728.25 L1490.5,728.16 L1491.5,728.07 L1492.5,727.97 L1493.5,727.88 L1494.5,727.78 L1495.5,727.69 L1496.5,727.60 L1497.5,727.50 L1498.5,727.41 L1499.5,727.32 L1500.5,727.22 L1501.5,727.13 L1502.5,727.04 L1503.5,726.95 L1504.5,726.85 L1505.5,726.76 L1506.5,726.67 L1507.5,726.57 L1508.5,726.48 L1509.5,726.39 L1510.5,726.29 L1511.5,726.20 L1512.5,726.11 L1513.5,726.01 L1514.5,725.92 L1515.5,725.82 L1516.5,725.73 L1517.5,725.63 L1518.5,725.54 L1519.5,725.44 L1520.5,725.35 L1521.5,725.25 L1522.5,725.16 L1523.5,725.06 L1524.5,724.96 L1525.5,724.86 L1526.5,724.77 L1527.5,724.67 L1528.5,724.57 L1529.5,724.47 L1530.5,724.37 L1531.5,724.27 L1532.5,724.17 L1533.5,724.07 L1534.5,723.97 L1535.5,723.87 L1536.5,723.76 L1537.5,723.66 L1538.5,723.56 L1539.5,723.45 L1540.5,723.35 L1541.5,723.24 L1542.5,723.14 L1543.5,723.03 L1544.5,722.92 L1545.5,722.81 L1546.5,722.71 L1547.5,722.60 L1548.5,722.49 L1549.5,722.38 L1550.5,722.27 L1551.5,722.16 L1552.5,722.05 L1553.5,721.93 L1554.5,721.82 L1555.5,721.71 L1556.5,721.60 L1557.5,721.48 L1558.5,721.37 L1559.5,721.26 L1560.5,721.14 L1561.5,721.03 L1562.5,720.91 L1563.5,720.80 L1564.5,720.68 L1565.5,720.57 L1566.5,720.45 L1567.5,720.33 L1568.5,720.22 L1569.5,720.10 L1570.5,719.99 L1571.5,719.87 L1572.5,719.75 L1573.5,719.63 L1574.5,719.52 L1575.5,719.40 L1576.5,719.28 L1577.5,719.16 L1578.5,719.05 L1579.5,718.93 L1580.5,718.81 L1581.5,718.69 L1582.5,718.57 L1583.5,718.46 L1584.5,718.34 L1585.5,718.22 L1586.5,718.10 L1587.5,717.98 L1588.5,717.87 L1589.5,717.75 L1590.5,717.63 L1591.5,717.51 L1592.5,717.39 L1593.5,717.28 L1594.5,717.16 L1595.5,717.04 L1596.5,716.92 L1597.5,716.81 L1598.5,716.69 L1599.5,716.57 L1600.5,716.46 L1601.5,716.34 L1602.5,716.22 L1603.5,716.11 L1604.5,715.99 L1605.5,715.88 L1606.5,715.76 L1607.5,715.65 L1608.5,715.53 L1609.5,715.42 L1610.5,715.31 L1611.5,715.19 L1612.5,715.08 L1613.5,714.97 L1614.5,714.85 L1615.5,714.74 L1616.5,714.63 L1617.5,714.52 L1618.5,714.41 L1619.5,714.30 L1620.5,714.19 L1621.5,714.08 L1622.5,713.97 L1623.5,713.86 L1624.5,713.75 L1625.5,713.64 L1626.5,713.53 L1627.5,713.42 L1628.5,713.31 L1629.5,713.20 L1630.5,713.09 L1631.5,712.98 L1632.5,712.87 L1633.5,712.76 L1634.5,712.66 L1635.5,712.55 L1636.5,712.44 L1637.5,712.34 L1638.5,712.23 L1639.5,712.12 L1640.5,712.02 L1641.5,711.92 L1642.5,711.81 L1643.5,711.71 L1644.5,711.61 L1645.5,711.51 L1646.5,711.41 L1647.5,711.31 L1648.5,711.21 L1649.5,711.11 L1650.5,711.02 L1651.5,710.92 L1652.5,710.82 L1653.5,710.72 L1654.5,710.63 L1655.5,710.53 L1656.5,710.43 L1657.5,710.33 L1658.5,710.24 L1659.5,710.14 L1660.5,710.04 L1661.5,709.95 L1662.5,709.85 L1663.5,709.75 L1664.5,709.66 L1665.5,709.56 L1666.5,709.47 L1667.5,709.37 L1668.5,709.28 L1669.5,709.18 L1670.5,709.08 L1671.5,708.99 L1672.5,708.89 L1673.5,708.80 L1674.5,708.71 L1675.5,708.61 L1676.5,708.52 L1677.5,708.42 L1678.5,708.33 L1679.5,708.23 L1680.5,708.14 L1681.5,708.05 L1682.5,707.95 L1683.5,707.86 L1684.5,707.77 L1685.5,707.67 L1686.5,707.58 L1687.5,707.49 L1688.5,707.40 L1689.5,707.31 L1690.5,707.21 L1691.5,707.12 L1692.5,707.03 L1693.5,706.94 L1694.5,706.85 L1695.5,706.76 L1696.5,706.67 L1697.5,706.58 L1698.5,706.49 L1699.5,706.40 L1700.5,706.31 L1701.5,706.22 L1702.5,706.13 L1703.5,706.04 L1704.5,705.95 L1705.5,705.86 L1706.5,705.77 L1707.5,705.68 L1708.5,705.60 L1709.5,705.51 L1710.5,705.42 L1711.5,705.33 L1712.5,705.25 L1713.5,705.16 L1714.5,705.07 L1715.5,704.99 L1716.5,704.90 L1717.5,704.82 L1718.5,704.73 L1719.5,704.64 L1720.5,704.56 L1721.5,704.47 L1722.5,704.39 L1723.5,704.31 L1724.5,704.22 L1725.5,704.14 L1726.5,704.05 L1727.5,703.97 L1728.5,703.89 L1729.5,703.81 L1730.5,703.72 L1731.5,703.64 L1732.5,703.56 L1733.5,703.48 L1734.5,703.40 L1735.5,703.32 L1736.5,703.24 L1737.5,703.16 L1738.5,703.08 L1739.5,703.00 L1740.5,702.92 L1741.5,702.84 L1742.5,702.76 L1743.5,702.68 L1744.5,702.60 L1745.5,702.52 L1746.5,702.45 L1747.5,702.37 L1748.5,702.29 L1749.5,702.22 L1750.5,702.14 L1751.5,702.06 L1752.5,701.99 L1753.5,701.91 L1754.5,701.84 L1755.5,701.76 L1756.5,701.69 L1757.5,701.61 L1758.5,701.54 L1759.5,701.47 L1760.5,701.40 L1761.5,701.32 L1762.5,701.25" fill="none" stroke="#005a00" stroke-width="2.3" stroke-dasharray="7.975 7.177" stroke-dashoffset="0" clip-path="url(#cd)"/>
<path d="M160.0,68.63 L163.0,68.64 L166.0,68.65 L169.0,68.67 L172.0,68.68 L175.0,68.70 L178.0,68.71 L181.0,68.73 L184.0,68.75 L187.0,68.77 L190.0,68.79 L193.0,68.81 L196.0,68.84 L199.0,68.86 L202.0,68.89 L205.0,68.93 L208.0,68.96 L211.0,69.00 L214.0,69.04 L217.0,69.08 L220.0,69.13 L223.0,69.18 L226.0,69.23 L229.0,69.29 L232.0,69.36 L235.0,69.43 L238.0,69.50 L241.0,69.58 L244.0,69.67 L247.0,69.76 L250.0,69.87 L253.0,69.98 L256.0,70.10 L259.0,70.23 L262.0,70.36 L265.0,70.51 L268.0,70.68 L271.0,70.85 L274.0,71.04 L277.0,71.25 L280.0,71.47 L283.0,71.71 L286.0,71.96 L289.0,72.24 L292.0,72.54 L295.0,72.87 L298.0,73.22 L301.0,73.60 L304.0,74.00 L307.0,74.44 L310.0,74.92 L313.0,75.43 L316.0,75.98 L319.0,76.57 L322.0,77.21 L325.0,77.90 L328.0,78.65 L331.0,79.45 L334.0,80.31 L337.0,81.24 L340.0,82.23 L343.0,83.31 L346.0,84.46 L349.0,85.70 L352.0,87.02 L355.0,88.45 L358.0,89.98 L361.0,91.62 L364.0,93.38 L367.0,95.26 L370.0,97.28 L373.0,99.43 L376.0,101.73 L379.0,104.18 L382.0,106.79 L385.0,109.58 L388.0,112.54 L391.0,115.68 L394.0,119.02 L397.0,122.56 L400.0,126.31 L403.0,130.27 L406.0,134.45 L409.0,138.85 L412.0,143.47 L415.0,148.33 L418.0,153.42 L421.0,158.74 L424.0,164.29 L427.0,170.07 L430.0,176.08 L433.0,182.30 L436.0,188.74 L439.0,195.37 L442.0,202.20 L445.0,209.20 L448.0,216.36 L451.0,223.66 L454.0,231.09 L457.0,238.63 L460.0,246.25 L463.0,253.93 L466.0,261.65 L469.0,269.39 L472.0,277.12 L475.0,284.82 L478.0,292.46 L481.0,300.03 L484.0,307.51 L487.0,314.86 L490.0,322.08 L493.0,329.14 L496.0,336.03 L499.0,342.74 L502.0,349.26 L505.0,355.56 L508.0,361.65 L511.0,367.52 L514.0,373.16 L517.0,378.57 L520.0,383.75 L523.0,388.69 L526.0,393.41 L529.0,397.89 L532.0,402.16 L535.0,406.20 L538.0,410.03 L541.0,413.64 L544.0,417.06 L547.0,420.28 L550.0,423.31 L553.0,426.16 L556.0,428.84 L559.0,431.35 L562.0,433.71 L565.0,435.92 L568.0,437.98 L571.0,439.91 L574.0,441.72 L577.0,443.40 L580.0,444.97 L583.0,446.44 L586.0,447.81 L589.0,449.08 L592.0,450.26 L595.0,451.37 L598.0,452.39 L601.0,453.34 L604.0,454.23 L607.0,455.05 L610.0,455.82 L613.0,456.53 L616.0,457.19 L619.0,457.80 L622.0,458.37 L625.0,458.89 L628.0,459.38 L631.0,459.83 L634.0,460.25 L637.0,460.64 L640.0,461.00 L643.0,461.34 L646.0,461.64 L649.0,461.93 L652.0,462.20 L655.0,462.44 L658.0,462.67 L661.0,462.88 L664.0,463.08 L667.0,463.26 L670.0,463.42 L673.0,463.58 L676.0,463.72 L679.0,463.86 L682.0,463.98 L685.0,464.09 L688.0,464.20 L691.0,464.29 L694.0,464.39 L697.0,464.47 L700.0,464.55 L703.0,464.62 L706.0,464.68 L709.0,464.74 L712.0,464.80 L715.0,464.85 L718.0,464.90 L721.0,464.95 L724.0,464.99 L727.0,465.03 L730.0,465.06 L733.0,465.09 L736.0,465.13 L739.0,465.15 L742.0,465.18 L745.0,465.20 L748.0,465.23 L751.0,465.25 L754.0,465.27 L757.0,465.28 L760.0,465.30 L763.0,465.31 L766.0,465.33 L769.0,465.34 L772.0,465.35 L775.0,465.36 L778.0,465.37 L781.0,465.38 L784.0,465.39 L787.0,465.40 L790.0,465.41 L793.0,465.41 L796.0,465.42 L799.0,465.43 L802.0,465.43 L805.0,465.44 L808.0,465.44 L811.0,465.45 L814.0,465.45 L817.0,465.45 L820.0,465.46 L823.0,465.46 L826.0,465.46 L829.0,465.47 L832.0,465.47 L835.0,465.47 L838.0,465.47 L841.0,465.48 L844.0,465.48 L847.0,465.48 L850.0,465.48 L853.0,465.48 L856.0,465.48 L859.0,465.48 L862.0,465.49 L865.0,465.49 L868.0,465.49 L871.0,465.49 L874.0,465.49 L877.0,465.49 L880.0,465.49 L883.0,465.49 L886.0,465.49 L889.0,465.49 L892.0,465.49 L895.0,465.49 L898.0,465.49 L901.0,465.49 L904.0,465.50 L907.0,465.50 L910.0,465.50 L913.0,465.50 L916.0,465.50 L919.0,465.50 L922.0,465.50 L925.0,465.50 L928.0,465.50 L931.0,465.50 L934.0,465.50 L937.0,465.50 L940.0,465.50 L943.0,465.50 L946.0,465.50 L949.0,465.50" fill="none" stroke="#005a00" stroke-width="6.6" stroke-linecap="butt" stroke-linejoin="round" clip-path="url(#ca)"/>
<circle cx="160.0" cy="68.63" r="3.3" fill="#005a00"/>
<path d="M988.0,85.97 L991.0,86.69 L994.0,87.44 L997.0,88.22 L1000.0,89.04 L1003.0,89.89 L1006.0,90.78 L1009.0,91.71 L1012.0,92.67 L1015.0,93.67 L1018.0,94.72 L1021.0,95.81 L1024.0,96.95 L1027.0,98.13 L1030.0,99.36 L1033.0,100.64 L1036.0,101.97 L1039.0,103.35 L1042.0,104.78 L1045.0,106.28 L1048.0,107.83 L1051.0,109.43 L1054.0,111.10 L1057.0,112.84 L1060.0,114.63 L1063.0,116.49 L1066.0,118.42 L1069.0,120.42 L1072.0,122.48 L1075.0,124.62 L1078.0,126.83 L1081.0,129.12 L1084.0,131.47 L1087.0,133.91 L1090.0,136.42 L1093.0,139.01 L1096.0,141.68 L1099.0,144.43 L1102.0,147.26 L1105.0,150.17 L1108.0,153.16 L1111.0,156.23 L1114.0,159.38 L1117.0,162.62 L1120.0,165.93 L1123.0,169.32 L1126.0,172.79 L1129.0,176.33 L1132.0,179.95 L1135.0,183.65 L1138.0,187.42 L1141.0,191.26 L1144.0,195.16 L1147.0,199.13 L1150.0,203.17 L1153.0,207.26 L1156.0,211.41 L1159.0,215.62 L1162.0,219.87 L1165.0,224.17 L1168.0,228.52 L1171.0,232.90 L1174.0,237.31 L1177.0,241.75 L1180.0,246.22 L1183.0,250.71 L1186.0,255.21 L1189.0,259.73 L1192.0,264.25 L1195.0,268.77 L1198.0,273.28 L1201.0,277.79 L1204.0,282.29 L1207.0,286.76 L1210.0,291.22 L1213.0,295.64 L1216.0,300.03 L1219.0,304.39 L1222.0,308.71 L1225.0,312.98 L1228.0,317.20 L1231.0,321.38 L1234.0,325.49 L1237.0,329.55 L1240.0,333.54 L1243.0,337.48 L1246.0,341.34 L1249.0,345.14 L1252.0,348.86 L1255.0,352.51 L1258.0,356.08 L1261.0,359.58 L1264.0,363.00 L1267.0,366.34 L1270.0,369.60 L1273.0,372.79 L1276.0,375.89 L1279.0,378.91 L1282.0,381.85 L1285.0,384.71 L1288.0,387.49 L1291.0,390.19 L1294.0,392.81 L1297.0,395.35 L1300.0,397.82 L1303.0,400.20 L1306.0,402.52 L1309.0,404.75 L1312.0,406.92 L1315.0,409.01 L1318.0,411.04 L1321.0,412.99 L1324.0,414.88 L1327.0,416.70 L1330.0,418.45 L1333.0,420.14 L1336.0,421.78 L1339.0,423.35 L1342.0,424.86 L1345.0,426.32 L1348.0,427.72 L1351.0,429.07 L1354.0,430.37 L1357.0,431.62 L1360.0,432.81 L1363.0,433.97 L1366.0,435.07 L1369.0,436.14 L1372.0,437.16 L1375.0,438.14 L1378.0,439.08 L1381.0,439.98 L1384.0,440.84 L1387.0,441.67 L1390.0,442.47 L1393.0,443.23 L1396.0,443.96 L1399.0,444.67 L1402.0,445.34 L1405.0,445.98 L1408.0,446.60 L1411.0,447.19 L1414.0,447.75 L1417.0,448.29 L1420.0,448.81 L1423.0,449.31 L1426.0,449.78 L1429.0,450.24 L1432.0,450.67 L1435.0,451.09 L1438.0,451.48 L1441.0,451.86 L1444.0,452.23 L1447.0,452.58 L1450.0,452.91 L1453.0,453.23 L1456.0,453.53 L1459.0,453.82 L1462.0,454.10 L1465.0,454.37 L1468.0,454.62 L1471.0,454.87 L1474.0,455.10 L1477.0,455.32 L1480.0,455.53 L1483.0,455.74 L1486.0,455.93 L1489.0,456.12 L1492.0,456.29 L1495.0,456.46 L1498.0,456.62 L1501.0,456.78 L1504.0,456.93 L1507.0,457.07 L1510.0,457.20 L1513.0,457.33 L1516.0,457.45 L1519.0,457.57 L1522.0,457.68 L1525.0,457.79 L1528.0,457.89 L1531.0,457.99 L1534.0,458.08 L1537.0,458.17 L1540.0,458.26 L1543.0,458.34 L1546.0,458.42 L1549.0,458.49 L1552.0,458.56 L1555.0,458.63 L1558.0,458.70 L1561.0,458.76 L1564.0,458.82 L1567.0,458.87 L1570.0,458.93 L1573.0,458.98 L1576.0,459.03 L1579.0,459.07 L1582.0,459.12 L1585.0,459.16 L1588.0,459.20 L1591.0,459.24 L1594.0,459.28 L1597.0,459.31 L1600.0,459.35 L1603.0,459.38 L1606.0,459.41 L1609.0,459.44 L1612.0,459.47 L1615.0,459.49 L1618.0,459.52 L1621.0,459.55 L1624.0,459.57 L1627.0,459.59 L1630.0,459.61 L1633.0,459.63 L1636.0,459.65 L1639.0,459.67 L1642.0,459.69 L1645.0,459.71 L1648.0,459.72 L1651.0,459.74 L1654.0,459.75 L1657.0,459.77 L1660.0,459.78 L1663.0,459.79 L1666.0,459.80 L1669.0,459.82 L1672.0,459.83 L1675.0,459.84 L1678.0,459.85 L1681.0,459.86 L1684.0,459.87 L1687.0,459.88 L1690.0,459.88 L1693.0,459.89 L1696.0,459.90 L1699.0,459.91 L1702.0,459.91 L1705.0,459.92 L1708.0,459.93 L1711.0,459.93 L1714.0,459.94 L1717.0,459.95 L1720.0,459.95 L1723.0,459.96 L1726.0,459.96 L1729.0,459.96 L1732.0,459.97 L1735.0,459.97 L1738.0,459.98 L1741.0,459.98 L1744.0,459.99 L1747.0,459.99 L1750.0,459.99 L1753.0,460.00 L1756.0,460.00 L1759.0,460.00 L1762.0,460.00 L1765.0,460.01 L1768.0,460.01" fill="none" stroke="#005a00" stroke-width="6.6" stroke-linecap="butt" stroke-linejoin="round" clip-path="url(#cb)"/>
<circle cx="988.0" cy="85.97" r="3.3" fill="#005a00"/>
<path d="M159.2,582.30 L162.2,581.84 L165.2,581.39 L168.2,580.93 L171.2,580.47 L174.2,580.02 L177.2,579.56 L180.2,579.10 L183.2,578.64 L186.2,578.19 L189.2,577.73 L192.2,577.27 L195.2,576.81 L198.2,576.36 L201.2,575.90 L204.2,575.44 L207.2,574.98 L210.2,574.52 L213.2,574.07 L216.2,573.61 L219.2,573.15 L222.2,572.69 L225.2,572.23 L228.2,571.78 L231.2,571.32 L234.2,570.85 L237.2,570.38 L240.2,569.91 L243.2,569.43 L246.2,568.96 L249.2,568.49 L252.2,568.02 L255.2,567.55 L258.2,567.09 L261.2,566.64 L264.2,566.20 L267.2,565.78 L270.2,565.36 L273.2,564.96 L276.2,564.56 L279.2,564.17 L282.2,563.78 L285.2,563.41 L288.2,563.03 L291.2,562.66 L294.2,562.30 L297.2,561.94 L300.2,561.58 L303.2,561.22 L306.2,560.87 L309.2,560.52 L312.2,560.17 L315.2,559.82 L318.2,559.47 L321.2,559.12 L324.2,558.77 L327.2,558.42 L330.2,558.07 L333.2,557.72 L336.2,557.36 L339.2,557.00 L342.2,556.64 L345.2,556.28 L348.2,555.91 L351.2,555.53 L354.2,555.16 L357.2,554.78 L360.2,554.40 L363.2,554.02 L366.2,553.64 L369.2,553.25 L372.2,552.87 L375.2,552.48 L378.2,552.10 L381.2,551.72 L384.2,551.33 L387.2,550.95 L390.2,550.57 L393.2,550.19 L396.2,549.82 L399.2,549.44 L402.2,549.07 L405.2,548.71 L408.2,548.34 L411.2,547.98 L414.2,547.63 L417.2,547.28 L420.2,546.93 L423.2,546.59 L426.2,546.25 L429.2,545.92 L432.2,545.59 L435.2,545.27 L438.2,544.95 L441.2,544.63 L444.2,544.31 L447.2,543.99 L450.2,543.68 L453.2,543.37 L456.2,543.07 L459.2,542.76 L462.2,542.46 L465.2,542.15 L468.2,541.85 L471.2,541.56 L474.2,541.26 L477.2,540.96 L480.2,540.66 L483.2,540.37 L486.2,540.07 L489.2,539.78 L492.2,539.49 L495.2,539.19 L498.2,538.90 L501.2,538.61 L504.2,538.31 L507.2,538.01 L510.2,537.71 L513.2,537.41 L516.2,537.11 L519.2,536.81 L522.2,536.51 L525.2,536.22 L528.2,535.92 L531.2,535.62 L534.2,535.32 L537.2,535.03 L540.2,534.73 L543.2,534.44 L546.2,534.15 L549.2,533.86 L552.2,533.58 L555.2,533.30 L558.2,533.02 L561.2,532.74 L564.2,532.47 L567.2,532.20 L570.2,531.94 L573.2,531.68 L576.2,531.43 L579.2,531.18 L582.2,530.94 L585.2,530.71 L588.2,530.48 L591.2,530.25 L594.2,530.03 L597.2,529.81 L600.2,529.59 L603.2,529.38 L606.2,529.17 L609.2,528.96 L612.2,528.75 L615.2,528.55 L618.2,528.35 L621.2,528.15 L624.2,527.95 L627.2,527.76 L630.2,527.56 L633.2,527.37 L636.2,527.18 L639.2,527.00 L642.2,526.81 L645.2,526.63 L648.2,526.44 L651.2,526.26 L654.2,526.08 L657.2,525.91 L660.2,525.73 L663.2,525.56 L666.2,525.38 L669.2,525.21 L672.2,525.04 L675.2,524.87 L678.2,524.70 L681.2,524.53 L684.2,524.36 L687.2,524.19 L690.2,524.03 L693.2,523.86 L696.2,523.70 L699.2,523.53 L702.2,523.37 L705.2,523.21 L708.2,523.04 L711.2,522.88 L714.2,522.72 L717.2,522.56 L720.2,522.39 L723.2,522.23 L726.2,522.07 L729.2,521.91 L732.2,521.75 L735.2,521.59 L738.2,521.43 L741.2,521.27 L744.2,521.11 L747.2,520.96 L750.2,520.80 L753.2,520.64 L756.2,520.48 L759.2,520.33 L762.2,520.17 L765.2,520.02 L768.2,519.86 L771.2,519.71 L774.2,519.55 L777.2,519.40 L780.2,519.25 L783.2,519.09 L786.2,518.94 L789.2,518.79 L792.2,518.64 L795.2,518.49 L798.2,518.34 L801.2,518.19 L804.2,518.04 L807.2,517.89 L810.2,517.75 L813.2,517.60 L816.2,517.45 L819.2,517.31 L822.2,517.16 L825.2,517.02 L828.2,516.87 L831.2,516.73 L834.2,516.59 L837.2,516.45 L840.2,516.31 L843.2,516.16 L846.2,516.03 L849.2,515.89 L852.2,515.75 L855.2,515.61 L858.2,515.47 L861.2,515.34 L864.2,515.20 L867.2,515.07 L870.2,514.93 L873.2,514.80 L876.2,514.67 L879.2,514.53 L882.2,514.40 L885.2,514.27 L888.2,514.14 L891.2,514.01 L894.2,513.89 L897.2,513.76 L900.2,513.63 L903.2,513.51 L906.2,513.38 L909.2,513.26 L912.2,513.13 L915.2,513.01 L918.2,512.89 L921.2,512.77 L924.2,512.65 L927.2,512.53 L930.2,512.41 L933.2,512.30 L936.2,512.18 L939.2,512.07 L942.2,511.95 L945.2,511.84" fill="none" stroke="#005a00" stroke-width="6.6" stroke-linecap="butt" stroke-linejoin="round" clip-path="url(#cc)"/>
<circle cx="159.2" cy="582.30" r="3.3" fill="#005a00"/>
<path d="M980.5,550.70 L983.5,550.31 L986.5,549.93 L989.5,549.55 L992.5,549.17 L995.5,548.79 L998.5,548.41 L1001.5,548.04 L1004.5,547.67 L1007.5,547.30 L1010.5,546.94 L1013.5,546.57 L1016.5,546.21 L1019.5,545.85 L1022.5,545.50 L1025.5,545.14 L1028.5,544.79 L1031.5,544.44 L1034.5,544.10 L1037.5,543.75 L1040.5,543.41 L1043.5,543.07 L1046.5,542.74 L1049.5,542.41 L1052.5,542.08 L1055.5,541.75 L1058.5,541.42 L1061.5,541.10 L1064.5,540.78 L1067.5,540.47 L1070.5,540.15 L1073.5,539.84 L1076.5,539.54 L1079.5,539.23 L1082.5,538.93 L1085.5,538.63 L1088.5,538.34 L1091.5,538.05 L1094.5,537.76 L1097.5,537.47 L1100.5,537.19 L1103.5,536.91 L1106.5,536.63 L1109.5,536.36 L1112.5,536.09 L1115.5,535.82 L1118.5,535.56 L1121.5,535.30 L1124.5,535.05 L1127.5,534.79 L1130.5,534.54 L1133.5,534.30 L1136.5,534.05 L1139.5,533.81 L1142.5,533.58 L1145.5,533.34 L1148.5,533.11 L1151.5,532.88 L1154.5,532.65 L1157.5,532.43 L1160.5,532.21 L1163.5,531.98 L1166.5,531.77 L1169.5,531.55 L1172.5,531.33 L1175.5,531.12 L1178.5,530.91 L1181.5,530.70 L1184.5,530.49 L1187.5,530.28 L1190.5,530.08 L1193.5,529.87 L1196.5,529.67 L1199.5,529.46 L1202.5,529.26 L1205.5,529.06 L1208.5,528.86 L1211.5,528.66 L1214.5,528.45 L1217.5,528.25 L1220.5,528.05 L1223.5,527.85 L1226.5,527.65 L1229.5,527.45 L1232.5,527.25 L1235.5,527.04 L1238.5,526.84 L1241.5,526.64 L1244.5,526.43 L1247.5,526.23 L1250.5,526.02 L1253.5,525.81 L1256.5,525.60 L1259.5,525.39 L1262.5,525.18 L1265.5,524.97 L1268.5,524.76 L1271.5,524.55 L1274.5,524.33 L1277.5,524.12 L1280.5,523.91 L1283.5,523.69 L1286.5,523.48 L1289.5,523.26 L1292.5,523.05 L1295.5,522.84 L1298.5,522.62 L1301.5,522.41 L1304.5,522.20 L1307.5,521.99 L1310.5,521.78 L1313.5,521.57 L1316.5,521.37 L1319.5,521.16 L1322.5,520.96 L1325.5,520.75 L1328.5,520.55 L1331.5,520.35 L1334.5,520.16 L1337.5,519.96 L1340.5,519.77 L1343.5,519.58 L1346.5,519.39 L1349.5,519.20 L1352.5,519.02 L1355.5,518.84 L1358.5,518.66 L1361.5,518.49 L1364.5,518.32 L1367.5,518.15 L1370.5,517.99 L1373.5,517.82 L1376.5,517.67 L1379.5,517.51 L1382.5,517.36 L1385.5,517.22 L1388.5,517.07 L1391.5,516.94 L1394.5,516.80 L1397.5,516.67 L1400.5,516.55 L1403.5,516.43 L1406.5,516.31 L1409.5,516.19 L1412.5,516.08 L1415.5,515.97 L1418.5,515.86 L1421.5,515.76 L1424.5,515.66 L1427.5,515.55 L1430.5,515.45 L1433.5,515.35 L1436.5,515.26 L1439.5,515.16 L1442.5,515.06 L1445.5,514.96 L1448.5,514.86 L1451.5,514.76 L1454.5,514.66 L1457.5,514.56 L1460.5,514.45 L1463.5,514.35 L1466.5,514.24 L1469.5,514.13 L1472.5,514.02 L1475.5,513.90 L1478.5,513.79 L1481.5,513.66 L1484.5,513.54 L1487.5,513.42 L1490.5,513.29 L1493.5,513.17 L1496.5,513.04 L1499.5,512.91 L1502.5,512.78 L1505.5,512.65 L1508.5,512.53 L1511.5,512.40 L1514.5,512.27 L1517.5,512.15 L1520.5,512.02 L1523.5,511.90 L1526.5,511.78 L1529.5,511.67 L1532.5,511.55 L1535.5,511.44 L1538.5,511.34 L1541.5,511.23 L1544.5,511.13 L1547.5,511.02 L1550.5,510.92 L1553.5,510.82 L1556.5,510.71 L1559.5,510.61 L1562.5,510.51 L1565.5,510.40 L1568.5,510.30 L1571.5,510.20 L1574.5,510.10 L1577.5,510.00 L1580.5,509.90 L1583.5,509.80 L1586.5,509.70 L1589.5,509.60 L1592.5,509.50 L1595.5,509.40 L1598.5,509.30 L1601.5,509.20 L1604.5,509.11 L1607.5,509.01 L1610.5,508.91 L1613.5,508.82 L1616.5,508.72 L1619.5,508.62 L1622.5,508.53 L1625.5,508.44 L1628.5,508.34 L1631.5,508.25 L1634.5,508.16 L1637.5,508.06 L1640.5,507.97 L1643.5,507.88 L1646.5,507.79 L1649.5,507.70 L1652.5,507.61 L1655.5,507.52 L1658.5,507.43 L1661.5,507.35 L1664.5,507.26 L1667.5,507.17 L1670.5,507.09 L1673.5,507.00 L1676.5,506.92 L1679.5,506.83 L1682.5,506.75 L1685.5,506.67 L1688.5,506.59 L1691.5,506.50 L1694.5,506.42 L1697.5,506.34 L1700.5,506.27 L1703.5,506.19 L1706.5,506.11 L1709.5,506.03 L1712.5,505.96 L1715.5,505.88 L1718.5,505.81 L1721.5,505.73 L1724.5,505.66 L1727.5,505.59 L1730.5,505.52 L1733.5,505.45 L1736.5,505.38 L1739.5,505.31 L1742.5,505.24 L1745.5,505.18 L1748.5,505.11 L1751.5,505.05 L1754.5,504.98 L1757.5,504.92 L1760.5,504.86 L1763.5,504.80 L1766.5,504.74" fill="none" stroke="#005a00" stroke-width="7.0" stroke-linecap="butt" stroke-linejoin="round" clip-path="url(#cd)"/>
<circle cx="980.5" cy="550.70" r="3.5" fill="#005a00"/>
<g fill="#ff2e96">
<rect x="268.3" y="218.3" width="3.2" height="77.0"/>
<rect x="263.2" y="250.0" width="13.4" height="14.8" rx="2.8"/>
<rect x="343.5" y="272.5" width="3.2" height="73.2"/>
<rect x="338.4" y="304.1" width="13.4" height="14.8" rx="2.8"/>
<rect x="419.1" y="317.8" width="3.2" height="70.0"/>
<rect x="414.0" y="345.1" width="13.4" height="14.8" rx="2.8"/>
<rect x="495.9" y="330.3" width="3.2" height="66.5"/>
<rect x="490.8" y="359.1" width="13.4" height="14.8" rx="2.8"/>
<rect x="573.4" y="355.7" width="3.2" height="61.0"/>
<rect x="568.3" y="381.0" width="13.4" height="14.8" rx="2.8"/>
<rect x="650.9" y="352.0" width="3.2" height="60.5"/>
<rect x="645.8" y="373.3" width="13.4" height="14.8" rx="2.8"/>
<rect x="726.8" y="346.9" width="3.2" height="65.6"/>
<rect x="721.7" y="372.0" width="13.4" height="14.8" rx="2.8"/>
<rect x="1090.4" y="196.4" width="3.2" height="76.1"/>
<rect x="1085.3" y="228.3" width="13.4" height="14.8" rx="2.8"/>
<rect x="1166.0" y="277.5" width="3.2" height="72.5"/>
<rect x="1160.9" y="307.0" width="13.4" height="14.8" rx="2.8"/>
<rect x="1240.4" y="306.3" width="3.2" height="69.4"/>
<rect x="1235.3" y="335.3" width="13.4" height="14.8" rx="2.8"/>
<rect x="1318.4" y="344.4" width="3.2" height="62.5"/>
<rect x="1313.3" y="369.1" width="13.4" height="14.8" rx="2.8"/>
<rect x="1395.8" y="370.3" width="3.2" height="56.1"/>
<rect x="1390.7" y="391.9" width="13.4" height="14.8" rx="2.8"/>
<rect x="1472.6" y="371.1" width="3.2" height="55.3"/>
<rect x="1467.5" y="391.4" width="13.4" height="14.8" rx="2.8"/>
<rect x="1548.7" y="390.0" width="3.2" height="48.2"/>
<rect x="1543.6" y="408.0" width="13.4" height="14.8" rx="2.8"/>
<rect x="269.9" y="584.0" width="3.2" height="70.8"/>
<rect x="264.8" y="611.3" width="13.4" height="14.8" rx="2.8"/>
<rect x="344.5" y="565.9" width="3.2" height="66.9"/>
<rect x="339.4" y="593.5" width="13.4" height="14.8" rx="2.8"/>
<rect x="420.3" y="573.0" width="3.2" height="68.6"/>
<rect x="415.2" y="601.0" width="13.4" height="14.8" rx="2.8"/>
<rect x="496.9" y="535.9" width="3.2" height="56.2"/>
<rect x="491.8" y="556.0" width="13.4" height="14.8" rx="2.8"/>
<rect x="574.5" y="613.3" width="3.2" height="75.0"/>
<rect x="569.4" y="643.1" width="13.4" height="14.8" rx="2.8"/>
<rect x="651.7" y="565.4" width="3.2" height="67.4"/>
<rect x="646.6" y="591.5" width="13.4" height="14.8" rx="2.8"/>
<rect x="727.9" y="537.5" width="3.2" height="58.4"/>
<rect x="722.8" y="560.6" width="13.4" height="14.8" rx="2.8"/>
<rect x="1090.7" y="586.2" width="3.2" height="70.6"/>
<rect x="1085.6" y="613.9" width="13.4" height="14.8" rx="2.8"/>
<rect x="1165.8" y="589.3" width="3.2" height="71.0"/>
<rect x="1160.7" y="617.2" width="13.4" height="14.8" rx="2.8"/>
<rect x="1240.6" y="571.3" width="3.2" height="67.4"/>
<rect x="1235.5" y="597.4" width="13.4" height="14.8" rx="2.8"/>
<rect x="1318.3" y="547.4" width="3.2" height="59.5"/>
<rect x="1313.2" y="570.2" width="13.4" height="14.8" rx="2.8"/>
<rect x="1395.6" y="567.6" width="3.2" height="65.2"/>
<rect x="1390.5" y="594.1" width="13.4" height="14.8" rx="2.8"/>
<rect x="1471.7" y="575.2" width="3.2" height="66.4"/>
<rect x="1466.6" y="601.7" width="13.4" height="14.8" rx="2.8"/>
<rect x="1549.0" y="575.2" width="3.2" height="68.6"/>
<rect x="1543.9" y="602.0" width="13.4" height="14.8" rx="2.8"/>
</g>
<g stroke="#000" stroke-width="2.7" fill="none" stroke-linecap="butt">
<line x1="127.6" y1="51.45" x2="127.6" y2="913.9499999999999" stroke-width="2.6"/>
<line x1="126.3" y1="52.6" x2="1773" y2="52.6" stroke-width="2.3"/>
<line x1="1771.3" y1="51.45" x2="1771.3" y2="913.9499999999999" stroke-width="2.4"/>
<line x1="126.3" y1="912.8" x2="1773" y2="912.8" stroke-width="2.3"/>
<line x1="127.6" y1="482.4" x2="1771.3" y2="482.4" stroke-width="2"/>
<line x1="949.5" y1="52.6" x2="949.5" y2="912.8" stroke-width="2.4"/>
<line x1="111" y1="465.5" x2="127.6" y2="465.5" stroke-width="2.6"/>
<line x1="111" y1="897.3" x2="127.6" y2="897.3" stroke-width="2.6"/>
<line x1="111" y1="386.1" x2="127.6" y2="386.1" stroke-width="2.6"/>
<line x1="111" y1="817.7" x2="127.6" y2="817.7" stroke-width="2.6"/>
<line x1="111" y1="306.7" x2="127.6" y2="306.7" stroke-width="2.6"/>
<line x1="111" y1="738.1" x2="127.6" y2="738.1" stroke-width="2.6"/>
<line x1="111" y1="227.3" x2="127.6" y2="227.3" stroke-width="2.6"/>
<line x1="111" y1="658.5" x2="127.6" y2="658.5" stroke-width="2.6"/>
<line x1="111" y1="147.9" x2="127.6" y2="147.9" stroke-width="2.6"/>
<line x1="111" y1="578.9" x2="127.6" y2="578.9" stroke-width="2.6"/>
<line x1="111" y1="68.5" x2="127.6" y2="68.5" stroke-width="2.6"/>
<line x1="111" y1="499.3" x2="127.6" y2="499.3" stroke-width="2.6"/>
<line x1="158.5" y1="912.8" x2="158.5" y2="929.8" stroke-width="2.5"/>
<line x1="979.8" y1="912.8" x2="979.8" y2="929.8" stroke-width="2.5"/>
<line x1="310.7" y1="912.8" x2="310.7" y2="929.8" stroke-width="2.5"/>
<line x1="1132.0" y1="912.8" x2="1132.0" y2="929.8" stroke-width="2.5"/>
<line x1="462.9" y1="912.8" x2="462.9" y2="929.8" stroke-width="2.5"/>
<line x1="1284.2" y1="912.8" x2="1284.2" y2="929.8" stroke-width="2.5"/>
<line x1="615.1" y1="912.8" x2="615.1" y2="929.8" stroke-width="2.5"/>
<line x1="1436.4" y1="912.8" x2="1436.4" y2="929.8" stroke-width="2.5"/>
<line x1="767.3" y1="912.8" x2="767.3" y2="929.8" stroke-width="2.5"/>
<line x1="1588.6" y1="912.8" x2="1588.6" y2="929.8" stroke-width="2.5"/>
<line x1="919.5" y1="912.8" x2="919.5" y2="929.8" stroke-width="2.5"/>
<line x1="1740.8" y1="912.8" x2="1740.8" y2="929.8" stroke-width="2.5"/>
</g>
<text class="tk" x="102.2" y="472.4" text-anchor="end">0</text>
<text class="tk" x="102.2" y="904.2" text-anchor="end">0</text>
<text class="tk" x="102.2" y="393.0" text-anchor="end">20</text>
<text class="tk" x="102.2" y="824.6" text-anchor="end">20</text>
<text class="tk" x="102.2" y="313.6" text-anchor="end">40</text>
<text class="tk" x="102.2" y="745.0" text-anchor="end">40</text>
<text class="tk" x="102.2" y="234.2" text-anchor="end">60</text>
<text class="tk" x="102.2" y="665.4" text-anchor="end">60</text>
<text class="tk" x="102.2" y="154.8" text-anchor="end">80</text>
<text class="tk" x="102.2" y="585.8" text-anchor="end">80</text>
<text class="tk" x="99.7" y="75.4" text-anchor="end">100</text>
<text class="tk" x="99.7" y="506.2" text-anchor="end">100</text>
<text class="tx" x="157.9" y="957.1" text-anchor="middle">0</text>
<text class="tx" x="977.9" y="961.2" text-anchor="middle">0</text>
<text class="tx" x="307.9" y="957.1" text-anchor="middle">2</text>
<text class="tx" x="1130.8" y="957.1" text-anchor="middle">2</text>
<text class="tx" x="460.9" y="957.1" text-anchor="middle">4</text>
<text class="tx" x="1282.8" y="957.1" text-anchor="middle">4</text>
<text class="tx" x="612.6" y="957.1" text-anchor="middle">6</text>
<text class="tx" x="1435.5" y="957.1" text-anchor="middle">6</text>
<text class="tx" x="763.8" y="957.1" text-anchor="middle">8</text>
<text class="tx" x="1586.8" y="957.1" text-anchor="middle">8</text>
<text class="tx" x="913.0" y="957.1" text-anchor="middle">10</text>
<text class="tx" x="1735.5" y="957.1" text-anchor="middle">10</text>
<text class="ti" x="513.3" y="30" text-anchor="middle">naturalized species</text>
<text class="ti" x="1351.5" y="28.4" text-anchor="middle">invasive species</text>
<text class="ax" x="941.5" y="1029.7" text-anchor="middle">time (years)</text>
<text class="ax" transform="translate(29.3,272) rotate(-90)" text-anchor="middle">seed viability (%)</text>
<text class="ax" transform="translate(29.3,713.5) rotate(-90)" text-anchor="middle">germinability (%)</text>
<text class="pl" x="139" y="461.5">(a)</text>
<text class="pl" x="961.8" y="461.5">(b)</text>
<text class="pl" x="134.7" y="891.2">(c)</text>
<text class="pl" x="958.9" y="891">(d)</text>
</svg></body></html>
